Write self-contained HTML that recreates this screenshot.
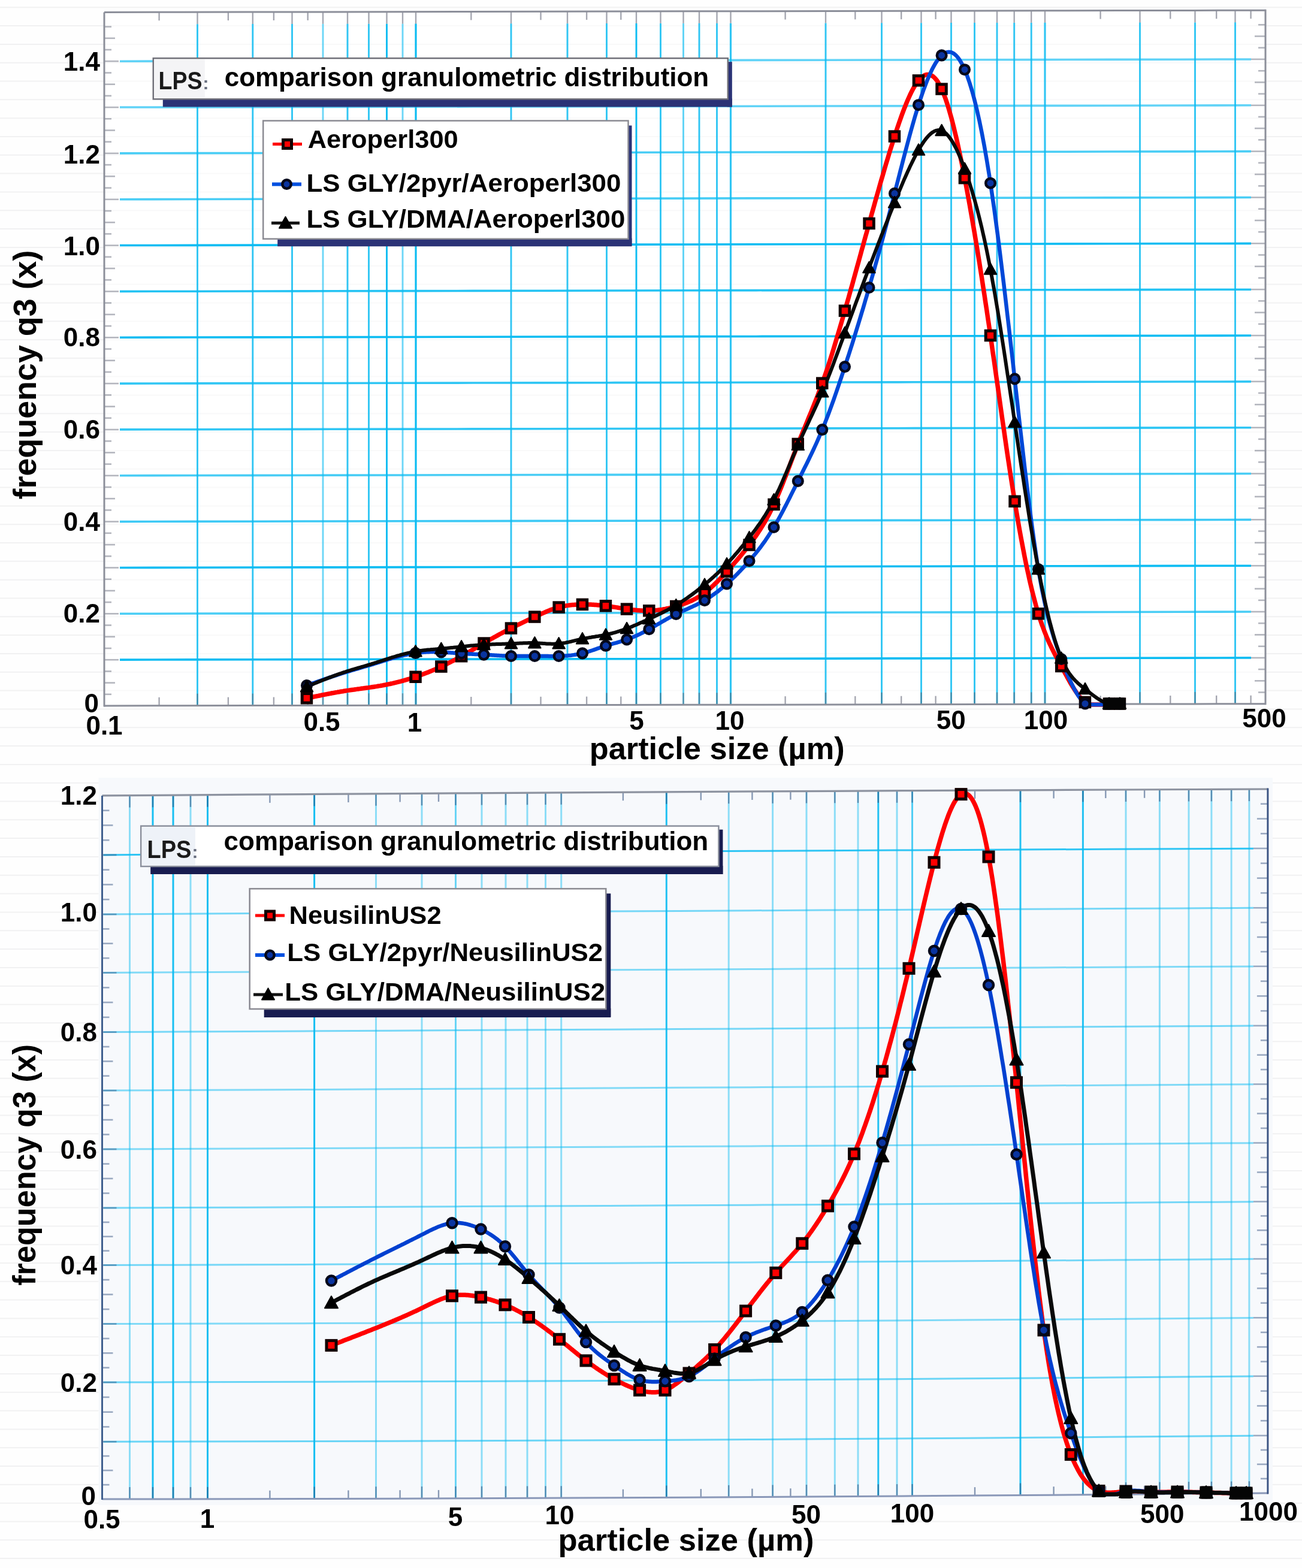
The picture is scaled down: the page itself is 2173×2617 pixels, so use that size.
<!DOCTYPE html>
<html><head><meta charset="utf-8"><title>granulometric distribution</title>
<style>html,body{margin:0;padding:0;background:#fff;}svg{display:block;}</style>
</head><body>
<svg width="2173" height="2617" viewBox="0 0 2173 2617" font-family="'Liberation Sans', Arial, sans-serif">
<rect width="2173" height="2617" fill="#fefefe"/>
<line x1="0" y1="12.2" x2="2173" y2="12.2" stroke="#f1f1f2" stroke-width="2"/>
<line x1="0" y1="43.1" x2="2173" y2="43.1" stroke="#f1f1f2" stroke-width="2"/>
<line x1="0" y1="73.9" x2="2173" y2="73.9" stroke="#f1f1f2" stroke-width="2"/>
<line x1="0" y1="104.7" x2="2173" y2="104.7" stroke="#f1f1f2" stroke-width="2"/>
<line x1="0" y1="135.5" x2="2173" y2="135.5" stroke="#f1f1f2" stroke-width="2"/>
<line x1="0" y1="166.3" x2="2173" y2="166.3" stroke="#f1f1f2" stroke-width="2"/>
<line x1="0" y1="197.2" x2="2173" y2="197.2" stroke="#f1f1f2" stroke-width="2"/>
<line x1="0" y1="228.0" x2="2173" y2="228.0" stroke="#f1f1f2" stroke-width="2"/>
<line x1="0" y1="258.8" x2="2173" y2="258.8" stroke="#f1f1f2" stroke-width="2"/>
<line x1="0" y1="289.6" x2="2173" y2="289.6" stroke="#f1f1f2" stroke-width="2"/>
<line x1="0" y1="320.4" x2="2173" y2="320.4" stroke="#f1f1f2" stroke-width="2"/>
<line x1="0" y1="351.3" x2="2173" y2="351.3" stroke="#f1f1f2" stroke-width="2"/>
<line x1="0" y1="382.1" x2="2173" y2="382.1" stroke="#f1f1f2" stroke-width="2"/>
<line x1="0" y1="412.9" x2="2173" y2="412.9" stroke="#f1f1f2" stroke-width="2"/>
<line x1="0" y1="443.7" x2="2173" y2="443.7" stroke="#f1f1f2" stroke-width="2"/>
<line x1="0" y1="474.5" x2="2173" y2="474.5" stroke="#f1f1f2" stroke-width="2"/>
<line x1="0" y1="505.4" x2="2173" y2="505.4" stroke="#f1f1f2" stroke-width="2"/>
<line x1="0" y1="536.2" x2="2173" y2="536.2" stroke="#f1f1f2" stroke-width="2"/>
<line x1="0" y1="567.0" x2="2173" y2="567.0" stroke="#f1f1f2" stroke-width="2"/>
<line x1="0" y1="597.8" x2="2173" y2="597.8" stroke="#f1f1f2" stroke-width="2"/>
<line x1="0" y1="628.6" x2="2173" y2="628.6" stroke="#f1f1f2" stroke-width="2"/>
<line x1="0" y1="659.5" x2="2173" y2="659.5" stroke="#f1f1f2" stroke-width="2"/>
<line x1="0" y1="690.3" x2="2173" y2="690.3" stroke="#f1f1f2" stroke-width="2"/>
<line x1="0" y1="721.1" x2="2173" y2="721.1" stroke="#f1f1f2" stroke-width="2"/>
<line x1="0" y1="751.9" x2="2173" y2="751.9" stroke="#f1f1f2" stroke-width="2"/>
<line x1="0" y1="782.7" x2="2173" y2="782.7" stroke="#f1f1f2" stroke-width="2"/>
<line x1="0" y1="813.6" x2="2173" y2="813.6" stroke="#f1f1f2" stroke-width="2"/>
<line x1="0" y1="844.4" x2="2173" y2="844.4" stroke="#f1f1f2" stroke-width="2"/>
<line x1="0" y1="875.2" x2="2173" y2="875.2" stroke="#f1f1f2" stroke-width="2"/>
<line x1="0" y1="906.0" x2="2173" y2="906.0" stroke="#f1f1f2" stroke-width="2"/>
<line x1="0" y1="936.8" x2="2173" y2="936.8" stroke="#f1f1f2" stroke-width="2"/>
<line x1="0" y1="967.7" x2="2173" y2="967.7" stroke="#f1f1f2" stroke-width="2"/>
<line x1="0" y1="998.5" x2="2173" y2="998.5" stroke="#f1f1f2" stroke-width="2"/>
<line x1="0" y1="1029.3" x2="2173" y2="1029.3" stroke="#f1f1f2" stroke-width="2"/>
<line x1="0" y1="1060.1" x2="2173" y2="1060.1" stroke="#f1f1f2" stroke-width="2"/>
<line x1="0" y1="1090.9" x2="2173" y2="1090.9" stroke="#f1f1f2" stroke-width="2"/>
<line x1="0" y1="1121.8" x2="2173" y2="1121.8" stroke="#f1f1f2" stroke-width="2"/>
<line x1="0" y1="1152.6" x2="2173" y2="1152.6" stroke="#f1f1f2" stroke-width="2"/>
<line x1="0" y1="1183.4" x2="2173" y2="1183.4" stroke="#f1f1f2" stroke-width="2"/>
<line x1="0" y1="1214.2" x2="2173" y2="1214.2" stroke="#f1f1f2" stroke-width="2"/>
<line x1="0" y1="1245.0" x2="2173" y2="1245.0" stroke="#f1f1f2" stroke-width="2"/>
<line x1="0" y1="1275.9" x2="2173" y2="1275.9" stroke="#f1f1f2" stroke-width="2"/>
<line x1="0" y1="1306.7" x2="2173" y2="1306.7" stroke="#f1f1f2" stroke-width="2"/>
<line x1="0" y1="1337.5" x2="2173" y2="1337.5" stroke="#f1f1f2" stroke-width="2"/>
<line x1="0" y1="1368.3" x2="2173" y2="1368.3" stroke="#f1f1f2" stroke-width="2"/>
<line x1="0" y1="1399.1" x2="2173" y2="1399.1" stroke="#f1f1f2" stroke-width="2"/>
<line x1="0" y1="1430.0" x2="2173" y2="1430.0" stroke="#f1f1f2" stroke-width="2"/>
<line x1="0" y1="1460.8" x2="2173" y2="1460.8" stroke="#f1f1f2" stroke-width="2"/>
<line x1="0" y1="1491.6" x2="2173" y2="1491.6" stroke="#f1f1f2" stroke-width="2"/>
<line x1="0" y1="1522.4" x2="2173" y2="1522.4" stroke="#f1f1f2" stroke-width="2"/>
<line x1="0" y1="1553.2" x2="2173" y2="1553.2" stroke="#f1f1f2" stroke-width="2"/>
<line x1="0" y1="1584.1" x2="2173" y2="1584.1" stroke="#f1f1f2" stroke-width="2"/>
<line x1="0" y1="1614.9" x2="2173" y2="1614.9" stroke="#f1f1f2" stroke-width="2"/>
<line x1="0" y1="1645.7" x2="2173" y2="1645.7" stroke="#f1f1f2" stroke-width="2"/>
<line x1="0" y1="1676.5" x2="2173" y2="1676.5" stroke="#f1f1f2" stroke-width="2"/>
<line x1="0" y1="1707.3" x2="2173" y2="1707.3" stroke="#f1f1f2" stroke-width="2"/>
<line x1="0" y1="1738.2" x2="2173" y2="1738.2" stroke="#f1f1f2" stroke-width="2"/>
<line x1="0" y1="1769.0" x2="2173" y2="1769.0" stroke="#f1f1f2" stroke-width="2"/>
<line x1="0" y1="1799.8" x2="2173" y2="1799.8" stroke="#f1f1f2" stroke-width="2"/>
<line x1="0" y1="1830.6" x2="2173" y2="1830.6" stroke="#f1f1f2" stroke-width="2"/>
<line x1="0" y1="1861.4" x2="2173" y2="1861.4" stroke="#f1f1f2" stroke-width="2"/>
<line x1="0" y1="1892.3" x2="2173" y2="1892.3" stroke="#f1f1f2" stroke-width="2"/>
<line x1="0" y1="1923.1" x2="2173" y2="1923.1" stroke="#f1f1f2" stroke-width="2"/>
<line x1="0" y1="1953.9" x2="2173" y2="1953.9" stroke="#f1f1f2" stroke-width="2"/>
<line x1="0" y1="1984.7" x2="2173" y2="1984.7" stroke="#f1f1f2" stroke-width="2"/>
<line x1="0" y1="2015.5" x2="2173" y2="2015.5" stroke="#f1f1f2" stroke-width="2"/>
<line x1="0" y1="2046.4" x2="2173" y2="2046.4" stroke="#f1f1f2" stroke-width="2"/>
<line x1="0" y1="2077.2" x2="2173" y2="2077.2" stroke="#f1f1f2" stroke-width="2"/>
<line x1="0" y1="2108.0" x2="2173" y2="2108.0" stroke="#f1f1f2" stroke-width="2"/>
<line x1="0" y1="2138.8" x2="2173" y2="2138.8" stroke="#f1f1f2" stroke-width="2"/>
<line x1="0" y1="2169.6" x2="2173" y2="2169.6" stroke="#f1f1f2" stroke-width="2"/>
<line x1="0" y1="2200.5" x2="2173" y2="2200.5" stroke="#f1f1f2" stroke-width="2"/>
<line x1="0" y1="2231.3" x2="2173" y2="2231.3" stroke="#f1f1f2" stroke-width="2"/>
<line x1="0" y1="2262.1" x2="2173" y2="2262.1" stroke="#f1f1f2" stroke-width="2"/>
<line x1="0" y1="2292.9" x2="2173" y2="2292.9" stroke="#f1f1f2" stroke-width="2"/>
<line x1="0" y1="2323.7" x2="2173" y2="2323.7" stroke="#f1f1f2" stroke-width="2"/>
<line x1="0" y1="2354.6" x2="2173" y2="2354.6" stroke="#f1f1f2" stroke-width="2"/>
<line x1="0" y1="2385.4" x2="2173" y2="2385.4" stroke="#f1f1f2" stroke-width="2"/>
<line x1="0" y1="2416.2" x2="2173" y2="2416.2" stroke="#f1f1f2" stroke-width="2"/>
<line x1="0" y1="2447.0" x2="2173" y2="2447.0" stroke="#f1f1f2" stroke-width="2"/>
<line x1="0" y1="2477.8" x2="2173" y2="2477.8" stroke="#f1f1f2" stroke-width="2"/>
<line x1="0" y1="2508.7" x2="2173" y2="2508.7" stroke="#f1f1f2" stroke-width="2"/>
<line x1="0" y1="2539.5" x2="2173" y2="2539.5" stroke="#f1f1f2" stroke-width="2"/>
<line x1="0" y1="2570.3" x2="2173" y2="2570.3" stroke="#f1f1f2" stroke-width="2"/>
<line x1="0" y1="2601.1" x2="2173" y2="2601.1" stroke="#f1f1f2" stroke-width="2"/>
<line x1="0" y1="2631.9" x2="2173" y2="2631.9" stroke="#f1f1f2" stroke-width="2"/>
<line x1="0" y1="2662.8" x2="2173" y2="2662.8" stroke="#f1f1f2" stroke-width="2"/>
<line x1="0" y1="2693.6" x2="2173" y2="2693.6" stroke="#f1f1f2" stroke-width="2"/>
<line x1="0" y1="2724.4" x2="2173" y2="2724.4" stroke="#f1f1f2" stroke-width="2"/>
<line x1="0" y1="2755.2" x2="2173" y2="2755.2" stroke="#f1f1f2" stroke-width="2"/>
<rect x="174" y="20.5" width="1938" height="1157.5" fill="#ffffff" opacity="0.55"/>
<line x1="329.5" y1="40.2" x2="329.5" y2="1177.7" stroke="#0cbcf2" stroke-width="2.9" opacity="0.85"/>
<line x1="421.8" y1="40.1" x2="421.8" y2="1177.6" stroke="#0cbcf2" stroke-width="2.9" opacity="0.85"/>
<line x1="487.5" y1="40.0" x2="487.5" y2="1177.5" stroke="#0cbcf2" stroke-width="2.9" opacity="0.85"/>
<line x1="539.0" y1="39.9" x2="539.0" y2="1177.4" stroke="#0cbcf2" stroke-width="2.9" opacity="0.6"/>
<line x1="580.0" y1="39.8" x2="580.0" y2="1177.3" stroke="#0cbcf2" stroke-width="2.9" opacity="0.85"/>
<line x1="615.5" y1="39.7" x2="615.5" y2="1177.2" stroke="#0cbcf2" stroke-width="2.9" opacity="0.85"/>
<line x1="645.5" y1="39.7" x2="645.5" y2="1177.2" stroke="#0cbcf2" stroke-width="2.9" opacity="1"/>
<line x1="672.0" y1="39.7" x2="672.0" y2="1177.2" stroke="#0cbcf2" stroke-width="2.9" opacity="0.6"/>
<line x1="694.0" y1="39.6" x2="694.0" y2="1177.1" stroke="#0cbcf2" stroke-width="3.1999999999999997" opacity="1"/>
<line x1="853.0" y1="39.3" x2="853.0" y2="1176.8" stroke="#0cbcf2" stroke-width="2.9" opacity="0.85"/>
<line x1="947.0" y1="39.2" x2="947.0" y2="1176.7" stroke="#0cbcf2" stroke-width="2.9" opacity="0.85"/>
<line x1="1012.5" y1="39.1" x2="1012.5" y2="1176.6" stroke="#0cbcf2" stroke-width="2.9" opacity="0.85"/>
<line x1="1062.0" y1="39.0" x2="1062.0" y2="1176.5" stroke="#0cbcf2" stroke-width="2.9" opacity="1"/>
<line x1="1102.5" y1="38.9" x2="1102.5" y2="1176.4" stroke="#0cbcf2" stroke-width="2.9" opacity="0.85"/>
<line x1="1140.5" y1="38.9" x2="1140.5" y2="1176.4" stroke="#0cbcf2" stroke-width="2.9" opacity="0.65"/>
<line x1="1167.0" y1="38.8" x2="1167.0" y2="1176.3" stroke="#0cbcf2" stroke-width="2.9" opacity="0.85"/>
<line x1="1196.5" y1="38.8" x2="1196.5" y2="1176.3" stroke="#0cbcf2" stroke-width="2.9" opacity="0.85"/>
<line x1="1219.5" y1="38.7" x2="1219.5" y2="1176.2" stroke="#0cbcf2" stroke-width="3.1999999999999997" opacity="0.85"/>
<line x1="1378.0" y1="38.4" x2="1378.0" y2="1175.9" stroke="#0cbcf2" stroke-width="2.9" opacity="0.85"/>
<line x1="1471.5" y1="38.3" x2="1471.5" y2="1175.8" stroke="#0cbcf2" stroke-width="2.9" opacity="0.85"/>
<line x1="1537.5" y1="38.2" x2="1537.5" y2="1175.7" stroke="#0cbcf2" stroke-width="2.9" opacity="0.85"/>
<line x1="1587.5" y1="38.1" x2="1587.5" y2="1175.6" stroke="#0cbcf2" stroke-width="2.9" opacity="0.85"/>
<line x1="1626.5" y1="38.0" x2="1626.5" y2="1175.5" stroke="#0cbcf2" stroke-width="2.9" opacity="0.85"/>
<line x1="1664.0" y1="38.0" x2="1664.0" y2="1175.5" stroke="#0cbcf2" stroke-width="2.9" opacity="0.85"/>
<line x1="1692.7" y1="37.9" x2="1692.7" y2="1175.4" stroke="#0cbcf2" stroke-width="2.9" opacity="0.85"/>
<line x1="1721.2" y1="37.9" x2="1721.2" y2="1175.4" stroke="#0cbcf2" stroke-width="2.9" opacity="0.85"/>
<line x1="1744.0" y1="37.8" x2="1744.0" y2="1175.3" stroke="#0cbcf2" stroke-width="3.1999999999999997" opacity="0.85"/>
<line x1="1902.5" y1="37.6" x2="1902.5" y2="1175.1" stroke="#0cbcf2" stroke-width="2.9" opacity="0.85"/>
<line x1="1994.5" y1="37.4" x2="1994.5" y2="1174.9" stroke="#0cbcf2" stroke-width="2.9" opacity="0.85"/>
<line x1="2061.5" y1="37.3" x2="2061.5" y2="1174.8" stroke="#0cbcf2" stroke-width="2.9" opacity="0.85"/>
<polyline points="200.0,1101.12 318.0,1100.91 436.0,1100.71 554.0,1100.51 672.0,1100.31 790.0,1100.11 908.0,1099.91 1026.0,1099.71 1144.0,1099.51 1262.0,1099.31 1380.0,1099.11 1498.0,1098.91 1616.0,1098.70 1734.0,1098.50 1852.0,1098.30 1970.0,1098.10 2088.0,1097.90" fill="none" stroke="#0cbcf2" stroke-width="3.6" opacity="1"/>
<polyline points="200.0,1024.28 318.0,1024.07 436.0,1023.87 554.0,1023.67 672.0,1023.47 790.0,1023.27 908.0,1023.07 1026.0,1022.87 1144.0,1022.67 1262.0,1022.47 1380.0,1022.27 1498.0,1022.07 1616.0,1021.86 1734.0,1021.66 1852.0,1021.46 1970.0,1021.26 2088.0,1021.06" fill="none" stroke="#0cbcf2" stroke-width="3.6" opacity="0.75"/>
<polyline points="200.0,947.44 318.0,947.23 436.0,947.03 554.0,946.83 672.0,946.63 790.0,946.43 908.0,946.23 1026.0,946.03 1144.0,945.83 1262.0,945.63 1380.0,945.43 1498.0,945.23 1616.0,945.02 1734.0,944.82 1852.0,944.62 1970.0,944.42 2088.0,944.22" fill="none" stroke="#0cbcf2" stroke-width="3.6" opacity="1"/>
<polyline points="200.0,870.60 318.0,870.39 436.0,870.19 554.0,869.99 672.0,869.79 790.0,869.59 908.0,869.39 1026.0,869.19 1144.0,868.99 1262.0,868.79 1380.0,868.59 1498.0,868.39 1616.0,868.18 1734.0,867.98 1852.0,867.78 1970.0,867.58 2088.0,867.38" fill="none" stroke="#0cbcf2" stroke-width="3.6" opacity="0.8"/>
<polyline points="200.0,793.76 318.0,793.55 436.0,793.35 554.0,793.15 672.0,792.95 790.0,792.75 908.0,792.55 1026.0,792.35 1144.0,792.15 1262.0,791.95 1380.0,791.75 1498.0,791.55 1616.0,791.34 1734.0,791.14 1852.0,790.94 1970.0,790.74 2088.0,790.54" fill="none" stroke="#0cbcf2" stroke-width="3.6" opacity="0.75"/>
<polyline points="200.0,716.92 318.0,716.71 436.0,716.51 554.0,716.31 672.0,716.11 790.0,715.91 908.0,715.71 1026.0,715.51 1144.0,715.31 1262.0,715.11 1380.0,714.91 1498.0,714.71 1616.0,714.50 1734.0,714.30 1852.0,714.10 1970.0,713.90 2088.0,713.70" fill="none" stroke="#0cbcf2" stroke-width="3.6" opacity="0.85"/>
<polyline points="200.0,640.08 318.0,639.87 436.0,639.67 554.0,639.47 672.0,639.27 790.0,639.07 908.0,638.87 1026.0,638.67 1144.0,638.47 1262.0,638.27 1380.0,638.07 1498.0,637.87 1616.0,637.66 1734.0,637.46 1852.0,637.26 1970.0,637.06 2088.0,636.86" fill="none" stroke="#0cbcf2" stroke-width="3.6" opacity="0.85"/>
<polyline points="200.0,563.24 318.0,563.03 436.0,562.83 554.0,562.63 672.0,562.43 790.0,562.23 908.0,562.03 1026.0,561.83 1144.0,561.63 1262.0,561.43 1380.0,561.23 1498.0,561.03 1616.0,560.82 1734.0,560.62 1852.0,560.42 1970.0,560.22 2088.0,560.02" fill="none" stroke="#0cbcf2" stroke-width="3.6" opacity="1"/>
<polyline points="200.0,486.40 318.0,486.19 436.0,485.99 554.0,485.79 672.0,485.59 790.0,485.39 908.0,485.19 1026.0,484.99 1144.0,484.79 1262.0,484.59 1380.0,484.39 1498.0,484.19 1616.0,483.98 1734.0,483.78 1852.0,483.58 1970.0,483.38 2088.0,483.18" fill="none" stroke="#0cbcf2" stroke-width="3.6" opacity="0.9"/>
<polyline points="200.0,409.56 318.0,409.35 436.0,409.15 554.0,408.95 672.0,408.75 790.0,408.55 908.0,408.35 1026.0,408.15 1144.0,407.95 1262.0,407.75 1380.0,407.55 1498.0,407.35 1616.0,407.14 1734.0,406.94 1852.0,406.74 1970.0,406.54 2088.0,406.34" fill="none" stroke="#0cbcf2" stroke-width="3.6" opacity="1"/>
<polyline points="200.0,332.72 318.0,332.51 436.0,332.31 554.0,332.11 672.0,331.91 790.0,331.71 908.0,331.51 1026.0,331.31 1144.0,331.11 1262.0,330.91 1380.0,330.71 1498.0,330.51 1616.0,330.30 1734.0,330.10 1852.0,329.90 1970.0,329.70 2088.0,329.50" fill="none" stroke="#0cbcf2" stroke-width="3.6" opacity="0.75"/>
<polyline points="200.0,255.88 318.0,255.67 436.0,255.47 554.0,255.27 672.0,255.07 790.0,254.87 908.0,254.67 1026.0,254.47 1144.0,254.27 1262.0,254.07 1380.0,253.87 1498.0,253.67 1616.0,253.46 1734.0,253.26 1852.0,253.06 1970.0,252.86 2088.0,252.66" fill="none" stroke="#0cbcf2" stroke-width="3.6" opacity="0.75"/>
<polyline points="200.0,179.04 318.0,178.83 436.0,178.63 554.0,178.43 672.0,178.23 790.0,178.03 908.0,177.83 1026.0,177.63 1144.0,177.43 1262.0,177.23 1380.0,177.03 1498.0,176.83 1616.0,176.62 1734.0,176.42 1852.0,176.22 1970.0,176.02 2088.0,175.82" fill="none" stroke="#0cbcf2" stroke-width="3.6" opacity="0.65"/>
<polyline points="200.0,102.20 318.0,101.99 436.0,101.79 554.0,101.59 672.0,101.39 790.0,101.19 908.0,100.99 1026.0,100.79 1144.0,100.59 1262.0,100.39 1380.0,100.19 1498.0,99.99 1616.0,99.78 1734.0,99.58 1852.0,99.38 1970.0,99.18 2088.0,98.98" fill="none" stroke="#0cbcf2" stroke-width="3.6" opacity="0.65"/>
<line x1="174" y1="1158.8" x2="186" y2="1158.8" stroke="#5a5f70" stroke-width="2.6" opacity="0.45"/>
<line x1="2100" y1="1155.5" x2="2112" y2="1155.5" stroke="#5a5f70" stroke-width="2.6" opacity="0.45"/>
<line x1="174" y1="1139.6" x2="192" y2="1139.6" stroke="#5a5f70" stroke-width="2.6" opacity="0.45"/>
<line x1="2094" y1="1136.3" x2="2112" y2="1136.3" stroke="#5a5f70" stroke-width="2.6" opacity="0.45"/>
<line x1="174" y1="1120.4" x2="186" y2="1120.4" stroke="#5a5f70" stroke-width="2.6" opacity="0.45"/>
<line x1="2100" y1="1117.1" x2="2112" y2="1117.1" stroke="#5a5f70" stroke-width="2.6" opacity="0.45"/>
<line x1="174" y1="1101.2" x2="198" y2="1101.2" stroke="#5a5f70" stroke-width="2.6" opacity="0.45"/>
<line x1="2088" y1="1097.9" x2="2112" y2="1097.9" stroke="#5a5f70" stroke-width="2.6" opacity="0.45"/>
<line x1="174" y1="1082.0" x2="186" y2="1082.0" stroke="#5a5f70" stroke-width="2.6" opacity="0.45"/>
<line x1="2100" y1="1078.7" x2="2112" y2="1078.7" stroke="#5a5f70" stroke-width="2.6" opacity="0.45"/>
<line x1="174" y1="1062.7" x2="192" y2="1062.7" stroke="#5a5f70" stroke-width="2.6" opacity="0.45"/>
<line x1="2094" y1="1059.4" x2="2112" y2="1059.4" stroke="#5a5f70" stroke-width="2.6" opacity="0.45"/>
<line x1="174" y1="1043.5" x2="186" y2="1043.5" stroke="#5a5f70" stroke-width="2.6" opacity="0.45"/>
<line x1="2100" y1="1040.2" x2="2112" y2="1040.2" stroke="#5a5f70" stroke-width="2.6" opacity="0.45"/>
<line x1="174" y1="1024.3" x2="198" y2="1024.3" stroke="#5a5f70" stroke-width="2.6" opacity="0.45"/>
<line x1="2088" y1="1021.0" x2="2112" y2="1021.0" stroke="#5a5f70" stroke-width="2.6" opacity="0.45"/>
<line x1="174" y1="1005.1" x2="186" y2="1005.1" stroke="#5a5f70" stroke-width="2.6" opacity="0.45"/>
<line x1="2100" y1="1001.8" x2="2112" y2="1001.8" stroke="#5a5f70" stroke-width="2.6" opacity="0.45"/>
<line x1="174" y1="985.9" x2="192" y2="985.9" stroke="#5a5f70" stroke-width="2.6" opacity="0.45"/>
<line x1="2094" y1="982.6" x2="2112" y2="982.6" stroke="#5a5f70" stroke-width="2.6" opacity="0.45"/>
<line x1="174" y1="966.7" x2="186" y2="966.7" stroke="#5a5f70" stroke-width="2.6" opacity="0.45"/>
<line x1="2100" y1="963.4" x2="2112" y2="963.4" stroke="#5a5f70" stroke-width="2.6" opacity="0.45"/>
<line x1="174" y1="947.5" x2="198" y2="947.5" stroke="#5a5f70" stroke-width="2.6" opacity="0.45"/>
<line x1="2088" y1="944.2" x2="2112" y2="944.2" stroke="#5a5f70" stroke-width="2.6" opacity="0.45"/>
<line x1="174" y1="928.3" x2="186" y2="928.3" stroke="#5a5f70" stroke-width="2.6" opacity="0.45"/>
<line x1="2100" y1="925.0" x2="2112" y2="925.0" stroke="#5a5f70" stroke-width="2.6" opacity="0.45"/>
<line x1="174" y1="909.1" x2="192" y2="909.1" stroke="#5a5f70" stroke-width="2.6" opacity="0.45"/>
<line x1="2094" y1="905.8" x2="2112" y2="905.8" stroke="#5a5f70" stroke-width="2.6" opacity="0.45"/>
<line x1="174" y1="889.8" x2="186" y2="889.8" stroke="#5a5f70" stroke-width="2.6" opacity="0.45"/>
<line x1="2100" y1="886.5" x2="2112" y2="886.5" stroke="#5a5f70" stroke-width="2.6" opacity="0.45"/>
<line x1="174" y1="870.6" x2="198" y2="870.6" stroke="#5a5f70" stroke-width="2.6" opacity="0.45"/>
<line x1="2088" y1="867.3" x2="2112" y2="867.3" stroke="#5a5f70" stroke-width="2.6" opacity="0.45"/>
<line x1="174" y1="851.4" x2="186" y2="851.4" stroke="#5a5f70" stroke-width="2.6" opacity="0.45"/>
<line x1="2100" y1="848.1" x2="2112" y2="848.1" stroke="#5a5f70" stroke-width="2.6" opacity="0.45"/>
<line x1="174" y1="832.2" x2="192" y2="832.2" stroke="#5a5f70" stroke-width="2.6" opacity="0.45"/>
<line x1="2094" y1="828.9" x2="2112" y2="828.9" stroke="#5a5f70" stroke-width="2.6" opacity="0.45"/>
<line x1="174" y1="813.0" x2="186" y2="813.0" stroke="#5a5f70" stroke-width="2.6" opacity="0.45"/>
<line x1="2100" y1="809.7" x2="2112" y2="809.7" stroke="#5a5f70" stroke-width="2.6" opacity="0.45"/>
<line x1="174" y1="793.8" x2="198" y2="793.8" stroke="#5a5f70" stroke-width="2.6" opacity="0.45"/>
<line x1="2088" y1="790.5" x2="2112" y2="790.5" stroke="#5a5f70" stroke-width="2.6" opacity="0.45"/>
<line x1="174" y1="774.6" x2="186" y2="774.6" stroke="#5a5f70" stroke-width="2.6" opacity="0.45"/>
<line x1="2100" y1="771.3" x2="2112" y2="771.3" stroke="#5a5f70" stroke-width="2.6" opacity="0.45"/>
<line x1="174" y1="755.4" x2="192" y2="755.4" stroke="#5a5f70" stroke-width="2.6" opacity="0.45"/>
<line x1="2094" y1="752.1" x2="2112" y2="752.1" stroke="#5a5f70" stroke-width="2.6" opacity="0.45"/>
<line x1="174" y1="736.2" x2="186" y2="736.2" stroke="#5a5f70" stroke-width="2.6" opacity="0.45"/>
<line x1="2100" y1="732.9" x2="2112" y2="732.9" stroke="#5a5f70" stroke-width="2.6" opacity="0.45"/>
<line x1="174" y1="717.0" x2="198" y2="717.0" stroke="#5a5f70" stroke-width="2.6" opacity="0.45"/>
<line x1="2088" y1="713.7" x2="2112" y2="713.7" stroke="#5a5f70" stroke-width="2.6" opacity="0.45"/>
<line x1="174" y1="697.7" x2="186" y2="697.7" stroke="#5a5f70" stroke-width="2.6" opacity="0.45"/>
<line x1="2100" y1="694.4" x2="2112" y2="694.4" stroke="#5a5f70" stroke-width="2.6" opacity="0.45"/>
<line x1="174" y1="678.5" x2="192" y2="678.5" stroke="#5a5f70" stroke-width="2.6" opacity="0.45"/>
<line x1="2094" y1="675.2" x2="2112" y2="675.2" stroke="#5a5f70" stroke-width="2.6" opacity="0.45"/>
<line x1="174" y1="659.3" x2="186" y2="659.3" stroke="#5a5f70" stroke-width="2.6" opacity="0.45"/>
<line x1="2100" y1="656.0" x2="2112" y2="656.0" stroke="#5a5f70" stroke-width="2.6" opacity="0.45"/>
<line x1="174" y1="640.1" x2="198" y2="640.1" stroke="#5a5f70" stroke-width="2.6" opacity="0.45"/>
<line x1="2088" y1="636.8" x2="2112" y2="636.8" stroke="#5a5f70" stroke-width="2.6" opacity="0.45"/>
<line x1="174" y1="620.9" x2="186" y2="620.9" stroke="#5a5f70" stroke-width="2.6" opacity="0.45"/>
<line x1="2100" y1="617.6" x2="2112" y2="617.6" stroke="#5a5f70" stroke-width="2.6" opacity="0.45"/>
<line x1="174" y1="601.7" x2="192" y2="601.7" stroke="#5a5f70" stroke-width="2.6" opacity="0.45"/>
<line x1="2094" y1="598.4" x2="2112" y2="598.4" stroke="#5a5f70" stroke-width="2.6" opacity="0.45"/>
<line x1="174" y1="582.5" x2="186" y2="582.5" stroke="#5a5f70" stroke-width="2.6" opacity="0.45"/>
<line x1="2100" y1="579.2" x2="2112" y2="579.2" stroke="#5a5f70" stroke-width="2.6" opacity="0.45"/>
<line x1="174" y1="563.3" x2="198" y2="563.3" stroke="#5a5f70" stroke-width="2.6" opacity="0.45"/>
<line x1="2088" y1="560.0" x2="2112" y2="560.0" stroke="#5a5f70" stroke-width="2.6" opacity="0.45"/>
<line x1="174" y1="544.1" x2="186" y2="544.1" stroke="#5a5f70" stroke-width="2.6" opacity="0.45"/>
<line x1="2100" y1="540.8" x2="2112" y2="540.8" stroke="#5a5f70" stroke-width="2.6" opacity="0.45"/>
<line x1="174" y1="524.9" x2="192" y2="524.9" stroke="#5a5f70" stroke-width="2.6" opacity="0.45"/>
<line x1="2094" y1="521.6" x2="2112" y2="521.6" stroke="#5a5f70" stroke-width="2.6" opacity="0.45"/>
<line x1="174" y1="505.6" x2="186" y2="505.6" stroke="#5a5f70" stroke-width="2.6" opacity="0.45"/>
<line x1="2100" y1="502.3" x2="2112" y2="502.3" stroke="#5a5f70" stroke-width="2.6" opacity="0.45"/>
<line x1="174" y1="486.4" x2="198" y2="486.4" stroke="#5a5f70" stroke-width="2.6" opacity="0.45"/>
<line x1="2088" y1="483.1" x2="2112" y2="483.1" stroke="#5a5f70" stroke-width="2.6" opacity="0.45"/>
<line x1="174" y1="467.2" x2="186" y2="467.2" stroke="#5a5f70" stroke-width="2.6" opacity="0.45"/>
<line x1="2100" y1="463.9" x2="2112" y2="463.9" stroke="#5a5f70" stroke-width="2.6" opacity="0.45"/>
<line x1="174" y1="448.0" x2="192" y2="448.0" stroke="#5a5f70" stroke-width="2.6" opacity="0.45"/>
<line x1="2094" y1="444.7" x2="2112" y2="444.7" stroke="#5a5f70" stroke-width="2.6" opacity="0.45"/>
<line x1="174" y1="428.8" x2="186" y2="428.8" stroke="#5a5f70" stroke-width="2.6" opacity="0.45"/>
<line x1="2100" y1="425.5" x2="2112" y2="425.5" stroke="#5a5f70" stroke-width="2.6" opacity="0.45"/>
<line x1="174" y1="409.6" x2="198" y2="409.6" stroke="#5a5f70" stroke-width="2.6" opacity="0.45"/>
<line x1="2088" y1="406.3" x2="2112" y2="406.3" stroke="#5a5f70" stroke-width="2.6" opacity="0.45"/>
<line x1="174" y1="390.4" x2="186" y2="390.4" stroke="#5a5f70" stroke-width="2.6" opacity="0.45"/>
<line x1="2100" y1="387.1" x2="2112" y2="387.1" stroke="#5a5f70" stroke-width="2.6" opacity="0.45"/>
<line x1="174" y1="371.2" x2="192" y2="371.2" stroke="#5a5f70" stroke-width="2.6" opacity="0.45"/>
<line x1="2094" y1="367.9" x2="2112" y2="367.9" stroke="#5a5f70" stroke-width="2.6" opacity="0.45"/>
<line x1="174" y1="352.0" x2="186" y2="352.0" stroke="#5a5f70" stroke-width="2.6" opacity="0.45"/>
<line x1="2100" y1="348.7" x2="2112" y2="348.7" stroke="#5a5f70" stroke-width="2.6" opacity="0.45"/>
<line x1="174" y1="332.8" x2="198" y2="332.8" stroke="#5a5f70" stroke-width="2.6" opacity="0.45"/>
<line x1="2088" y1="329.5" x2="2112" y2="329.5" stroke="#5a5f70" stroke-width="2.6" opacity="0.45"/>
<line x1="174" y1="313.6" x2="186" y2="313.6" stroke="#5a5f70" stroke-width="2.6" opacity="0.45"/>
<line x1="2100" y1="310.3" x2="2112" y2="310.3" stroke="#5a5f70" stroke-width="2.6" opacity="0.45"/>
<line x1="174" y1="294.3" x2="192" y2="294.3" stroke="#5a5f70" stroke-width="2.6" opacity="0.45"/>
<line x1="2094" y1="291.0" x2="2112" y2="291.0" stroke="#5a5f70" stroke-width="2.6" opacity="0.45"/>
<line x1="174" y1="275.1" x2="186" y2="275.1" stroke="#5a5f70" stroke-width="2.6" opacity="0.45"/>
<line x1="2100" y1="271.8" x2="2112" y2="271.8" stroke="#5a5f70" stroke-width="2.6" opacity="0.45"/>
<line x1="174" y1="255.9" x2="198" y2="255.9" stroke="#5a5f70" stroke-width="2.6" opacity="0.45"/>
<line x1="2088" y1="252.6" x2="2112" y2="252.6" stroke="#5a5f70" stroke-width="2.6" opacity="0.45"/>
<line x1="174" y1="236.7" x2="186" y2="236.7" stroke="#5a5f70" stroke-width="2.6" opacity="0.45"/>
<line x1="2100" y1="233.4" x2="2112" y2="233.4" stroke="#5a5f70" stroke-width="2.6" opacity="0.45"/>
<line x1="174" y1="217.5" x2="192" y2="217.5" stroke="#5a5f70" stroke-width="2.6" opacity="0.45"/>
<line x1="2094" y1="214.2" x2="2112" y2="214.2" stroke="#5a5f70" stroke-width="2.6" opacity="0.45"/>
<line x1="174" y1="198.3" x2="186" y2="198.3" stroke="#5a5f70" stroke-width="2.6" opacity="0.45"/>
<line x1="2100" y1="195.0" x2="2112" y2="195.0" stroke="#5a5f70" stroke-width="2.6" opacity="0.45"/>
<line x1="174" y1="179.1" x2="198" y2="179.1" stroke="#5a5f70" stroke-width="2.6" opacity="0.45"/>
<line x1="2088" y1="175.8" x2="2112" y2="175.8" stroke="#5a5f70" stroke-width="2.6" opacity="0.45"/>
<line x1="174" y1="159.9" x2="186" y2="159.9" stroke="#5a5f70" stroke-width="2.6" opacity="0.45"/>
<line x1="2100" y1="156.6" x2="2112" y2="156.6" stroke="#5a5f70" stroke-width="2.6" opacity="0.45"/>
<line x1="174" y1="140.7" x2="192" y2="140.7" stroke="#5a5f70" stroke-width="2.6" opacity="0.45"/>
<line x1="2094" y1="137.4" x2="2112" y2="137.4" stroke="#5a5f70" stroke-width="2.6" opacity="0.45"/>
<line x1="174" y1="121.5" x2="186" y2="121.5" stroke="#5a5f70" stroke-width="2.6" opacity="0.45"/>
<line x1="2100" y1="118.2" x2="2112" y2="118.2" stroke="#5a5f70" stroke-width="2.6" opacity="0.45"/>
<line x1="174" y1="102.2" x2="198" y2="102.2" stroke="#5a5f70" stroke-width="2.6" opacity="0.45"/>
<line x1="2088" y1="98.9" x2="2112" y2="98.9" stroke="#5a5f70" stroke-width="2.6" opacity="0.45"/>
<line x1="174" y1="83.0" x2="186" y2="83.0" stroke="#5a5f70" stroke-width="2.6" opacity="0.45"/>
<line x1="2100" y1="79.7" x2="2112" y2="79.7" stroke="#5a5f70" stroke-width="2.6" opacity="0.45"/>
<line x1="174" y1="63.8" x2="192" y2="63.8" stroke="#5a5f70" stroke-width="2.6" opacity="0.45"/>
<line x1="2094" y1="60.5" x2="2112" y2="60.5" stroke="#5a5f70" stroke-width="2.6" opacity="0.45"/>
<line x1="174" y1="44.6" x2="186" y2="44.6" stroke="#5a5f70" stroke-width="2.6" opacity="0.45"/>
<line x1="2100" y1="41.3" x2="2112" y2="41.3" stroke="#5a5f70" stroke-width="2.6" opacity="0.45"/>
<line x1="265.6" y1="1177.8" x2="265.6" y2="1163.8" stroke="#5a5f70" stroke-width="2.4" opacity="0.55"/>
<line x1="265.6" y1="20.3" x2="265.6" y2="34.3" stroke="#5a5f70" stroke-width="2.4" opacity="0.55"/>
<line x1="380.9" y1="1177.6" x2="380.9" y2="1163.6" stroke="#5a5f70" stroke-width="2.4" opacity="0.55"/>
<line x1="380.9" y1="20.1" x2="380.9" y2="34.1" stroke="#5a5f70" stroke-width="2.4" opacity="0.55"/>
<line x1="456.9" y1="1177.5" x2="456.9" y2="1163.5" stroke="#5a5f70" stroke-width="2.4" opacity="0.55"/>
<line x1="456.9" y1="20.0" x2="456.9" y2="34.0" stroke="#5a5f70" stroke-width="2.4" opacity="0.55"/>
<line x1="513.7" y1="1177.4" x2="513.7" y2="1163.4" stroke="#5a5f70" stroke-width="2.4" opacity="0.55"/>
<line x1="513.7" y1="19.9" x2="513.7" y2="33.9" stroke="#5a5f70" stroke-width="2.4" opacity="0.55"/>
<line x1="329.5" y1="1177.7" x2="329.5" y2="1157.7" stroke="#5a5f70" stroke-width="2.4" opacity="0.55"/>
<line x1="329.5" y1="20.2" x2="329.5" y2="40.2" stroke="#5a5f70" stroke-width="2.4" opacity="0.55"/>
<line x1="421.8" y1="1177.6" x2="421.8" y2="1157.6" stroke="#5a5f70" stroke-width="2.4" opacity="0.55"/>
<line x1="421.8" y1="20.1" x2="421.8" y2="40.1" stroke="#5a5f70" stroke-width="2.4" opacity="0.55"/>
<line x1="487.5" y1="1177.5" x2="487.5" y2="1157.5" stroke="#5a5f70" stroke-width="2.4" opacity="0.55"/>
<line x1="487.5" y1="20.0" x2="487.5" y2="40.0" stroke="#5a5f70" stroke-width="2.4" opacity="0.55"/>
<line x1="539.0" y1="1177.4" x2="539.0" y2="1157.4" stroke="#5a5f70" stroke-width="2.4" opacity="0.55"/>
<line x1="539.0" y1="19.9" x2="539.0" y2="39.9" stroke="#5a5f70" stroke-width="2.4" opacity="0.55"/>
<line x1="580.0" y1="1177.3" x2="580.0" y2="1157.3" stroke="#5a5f70" stroke-width="2.4" opacity="0.55"/>
<line x1="580.0" y1="19.8" x2="580.0" y2="39.8" stroke="#5a5f70" stroke-width="2.4" opacity="0.55"/>
<line x1="615.5" y1="1177.2" x2="615.5" y2="1157.2" stroke="#5a5f70" stroke-width="2.4" opacity="0.55"/>
<line x1="615.5" y1="19.7" x2="615.5" y2="39.7" stroke="#5a5f70" stroke-width="2.4" opacity="0.55"/>
<line x1="645.5" y1="1177.2" x2="645.5" y2="1157.2" stroke="#5a5f70" stroke-width="2.4" opacity="0.55"/>
<line x1="645.5" y1="19.7" x2="645.5" y2="39.7" stroke="#5a5f70" stroke-width="2.4" opacity="0.55"/>
<line x1="672.0" y1="1177.2" x2="672.0" y2="1157.2" stroke="#5a5f70" stroke-width="2.4" opacity="0.55"/>
<line x1="672.0" y1="19.7" x2="672.0" y2="39.7" stroke="#5a5f70" stroke-width="2.4" opacity="0.55"/>
<line x1="786.3" y1="1177.0" x2="786.3" y2="1163.0" stroke="#5a5f70" stroke-width="2.4" opacity="0.55"/>
<line x1="786.3" y1="19.5" x2="786.3" y2="33.5" stroke="#5a5f70" stroke-width="2.4" opacity="0.55"/>
<line x1="902.5" y1="1176.8" x2="902.5" y2="1162.8" stroke="#5a5f70" stroke-width="2.4" opacity="0.55"/>
<line x1="902.5" y1="19.3" x2="902.5" y2="33.3" stroke="#5a5f70" stroke-width="2.4" opacity="0.55"/>
<line x1="979.1" y1="1176.6" x2="979.1" y2="1162.6" stroke="#5a5f70" stroke-width="2.4" opacity="0.55"/>
<line x1="979.1" y1="19.1" x2="979.1" y2="33.1" stroke="#5a5f70" stroke-width="2.4" opacity="0.55"/>
<line x1="1036.3" y1="1176.5" x2="1036.3" y2="1162.5" stroke="#5a5f70" stroke-width="2.4" opacity="0.55"/>
<line x1="1036.3" y1="19.0" x2="1036.3" y2="33.0" stroke="#5a5f70" stroke-width="2.4" opacity="0.55"/>
<line x1="694.0" y1="1177.1" x2="694.0" y2="1157.1" stroke="#5a5f70" stroke-width="2.4" opacity="0.55"/>
<line x1="694.0" y1="19.6" x2="694.0" y2="39.6" stroke="#5a5f70" stroke-width="2.4" opacity="0.55"/>
<line x1="853.0" y1="1176.8" x2="853.0" y2="1156.8" stroke="#5a5f70" stroke-width="2.4" opacity="0.55"/>
<line x1="853.0" y1="19.3" x2="853.0" y2="39.3" stroke="#5a5f70" stroke-width="2.4" opacity="0.55"/>
<line x1="947.0" y1="1176.7" x2="947.0" y2="1156.7" stroke="#5a5f70" stroke-width="2.4" opacity="0.55"/>
<line x1="947.0" y1="19.2" x2="947.0" y2="39.2" stroke="#5a5f70" stroke-width="2.4" opacity="0.55"/>
<line x1="1012.5" y1="1176.6" x2="1012.5" y2="1156.6" stroke="#5a5f70" stroke-width="2.4" opacity="0.55"/>
<line x1="1012.5" y1="19.1" x2="1012.5" y2="39.1" stroke="#5a5f70" stroke-width="2.4" opacity="0.55"/>
<line x1="1062.0" y1="1176.5" x2="1062.0" y2="1156.5" stroke="#5a5f70" stroke-width="2.4" opacity="0.55"/>
<line x1="1062.0" y1="19.0" x2="1062.0" y2="39.0" stroke="#5a5f70" stroke-width="2.4" opacity="0.55"/>
<line x1="1102.5" y1="1176.4" x2="1102.5" y2="1156.4" stroke="#5a5f70" stroke-width="2.4" opacity="0.55"/>
<line x1="1102.5" y1="18.9" x2="1102.5" y2="38.9" stroke="#5a5f70" stroke-width="2.4" opacity="0.55"/>
<line x1="1140.5" y1="1176.4" x2="1140.5" y2="1156.4" stroke="#5a5f70" stroke-width="2.4" opacity="0.55"/>
<line x1="1140.5" y1="18.9" x2="1140.5" y2="38.9" stroke="#5a5f70" stroke-width="2.4" opacity="0.55"/>
<line x1="1167.0" y1="1176.3" x2="1167.0" y2="1156.3" stroke="#5a5f70" stroke-width="2.4" opacity="0.55"/>
<line x1="1167.0" y1="18.8" x2="1167.0" y2="38.8" stroke="#5a5f70" stroke-width="2.4" opacity="0.55"/>
<line x1="1196.5" y1="1176.3" x2="1196.5" y2="1156.3" stroke="#5a5f70" stroke-width="2.4" opacity="0.55"/>
<line x1="1196.5" y1="18.8" x2="1196.5" y2="38.8" stroke="#5a5f70" stroke-width="2.4" opacity="0.55"/>
<line x1="1310.6" y1="1176.1" x2="1310.6" y2="1162.1" stroke="#5a5f70" stroke-width="2.4" opacity="0.55"/>
<line x1="1310.6" y1="18.6" x2="1310.6" y2="32.6" stroke="#5a5f70" stroke-width="2.4" opacity="0.55"/>
<line x1="1427.3" y1="1175.9" x2="1427.3" y2="1161.9" stroke="#5a5f70" stroke-width="2.4" opacity="0.55"/>
<line x1="1427.3" y1="18.4" x2="1427.3" y2="32.4" stroke="#5a5f70" stroke-width="2.4" opacity="0.55"/>
<line x1="1504.2" y1="1175.7" x2="1504.2" y2="1161.7" stroke="#5a5f70" stroke-width="2.4" opacity="0.55"/>
<line x1="1504.2" y1="18.2" x2="1504.2" y2="32.2" stroke="#5a5f70" stroke-width="2.4" opacity="0.55"/>
<line x1="1561.6" y1="1175.6" x2="1561.6" y2="1161.6" stroke="#5a5f70" stroke-width="2.4" opacity="0.55"/>
<line x1="1561.6" y1="18.1" x2="1561.6" y2="32.1" stroke="#5a5f70" stroke-width="2.4" opacity="0.55"/>
<line x1="1219.5" y1="1176.2" x2="1219.5" y2="1156.2" stroke="#5a5f70" stroke-width="2.4" opacity="0.55"/>
<line x1="1219.5" y1="18.7" x2="1219.5" y2="38.7" stroke="#5a5f70" stroke-width="2.4" opacity="0.55"/>
<line x1="1378.0" y1="1175.9" x2="1378.0" y2="1155.9" stroke="#5a5f70" stroke-width="2.4" opacity="0.55"/>
<line x1="1378.0" y1="18.4" x2="1378.0" y2="38.4" stroke="#5a5f70" stroke-width="2.4" opacity="0.55"/>
<line x1="1471.5" y1="1175.8" x2="1471.5" y2="1155.8" stroke="#5a5f70" stroke-width="2.4" opacity="0.55"/>
<line x1="1471.5" y1="18.3" x2="1471.5" y2="38.3" stroke="#5a5f70" stroke-width="2.4" opacity="0.55"/>
<line x1="1537.5" y1="1175.7" x2="1537.5" y2="1155.7" stroke="#5a5f70" stroke-width="2.4" opacity="0.55"/>
<line x1="1537.5" y1="18.2" x2="1537.5" y2="38.2" stroke="#5a5f70" stroke-width="2.4" opacity="0.55"/>
<line x1="1587.5" y1="1175.6" x2="1587.5" y2="1155.6" stroke="#5a5f70" stroke-width="2.4" opacity="0.55"/>
<line x1="1587.5" y1="18.1" x2="1587.5" y2="38.1" stroke="#5a5f70" stroke-width="2.4" opacity="0.55"/>
<line x1="1626.5" y1="1175.5" x2="1626.5" y2="1155.5" stroke="#5a5f70" stroke-width="2.4" opacity="0.55"/>
<line x1="1626.5" y1="18.0" x2="1626.5" y2="38.0" stroke="#5a5f70" stroke-width="2.4" opacity="0.55"/>
<line x1="1664.0" y1="1175.5" x2="1664.0" y2="1155.5" stroke="#5a5f70" stroke-width="2.4" opacity="0.55"/>
<line x1="1664.0" y1="18.0" x2="1664.0" y2="38.0" stroke="#5a5f70" stroke-width="2.4" opacity="0.55"/>
<line x1="1692.7" y1="1175.4" x2="1692.7" y2="1155.4" stroke="#5a5f70" stroke-width="2.4" opacity="0.55"/>
<line x1="1692.7" y1="17.9" x2="1692.7" y2="37.9" stroke="#5a5f70" stroke-width="2.4" opacity="0.55"/>
<line x1="1721.2" y1="1175.4" x2="1721.2" y2="1155.4" stroke="#5a5f70" stroke-width="2.4" opacity="0.55"/>
<line x1="1721.2" y1="17.9" x2="1721.2" y2="37.9" stroke="#5a5f70" stroke-width="2.4" opacity="0.55"/>
<line x1="1836.6" y1="1175.2" x2="1836.6" y2="1161.2" stroke="#5a5f70" stroke-width="2.4" opacity="0.55"/>
<line x1="1836.6" y1="17.7" x2="1836.6" y2="31.7" stroke="#5a5f70" stroke-width="2.4" opacity="0.55"/>
<line x1="1953.3" y1="1175.0" x2="1953.3" y2="1161.0" stroke="#5a5f70" stroke-width="2.4" opacity="0.55"/>
<line x1="1953.3" y1="17.5" x2="1953.3" y2="31.5" stroke="#5a5f70" stroke-width="2.4" opacity="0.55"/>
<line x1="2030.2" y1="1174.8" x2="2030.2" y2="1160.8" stroke="#5a5f70" stroke-width="2.4" opacity="0.55"/>
<line x1="2030.2" y1="17.3" x2="2030.2" y2="31.3" stroke="#5a5f70" stroke-width="2.4" opacity="0.55"/>
<line x1="2087.6" y1="1174.7" x2="2087.6" y2="1160.7" stroke="#5a5f70" stroke-width="2.4" opacity="0.55"/>
<line x1="2087.6" y1="17.2" x2="2087.6" y2="31.2" stroke="#5a5f70" stroke-width="2.4" opacity="0.55"/>
<line x1="1744.0" y1="1175.3" x2="1744.0" y2="1155.3" stroke="#5a5f70" stroke-width="2.4" opacity="0.55"/>
<line x1="1744.0" y1="17.8" x2="1744.0" y2="37.8" stroke="#5a5f70" stroke-width="2.4" opacity="0.55"/>
<line x1="1902.5" y1="1175.1" x2="1902.5" y2="1155.1" stroke="#5a5f70" stroke-width="2.4" opacity="0.55"/>
<line x1="1902.5" y1="17.6" x2="1902.5" y2="37.6" stroke="#5a5f70" stroke-width="2.4" opacity="0.55"/>
<line x1="1994.5" y1="1174.9" x2="1994.5" y2="1154.9" stroke="#5a5f70" stroke-width="2.4" opacity="0.55"/>
<line x1="1994.5" y1="17.4" x2="1994.5" y2="37.4" stroke="#5a5f70" stroke-width="2.4" opacity="0.55"/>
<line x1="2061.5" y1="1174.8" x2="2061.5" y2="1154.8" stroke="#5a5f70" stroke-width="2.4" opacity="0.55"/>
<line x1="2061.5" y1="17.3" x2="2061.5" y2="37.3" stroke="#5a5f70" stroke-width="2.4" opacity="0.55"/>
<polyline points="174.0,20.50 295.1,20.29 416.2,20.09 537.4,19.88 658.5,19.68 779.6,19.47 900.8,19.26 1021.9,19.06 1143.0,18.85 1264.1,18.64 1385.2,18.44 1506.4,18.23 1627.5,18.02 1748.6,17.82 1869.8,17.61 1990.9,17.41 2112.0,17.20" fill="none" stroke="#8c8f9a" stroke-width="3"/>
<polyline points="174.0,1178.00 295.1,1177.79 416.2,1177.59 537.4,1177.38 658.5,1177.17 779.6,1176.97 900.8,1176.76 1021.9,1176.56 1143.0,1176.35 1264.1,1176.14 1385.2,1175.94 1506.4,1175.73 1627.5,1175.53 1748.6,1175.32 1869.8,1175.11 1990.9,1174.91 2112.0,1174.70" fill="none" stroke="#8c8f9a" stroke-width="3"/>
<line x1="174" y1="20.5" x2="174" y2="1179.5" stroke="#8c8f9a" stroke-width="3"/>
<line x1="2112" y1="15.7" x2="2112" y2="1176.2" stroke="#8c8f9a" stroke-width="3"/>
<rect x="164.5" y="1297.9" width="1959.4" height="1214.1" fill="#f7f9fc"/>
<line x1="216.5" y1="1327.6" x2="216.5" y2="2502.0" stroke="#0cbcf2" stroke-width="3.0" opacity="0.45"/>
<line x1="255.0" y1="1327.3" x2="255.0" y2="2501.9" stroke="#0cbcf2" stroke-width="3.0" opacity="0.95"/>
<line x1="289.0" y1="1327.1" x2="289.0" y2="2501.9" stroke="#0cbcf2" stroke-width="3.0" opacity="0.95"/>
<line x1="318.0" y1="1326.8" x2="318.0" y2="2501.9" stroke="#0cbcf2" stroke-width="3.0" opacity="0.45"/>
<line x1="346.5" y1="1326.7" x2="346.5" y2="2501.8" stroke="#0cbcf2" stroke-width="3.0" opacity="0.95"/>
<line x1="524.6" y1="1325.4" x2="524.6" y2="2501.5" stroke="#0cbcf2" stroke-width="3.0" opacity="0.95"/>
<line x1="627.5" y1="1324.8" x2="627.5" y2="2501.2" stroke="#0cbcf2" stroke-width="3.0" opacity="0.45"/>
<line x1="704.0" y1="1324.3" x2="704.0" y2="2501.0" stroke="#0cbcf2" stroke-width="3.0" opacity="0.45"/>
<line x1="760.5" y1="1323.9" x2="760.5" y2="2500.8" stroke="#0cbcf2" stroke-width="3.0" opacity="0.6"/>
<line x1="804.0" y1="1323.6" x2="804.0" y2="2500.7" stroke="#0cbcf2" stroke-width="3.0" opacity="0.45"/>
<line x1="844.0" y1="1323.4" x2="844.0" y2="2500.5" stroke="#0cbcf2" stroke-width="3.0" opacity="0.45"/>
<line x1="880.0" y1="1323.2" x2="880.0" y2="2500.4" stroke="#0cbcf2" stroke-width="3.0" opacity="0.45"/>
<line x1="910.5" y1="1323.0" x2="910.5" y2="2500.3" stroke="#0cbcf2" stroke-width="3.0" opacity="0.45"/>
<line x1="936.7" y1="1322.8" x2="936.7" y2="2500.2" stroke="#0cbcf2" stroke-width="3.0" opacity="0.45"/>
<line x1="1112.3" y1="1321.8" x2="1112.3" y2="2499.4" stroke="#0cbcf2" stroke-width="3.0" opacity="0.9"/>
<line x1="1216.2" y1="1321.2" x2="1216.2" y2="2498.8" stroke="#0cbcf2" stroke-width="3.0" opacity="0.45"/>
<line x1="1289.6" y1="1320.8" x2="1289.6" y2="2498.4" stroke="#0cbcf2" stroke-width="3.0" opacity="0.45"/>
<line x1="1346.0" y1="1320.5" x2="1346.0" y2="2498.0" stroke="#0cbcf2" stroke-width="3.0" opacity="0.45"/>
<line x1="1393.3" y1="1320.3" x2="1393.3" y2="2497.7" stroke="#0cbcf2" stroke-width="3.0" opacity="0.45"/>
<line x1="1432.0" y1="1320.1" x2="1432.0" y2="2497.5" stroke="#0cbcf2" stroke-width="3.0" opacity="0.45"/>
<line x1="1465.8" y1="1319.9" x2="1465.8" y2="2497.3" stroke="#0cbcf2" stroke-width="3.0" opacity="0.9"/>
<line x1="1497.0" y1="1319.8" x2="1497.0" y2="2497.1" stroke="#0cbcf2" stroke-width="3.0" opacity="0.45"/>
<line x1="1522.5" y1="1319.6" x2="1522.5" y2="2496.9" stroke="#0cbcf2" stroke-width="3.0" opacity="0.7"/>
<line x1="1703.0" y1="1318.8" x2="1703.0" y2="2495.5" stroke="#0cbcf2" stroke-width="3.0" opacity="0.9"/>
<line x1="1807.4" y1="1318.3" x2="1807.4" y2="2494.7" stroke="#0cbcf2" stroke-width="3.0" opacity="0.9"/>
<line x1="1879.0" y1="1318.0" x2="1879.0" y2="2494.1" stroke="#0cbcf2" stroke-width="3.0" opacity="0.45"/>
<line x1="1935.4" y1="1317.7" x2="1935.4" y2="2493.6" stroke="#0cbcf2" stroke-width="3.0" opacity="0.45"/>
<line x1="1984.0" y1="1317.5" x2="1984.0" y2="2493.1" stroke="#0cbcf2" stroke-width="3.0" opacity="0.45"/>
<line x1="2021.9" y1="1317.4" x2="2021.9" y2="2492.8" stroke="#0cbcf2" stroke-width="3.0" opacity="0.45"/>
<line x1="2055.1" y1="1317.2" x2="2055.1" y2="2492.5" stroke="#0cbcf2" stroke-width="3.0" opacity="0.45"/>
<line x1="2084.9" y1="1317.1" x2="2084.9" y2="2492.2" stroke="#0cbcf2" stroke-width="3.0" opacity="0.45"/>
<polyline points="172.5,2406.20 292.5,2406.03 412.4,2405.81 532.4,2405.52 652.4,2405.18 772.3,2404.77 892.3,2404.30 1012.2,2403.77 1132.2,2403.18 1252.2,2402.52 1372.1,2401.81 1492.1,2401.03 1612.1,2400.20 1732.0,2399.30 1852.0,2398.34 1971.9,2397.32 2091.9,2396.24" fill="none" stroke="#0cbcf2" stroke-width="3.0" opacity="0.6"/>
<polyline points="172.5,2307.10 292.5,2306.87 412.4,2306.59 532.4,2306.25 652.4,2305.87 772.3,2305.43 892.3,2304.93 1012.2,2304.38 1132.2,2303.78 1252.2,2303.13 1372.1,2302.42 1492.1,2301.66 1612.1,2300.85 1732.0,2299.98 1852.0,2299.06 1971.9,2298.09 2091.9,2297.06" fill="none" stroke="#0cbcf2" stroke-width="3.0" opacity="0.6"/>
<polyline points="172.5,2209.60 292.5,2209.31 412.4,2208.97 532.4,2208.59 652.4,2208.16 772.3,2207.69 892.3,2207.17 1012.2,2206.61 1132.2,2206.00 1252.2,2205.34 1372.1,2204.64 1492.1,2203.90 1612.1,2203.10 1732.0,2202.27 1852.0,2201.38 1971.9,2200.46 2091.9,2199.48" fill="none" stroke="#0cbcf2" stroke-width="3.0" opacity="0.5"/>
<polyline points="172.5,2111.49 292.5,2111.14 412.4,2110.75 532.4,2110.32 652.4,2109.85 772.3,2109.35 892.3,2108.81 1012.2,2108.23 1132.2,2107.61 1252.2,2106.95 1372.1,2106.26 1492.1,2105.53 1612.1,2104.76 1732.0,2103.95 1852.0,2103.11 1971.9,2102.22 2091.9,2101.30" fill="none" stroke="#0cbcf2" stroke-width="3.0" opacity="0.55"/>
<polyline points="172.5,2015.99 292.5,2015.58 412.4,2015.13 532.4,2014.66 652.4,2014.15 772.3,2013.62 892.3,2013.05 1012.2,2012.46 1132.2,2011.83 1252.2,2011.17 1372.1,2010.48 1492.1,2009.77 1612.1,2009.02 1732.0,2008.24 1852.0,2007.43 1971.9,2006.60 2091.9,2005.73" fill="none" stroke="#0cbcf2" stroke-width="3.0" opacity="0.55"/>
<polyline points="172.5,1917.99 292.5,1917.51 412.4,1917.01 532.4,1916.49 652.4,1915.95 772.3,1915.38 892.3,1914.79 1012.2,1914.18 1132.2,1913.54 1252.2,1912.88 1372.1,1912.20 1492.1,1911.50 1612.1,1910.77 1732.0,1910.03 1852.0,1909.26 1971.9,1908.46 2091.9,1907.65" fill="none" stroke="#0cbcf2" stroke-width="3.0" opacity="0.5"/>
<polyline points="172.5,1820.09 292.5,1819.55 412.4,1819.00 532.4,1818.43 652.4,1817.84 772.3,1817.24 892.3,1816.63 1012.2,1816.00 1132.2,1815.35 1252.2,1814.69 1372.1,1814.02 1492.1,1813.33 1612.1,1812.63 1732.0,1811.91 1852.0,1811.18 1971.9,1810.43 2091.9,1809.67" fill="none" stroke="#0cbcf2" stroke-width="3.0" opacity="0.5"/>
<polyline points="172.5,1722.59 292.5,1721.99 412.4,1721.38 532.4,1720.76 652.4,1720.13 772.3,1719.50 892.3,1718.86 1012.2,1718.22 1132.2,1717.57 1252.2,1716.91 1372.1,1716.24 1492.1,1715.57 1612.1,1714.89 1732.0,1714.20 1852.0,1713.50 1971.9,1712.80 2091.9,1712.09" fill="none" stroke="#0cbcf2" stroke-width="3.0" opacity="0.55"/>
<polyline points="172.5,1623.49 292.5,1622.82 412.4,1622.16 532.4,1621.49 652.4,1620.83 772.3,1620.16 892.3,1619.50 1012.2,1618.84 1132.2,1618.18 1252.2,1617.51 1372.1,1616.85 1492.1,1616.20 1612.1,1615.54 1732.0,1614.88 1852.0,1614.22 1971.9,1613.57 2091.9,1612.91" fill="none" stroke="#0cbcf2" stroke-width="3.0" opacity="0.5"/>
<polyline points="172.5,1525.99 292.5,1525.26 412.4,1524.54 532.4,1523.82 652.4,1523.12 772.3,1522.42 892.3,1521.74 1012.2,1521.06 1132.2,1520.39 1252.2,1519.73 1372.1,1519.07 1492.1,1518.43 1612.1,1517.79 1732.0,1517.17 1852.0,1516.55 1971.9,1515.94 2091.9,1515.33" fill="none" stroke="#0cbcf2" stroke-width="3.0" opacity="0.55"/>
<polyline points="172.5,1426.89 292.5,1426.09 412.4,1425.32 532.4,1424.56 652.4,1423.81 772.3,1423.08 892.3,1422.37 1012.2,1421.68 1132.2,1421.00 1252.2,1420.34 1372.1,1419.69 1492.1,1419.06 1612.1,1418.45 1732.0,1417.85 1852.0,1417.27 1971.9,1416.70 2091.9,1416.16" fill="none" stroke="#0cbcf2" stroke-width="3.0" opacity="0.85"/>
<line x1="170.5" y1="2478.1" x2="182.5" y2="2478.1" stroke="#2b4a7a" stroke-width="2.6" opacity="0.45"/>
<line x1="2103.9" y1="2467.9" x2="2115.9" y2="2467.9" stroke="#2b4a7a" stroke-width="2.6" opacity="0.45"/>
<line x1="170.5" y1="2454.1" x2="188.5" y2="2454.1" stroke="#2b4a7a" stroke-width="2.6" opacity="0.45"/>
<line x1="2097.9" y1="2443.9" x2="2115.9" y2="2443.9" stroke="#2b4a7a" stroke-width="2.6" opacity="0.45"/>
<line x1="170.5" y1="2430.1" x2="182.5" y2="2430.1" stroke="#2b4a7a" stroke-width="2.6" opacity="0.45"/>
<line x1="2103.9" y1="2420.0" x2="2115.9" y2="2420.0" stroke="#2b4a7a" stroke-width="2.6" opacity="0.45"/>
<line x1="170.5" y1="2406.2" x2="194.5" y2="2406.2" stroke="#2b4a7a" stroke-width="2.6" opacity="0.45"/>
<line x1="2091.9" y1="2396.0" x2="2115.9" y2="2396.0" stroke="#2b4a7a" stroke-width="2.6" opacity="0.45"/>
<line x1="170.5" y1="2381.4" x2="182.5" y2="2381.4" stroke="#2b4a7a" stroke-width="2.6" opacity="0.45"/>
<line x1="2103.9" y1="2371.2" x2="2115.9" y2="2371.2" stroke="#2b4a7a" stroke-width="2.6" opacity="0.45"/>
<line x1="170.5" y1="2356.7" x2="188.5" y2="2356.7" stroke="#2b4a7a" stroke-width="2.6" opacity="0.45"/>
<line x1="2097.9" y1="2346.4" x2="2115.9" y2="2346.4" stroke="#2b4a7a" stroke-width="2.6" opacity="0.45"/>
<line x1="170.5" y1="2331.9" x2="182.5" y2="2331.9" stroke="#2b4a7a" stroke-width="2.6" opacity="0.45"/>
<line x1="2103.9" y1="2321.6" x2="2115.9" y2="2321.6" stroke="#2b4a7a" stroke-width="2.6" opacity="0.45"/>
<line x1="170.5" y1="2307.1" x2="194.5" y2="2307.1" stroke="#2b4a7a" stroke-width="2.6" opacity="0.45"/>
<line x1="2091.9" y1="2296.8" x2="2115.9" y2="2296.8" stroke="#2b4a7a" stroke-width="2.6" opacity="0.45"/>
<line x1="170.5" y1="2282.7" x2="182.5" y2="2282.7" stroke="#2b4a7a" stroke-width="2.6" opacity="0.45"/>
<line x1="2103.9" y1="2272.5" x2="2115.9" y2="2272.5" stroke="#2b4a7a" stroke-width="2.6" opacity="0.45"/>
<line x1="170.5" y1="2258.3" x2="188.5" y2="2258.3" stroke="#2b4a7a" stroke-width="2.6" opacity="0.45"/>
<line x1="2097.9" y1="2248.1" x2="2115.9" y2="2248.1" stroke="#2b4a7a" stroke-width="2.6" opacity="0.45"/>
<line x1="170.5" y1="2234.0" x2="182.5" y2="2234.0" stroke="#2b4a7a" stroke-width="2.6" opacity="0.45"/>
<line x1="2103.9" y1="2223.7" x2="2115.9" y2="2223.7" stroke="#2b4a7a" stroke-width="2.6" opacity="0.45"/>
<line x1="170.5" y1="2209.6" x2="194.5" y2="2209.6" stroke="#2b4a7a" stroke-width="2.6" opacity="0.45"/>
<line x1="2091.9" y1="2199.3" x2="2115.9" y2="2199.3" stroke="#2b4a7a" stroke-width="2.6" opacity="0.45"/>
<line x1="170.5" y1="2185.1" x2="182.5" y2="2185.1" stroke="#2b4a7a" stroke-width="2.6" opacity="0.45"/>
<line x1="2103.9" y1="2174.7" x2="2115.9" y2="2174.7" stroke="#2b4a7a" stroke-width="2.6" opacity="0.45"/>
<line x1="170.5" y1="2160.5" x2="188.5" y2="2160.5" stroke="#2b4a7a" stroke-width="2.6" opacity="0.45"/>
<line x1="2097.9" y1="2150.2" x2="2115.9" y2="2150.2" stroke="#2b4a7a" stroke-width="2.6" opacity="0.45"/>
<line x1="170.5" y1="2136.0" x2="182.5" y2="2136.0" stroke="#2b4a7a" stroke-width="2.6" opacity="0.45"/>
<line x1="2103.9" y1="2125.7" x2="2115.9" y2="2125.7" stroke="#2b4a7a" stroke-width="2.6" opacity="0.45"/>
<line x1="170.5" y1="2111.5" x2="194.5" y2="2111.5" stroke="#2b4a7a" stroke-width="2.6" opacity="0.45"/>
<line x1="2091.9" y1="2101.1" x2="2115.9" y2="2101.1" stroke="#2b4a7a" stroke-width="2.6" opacity="0.45"/>
<line x1="170.5" y1="2087.6" x2="182.5" y2="2087.6" stroke="#2b4a7a" stroke-width="2.6" opacity="0.45"/>
<line x1="2103.9" y1="2077.2" x2="2115.9" y2="2077.2" stroke="#2b4a7a" stroke-width="2.6" opacity="0.45"/>
<line x1="170.5" y1="2063.8" x2="188.5" y2="2063.8" stroke="#2b4a7a" stroke-width="2.6" opacity="0.45"/>
<line x1="2097.9" y1="2053.3" x2="2115.9" y2="2053.3" stroke="#2b4a7a" stroke-width="2.6" opacity="0.45"/>
<line x1="170.5" y1="2039.9" x2="182.5" y2="2039.9" stroke="#2b4a7a" stroke-width="2.6" opacity="0.45"/>
<line x1="2103.9" y1="2029.4" x2="2115.9" y2="2029.4" stroke="#2b4a7a" stroke-width="2.6" opacity="0.45"/>
<line x1="170.5" y1="2016.0" x2="194.5" y2="2016.0" stroke="#2b4a7a" stroke-width="2.6" opacity="0.45"/>
<line x1="2091.9" y1="2005.5" x2="2115.9" y2="2005.5" stroke="#2b4a7a" stroke-width="2.6" opacity="0.45"/>
<line x1="170.5" y1="1991.5" x2="182.5" y2="1991.5" stroke="#2b4a7a" stroke-width="2.6" opacity="0.45"/>
<line x1="2103.9" y1="1981.0" x2="2115.9" y2="1981.0" stroke="#2b4a7a" stroke-width="2.6" opacity="0.45"/>
<line x1="170.5" y1="1967.0" x2="188.5" y2="1967.0" stroke="#2b4a7a" stroke-width="2.6" opacity="0.45"/>
<line x1="2097.9" y1="1956.5" x2="2115.9" y2="1956.5" stroke="#2b4a7a" stroke-width="2.6" opacity="0.45"/>
<line x1="170.5" y1="1942.5" x2="182.5" y2="1942.5" stroke="#2b4a7a" stroke-width="2.6" opacity="0.45"/>
<line x1="2103.9" y1="1932.0" x2="2115.9" y2="1932.0" stroke="#2b4a7a" stroke-width="2.6" opacity="0.45"/>
<line x1="170.5" y1="1918.0" x2="194.5" y2="1918.0" stroke="#2b4a7a" stroke-width="2.6" opacity="0.45"/>
<line x1="2091.9" y1="1907.5" x2="2115.9" y2="1907.5" stroke="#2b4a7a" stroke-width="2.6" opacity="0.45"/>
<line x1="170.5" y1="1893.5" x2="182.5" y2="1893.5" stroke="#2b4a7a" stroke-width="2.6" opacity="0.45"/>
<line x1="2103.9" y1="1883.0" x2="2115.9" y2="1883.0" stroke="#2b4a7a" stroke-width="2.6" opacity="0.45"/>
<line x1="170.5" y1="1869.0" x2="188.5" y2="1869.0" stroke="#2b4a7a" stroke-width="2.6" opacity="0.45"/>
<line x1="2097.9" y1="1858.5" x2="2115.9" y2="1858.5" stroke="#2b4a7a" stroke-width="2.6" opacity="0.45"/>
<line x1="170.5" y1="1844.6" x2="182.5" y2="1844.6" stroke="#2b4a7a" stroke-width="2.6" opacity="0.45"/>
<line x1="2103.9" y1="1834.0" x2="2115.9" y2="1834.0" stroke="#2b4a7a" stroke-width="2.6" opacity="0.45"/>
<line x1="170.5" y1="1820.1" x2="194.5" y2="1820.1" stroke="#2b4a7a" stroke-width="2.6" opacity="0.45"/>
<line x1="2091.9" y1="1809.5" x2="2115.9" y2="1809.5" stroke="#2b4a7a" stroke-width="2.6" opacity="0.45"/>
<line x1="170.5" y1="1795.7" x2="182.5" y2="1795.7" stroke="#2b4a7a" stroke-width="2.6" opacity="0.45"/>
<line x1="2103.9" y1="1785.1" x2="2115.9" y2="1785.1" stroke="#2b4a7a" stroke-width="2.6" opacity="0.45"/>
<line x1="170.5" y1="1771.3" x2="188.5" y2="1771.3" stroke="#2b4a7a" stroke-width="2.6" opacity="0.45"/>
<line x1="2097.9" y1="1760.7" x2="2115.9" y2="1760.7" stroke="#2b4a7a" stroke-width="2.6" opacity="0.45"/>
<line x1="170.5" y1="1747.0" x2="182.5" y2="1747.0" stroke="#2b4a7a" stroke-width="2.6" opacity="0.45"/>
<line x1="2103.9" y1="1736.3" x2="2115.9" y2="1736.3" stroke="#2b4a7a" stroke-width="2.6" opacity="0.45"/>
<line x1="170.5" y1="1722.6" x2="194.5" y2="1722.6" stroke="#2b4a7a" stroke-width="2.6" opacity="0.45"/>
<line x1="2091.9" y1="1711.9" x2="2115.9" y2="1711.9" stroke="#2b4a7a" stroke-width="2.6" opacity="0.45"/>
<line x1="170.5" y1="1697.8" x2="182.5" y2="1697.8" stroke="#2b4a7a" stroke-width="2.6" opacity="0.45"/>
<line x1="2103.9" y1="1687.2" x2="2115.9" y2="1687.2" stroke="#2b4a7a" stroke-width="2.6" opacity="0.45"/>
<line x1="170.5" y1="1673.0" x2="188.5" y2="1673.0" stroke="#2b4a7a" stroke-width="2.6" opacity="0.45"/>
<line x1="2097.9" y1="1662.4" x2="2115.9" y2="1662.4" stroke="#2b4a7a" stroke-width="2.6" opacity="0.45"/>
<line x1="170.5" y1="1648.3" x2="182.5" y2="1648.3" stroke="#2b4a7a" stroke-width="2.6" opacity="0.45"/>
<line x1="2103.9" y1="1637.6" x2="2115.9" y2="1637.6" stroke="#2b4a7a" stroke-width="2.6" opacity="0.45"/>
<line x1="170.5" y1="1623.5" x2="194.5" y2="1623.5" stroke="#2b4a7a" stroke-width="2.6" opacity="0.45"/>
<line x1="2091.9" y1="1612.8" x2="2115.9" y2="1612.8" stroke="#2b4a7a" stroke-width="2.6" opacity="0.45"/>
<line x1="170.5" y1="1599.1" x2="182.5" y2="1599.1" stroke="#2b4a7a" stroke-width="2.6" opacity="0.45"/>
<line x1="2103.9" y1="1588.4" x2="2115.9" y2="1588.4" stroke="#2b4a7a" stroke-width="2.6" opacity="0.45"/>
<line x1="170.5" y1="1574.7" x2="188.5" y2="1574.7" stroke="#2b4a7a" stroke-width="2.6" opacity="0.45"/>
<line x1="2097.9" y1="1564.0" x2="2115.9" y2="1564.0" stroke="#2b4a7a" stroke-width="2.6" opacity="0.45"/>
<line x1="170.5" y1="1550.4" x2="182.5" y2="1550.4" stroke="#2b4a7a" stroke-width="2.6" opacity="0.45"/>
<line x1="2103.9" y1="1539.6" x2="2115.9" y2="1539.6" stroke="#2b4a7a" stroke-width="2.6" opacity="0.45"/>
<line x1="170.5" y1="1526.0" x2="194.5" y2="1526.0" stroke="#2b4a7a" stroke-width="2.6" opacity="0.45"/>
<line x1="2091.9" y1="1515.2" x2="2115.9" y2="1515.2" stroke="#2b4a7a" stroke-width="2.6" opacity="0.45"/>
<line x1="170.5" y1="1501.2" x2="182.5" y2="1501.2" stroke="#2b4a7a" stroke-width="2.6" opacity="0.45"/>
<line x1="2103.9" y1="1490.4" x2="2115.9" y2="1490.4" stroke="#2b4a7a" stroke-width="2.6" opacity="0.45"/>
<line x1="170.5" y1="1476.4" x2="188.5" y2="1476.4" stroke="#2b4a7a" stroke-width="2.6" opacity="0.45"/>
<line x1="2097.9" y1="1465.6" x2="2115.9" y2="1465.6" stroke="#2b4a7a" stroke-width="2.6" opacity="0.45"/>
<line x1="170.5" y1="1451.7" x2="182.5" y2="1451.7" stroke="#2b4a7a" stroke-width="2.6" opacity="0.45"/>
<line x1="2103.9" y1="1440.8" x2="2115.9" y2="1440.8" stroke="#2b4a7a" stroke-width="2.6" opacity="0.45"/>
<line x1="170.5" y1="1426.9" x2="194.5" y2="1426.9" stroke="#2b4a7a" stroke-width="2.6" opacity="0.45"/>
<line x1="2091.9" y1="1416.0" x2="2115.9" y2="1416.0" stroke="#2b4a7a" stroke-width="2.6" opacity="0.45"/>
<line x1="170.5" y1="1402.2" x2="182.5" y2="1402.2" stroke="#2b4a7a" stroke-width="2.6" opacity="0.45"/>
<line x1="2103.9" y1="1391.3" x2="2115.9" y2="1391.3" stroke="#2b4a7a" stroke-width="2.6" opacity="0.45"/>
<line x1="170.5" y1="1377.4" x2="188.5" y2="1377.4" stroke="#2b4a7a" stroke-width="2.6" opacity="0.45"/>
<line x1="2097.9" y1="1366.5" x2="2115.9" y2="1366.5" stroke="#2b4a7a" stroke-width="2.6" opacity="0.45"/>
<line x1="170.5" y1="1352.7" x2="182.5" y2="1352.7" stroke="#2b4a7a" stroke-width="2.6" opacity="0.45"/>
<line x1="2103.9" y1="1341.7" x2="2115.9" y2="1341.7" stroke="#2b4a7a" stroke-width="2.6" opacity="0.45"/>
<line x1="216.5" y1="2502.0" x2="216.5" y2="2482.0" stroke="#2b4a7a" stroke-width="2.4" opacity="0.55"/>
<line x1="216.5" y1="1327.6" x2="216.5" y2="1347.6" stroke="#2b4a7a" stroke-width="2.4" opacity="0.55"/>
<line x1="255.0" y1="2501.9" x2="255.0" y2="2481.9" stroke="#2b4a7a" stroke-width="2.4" opacity="0.55"/>
<line x1="255.0" y1="1327.3" x2="255.0" y2="1347.3" stroke="#2b4a7a" stroke-width="2.4" opacity="0.55"/>
<line x1="289.0" y1="2501.9" x2="289.0" y2="2481.9" stroke="#2b4a7a" stroke-width="2.4" opacity="0.55"/>
<line x1="289.0" y1="1327.1" x2="289.0" y2="1347.1" stroke="#2b4a7a" stroke-width="2.4" opacity="0.55"/>
<line x1="318.0" y1="2501.9" x2="318.0" y2="2481.9" stroke="#2b4a7a" stroke-width="2.4" opacity="0.55"/>
<line x1="318.0" y1="1326.8" x2="318.0" y2="1346.8" stroke="#2b4a7a" stroke-width="2.4" opacity="0.55"/>
<line x1="450.4" y1="2501.7" x2="450.4" y2="2487.7" stroke="#2b4a7a" stroke-width="2.4" opacity="0.55"/>
<line x1="450.4" y1="1325.9" x2="450.4" y2="1339.9" stroke="#2b4a7a" stroke-width="2.4" opacity="0.55"/>
<line x1="581.4" y1="2501.4" x2="581.4" y2="2487.4" stroke="#2b4a7a" stroke-width="2.4" opacity="0.55"/>
<line x1="581.4" y1="1325.1" x2="581.4" y2="1339.1" stroke="#2b4a7a" stroke-width="2.4" opacity="0.55"/>
<line x1="667.6" y1="2501.1" x2="667.6" y2="2487.1" stroke="#2b4a7a" stroke-width="2.4" opacity="0.55"/>
<line x1="667.6" y1="1324.5" x2="667.6" y2="1338.5" stroke="#2b4a7a" stroke-width="2.4" opacity="0.55"/>
<line x1="732.0" y1="2500.9" x2="732.0" y2="2486.9" stroke="#2b4a7a" stroke-width="2.4" opacity="0.55"/>
<line x1="732.0" y1="1324.1" x2="732.0" y2="1338.1" stroke="#2b4a7a" stroke-width="2.4" opacity="0.55"/>
<line x1="346.5" y1="2501.8" x2="346.5" y2="2481.8" stroke="#2b4a7a" stroke-width="2.4" opacity="0.55"/>
<line x1="346.5" y1="1326.7" x2="346.5" y2="1346.7" stroke="#2b4a7a" stroke-width="2.4" opacity="0.55"/>
<line x1="524.6" y1="2501.5" x2="524.6" y2="2481.5" stroke="#2b4a7a" stroke-width="2.4" opacity="0.55"/>
<line x1="524.6" y1="1325.4" x2="524.6" y2="1345.4" stroke="#2b4a7a" stroke-width="2.4" opacity="0.55"/>
<line x1="627.5" y1="2501.2" x2="627.5" y2="2481.2" stroke="#2b4a7a" stroke-width="2.4" opacity="0.55"/>
<line x1="627.5" y1="1324.8" x2="627.5" y2="1344.8" stroke="#2b4a7a" stroke-width="2.4" opacity="0.55"/>
<line x1="704.0" y1="2501.0" x2="704.0" y2="2481.0" stroke="#2b4a7a" stroke-width="2.4" opacity="0.55"/>
<line x1="704.0" y1="1324.3" x2="704.0" y2="1344.3" stroke="#2b4a7a" stroke-width="2.4" opacity="0.55"/>
<line x1="760.5" y1="2500.8" x2="760.5" y2="2480.8" stroke="#2b4a7a" stroke-width="2.4" opacity="0.55"/>
<line x1="760.5" y1="1323.9" x2="760.5" y2="1343.9" stroke="#2b4a7a" stroke-width="2.4" opacity="0.55"/>
<line x1="804.0" y1="2500.7" x2="804.0" y2="2480.7" stroke="#2b4a7a" stroke-width="2.4" opacity="0.55"/>
<line x1="804.0" y1="1323.6" x2="804.0" y2="1343.6" stroke="#2b4a7a" stroke-width="2.4" opacity="0.55"/>
<line x1="844.0" y1="2500.5" x2="844.0" y2="2480.5" stroke="#2b4a7a" stroke-width="2.4" opacity="0.55"/>
<line x1="844.0" y1="1323.4" x2="844.0" y2="1343.4" stroke="#2b4a7a" stroke-width="2.4" opacity="0.55"/>
<line x1="880.0" y1="2500.4" x2="880.0" y2="2480.4" stroke="#2b4a7a" stroke-width="2.4" opacity="0.55"/>
<line x1="880.0" y1="1323.2" x2="880.0" y2="1343.2" stroke="#2b4a7a" stroke-width="2.4" opacity="0.55"/>
<line x1="910.5" y1="2500.3" x2="910.5" y2="2480.3" stroke="#2b4a7a" stroke-width="2.4" opacity="0.55"/>
<line x1="910.5" y1="1323.0" x2="910.5" y2="1343.0" stroke="#2b4a7a" stroke-width="2.4" opacity="0.55"/>
<line x1="1039.9" y1="2499.7" x2="1039.9" y2="2485.7" stroke="#2b4a7a" stroke-width="2.4" opacity="0.55"/>
<line x1="1039.9" y1="1322.2" x2="1039.9" y2="1336.2" stroke="#2b4a7a" stroke-width="2.4" opacity="0.55"/>
<line x1="1169.8" y1="2499.1" x2="1169.8" y2="2485.1" stroke="#2b4a7a" stroke-width="2.4" opacity="0.55"/>
<line x1="1169.8" y1="1321.5" x2="1169.8" y2="1335.5" stroke="#2b4a7a" stroke-width="2.4" opacity="0.55"/>
<line x1="1255.4" y1="2498.6" x2="1255.4" y2="2484.6" stroke="#2b4a7a" stroke-width="2.4" opacity="0.55"/>
<line x1="1255.4" y1="1321.0" x2="1255.4" y2="1335.0" stroke="#2b4a7a" stroke-width="2.4" opacity="0.55"/>
<line x1="1319.4" y1="2498.2" x2="1319.4" y2="2484.2" stroke="#2b4a7a" stroke-width="2.4" opacity="0.55"/>
<line x1="1319.4" y1="1320.7" x2="1319.4" y2="1334.7" stroke="#2b4a7a" stroke-width="2.4" opacity="0.55"/>
<line x1="936.7" y1="2500.2" x2="936.7" y2="2480.2" stroke="#2b4a7a" stroke-width="2.4" opacity="0.55"/>
<line x1="936.7" y1="1322.8" x2="936.7" y2="1342.8" stroke="#2b4a7a" stroke-width="2.4" opacity="0.55"/>
<line x1="1112.3" y1="2499.4" x2="1112.3" y2="2479.4" stroke="#2b4a7a" stroke-width="2.4" opacity="0.55"/>
<line x1="1112.3" y1="1321.8" x2="1112.3" y2="1341.8" stroke="#2b4a7a" stroke-width="2.4" opacity="0.55"/>
<line x1="1216.2" y1="2498.8" x2="1216.2" y2="2478.8" stroke="#2b4a7a" stroke-width="2.4" opacity="0.55"/>
<line x1="1216.2" y1="1321.2" x2="1216.2" y2="1341.2" stroke="#2b4a7a" stroke-width="2.4" opacity="0.55"/>
<line x1="1289.6" y1="2498.4" x2="1289.6" y2="2478.4" stroke="#2b4a7a" stroke-width="2.4" opacity="0.55"/>
<line x1="1289.6" y1="1320.8" x2="1289.6" y2="1340.8" stroke="#2b4a7a" stroke-width="2.4" opacity="0.55"/>
<line x1="1346.0" y1="2498.0" x2="1346.0" y2="2478.0" stroke="#2b4a7a" stroke-width="2.4" opacity="0.55"/>
<line x1="1346.0" y1="1320.5" x2="1346.0" y2="1340.5" stroke="#2b4a7a" stroke-width="2.4" opacity="0.55"/>
<line x1="1393.3" y1="2497.7" x2="1393.3" y2="2477.7" stroke="#2b4a7a" stroke-width="2.4" opacity="0.55"/>
<line x1="1393.3" y1="1320.3" x2="1393.3" y2="1340.3" stroke="#2b4a7a" stroke-width="2.4" opacity="0.55"/>
<line x1="1432.0" y1="2497.5" x2="1432.0" y2="2477.5" stroke="#2b4a7a" stroke-width="2.4" opacity="0.55"/>
<line x1="1432.0" y1="1320.1" x2="1432.0" y2="1340.1" stroke="#2b4a7a" stroke-width="2.4" opacity="0.55"/>
<line x1="1465.8" y1="2497.3" x2="1465.8" y2="2477.3" stroke="#2b4a7a" stroke-width="2.4" opacity="0.55"/>
<line x1="1465.8" y1="1319.9" x2="1465.8" y2="1339.9" stroke="#2b4a7a" stroke-width="2.4" opacity="0.55"/>
<line x1="1497.0" y1="2497.1" x2="1497.0" y2="2477.1" stroke="#2b4a7a" stroke-width="2.4" opacity="0.55"/>
<line x1="1497.0" y1="1319.8" x2="1497.0" y2="1339.8" stroke="#2b4a7a" stroke-width="2.4" opacity="0.55"/>
<line x1="1627.0" y1="2496.1" x2="1627.0" y2="2482.1" stroke="#2b4a7a" stroke-width="2.4" opacity="0.55"/>
<line x1="1627.0" y1="1319.1" x2="1627.0" y2="1333.1" stroke="#2b4a7a" stroke-width="2.4" opacity="0.55"/>
<line x1="1758.6" y1="2495.1" x2="1758.6" y2="2481.1" stroke="#2b4a7a" stroke-width="2.4" opacity="0.55"/>
<line x1="1758.6" y1="1318.5" x2="1758.6" y2="1332.5" stroke="#2b4a7a" stroke-width="2.4" opacity="0.55"/>
<line x1="1845.3" y1="2494.4" x2="1845.3" y2="2480.4" stroke="#2b4a7a" stroke-width="2.4" opacity="0.55"/>
<line x1="1845.3" y1="1318.1" x2="1845.3" y2="1332.1" stroke="#2b4a7a" stroke-width="2.4" opacity="0.55"/>
<line x1="1910.1" y1="2493.8" x2="1910.1" y2="2479.8" stroke="#2b4a7a" stroke-width="2.4" opacity="0.55"/>
<line x1="1910.1" y1="1317.8" x2="1910.1" y2="1331.8" stroke="#2b4a7a" stroke-width="2.4" opacity="0.55"/>
<line x1="1522.5" y1="2496.9" x2="1522.5" y2="2476.9" stroke="#2b4a7a" stroke-width="2.4" opacity="0.55"/>
<line x1="1522.5" y1="1319.6" x2="1522.5" y2="1339.6" stroke="#2b4a7a" stroke-width="2.4" opacity="0.55"/>
<line x1="1703.0" y1="2495.5" x2="1703.0" y2="2475.5" stroke="#2b4a7a" stroke-width="2.4" opacity="0.55"/>
<line x1="1703.0" y1="1318.8" x2="1703.0" y2="1338.8" stroke="#2b4a7a" stroke-width="2.4" opacity="0.55"/>
<line x1="1807.4" y1="2494.7" x2="1807.4" y2="2474.7" stroke="#2b4a7a" stroke-width="2.4" opacity="0.55"/>
<line x1="1807.4" y1="1318.3" x2="1807.4" y2="1338.3" stroke="#2b4a7a" stroke-width="2.4" opacity="0.55"/>
<line x1="1879.0" y1="2494.1" x2="1879.0" y2="2474.1" stroke="#2b4a7a" stroke-width="2.4" opacity="0.55"/>
<line x1="1879.0" y1="1318.0" x2="1879.0" y2="1338.0" stroke="#2b4a7a" stroke-width="2.4" opacity="0.55"/>
<line x1="1935.4" y1="2493.6" x2="1935.4" y2="2473.6" stroke="#2b4a7a" stroke-width="2.4" opacity="0.55"/>
<line x1="1935.4" y1="1317.7" x2="1935.4" y2="1337.7" stroke="#2b4a7a" stroke-width="2.4" opacity="0.55"/>
<line x1="1984.0" y1="2493.1" x2="1984.0" y2="2473.1" stroke="#2b4a7a" stroke-width="2.4" opacity="0.55"/>
<line x1="1984.0" y1="1317.5" x2="1984.0" y2="1337.5" stroke="#2b4a7a" stroke-width="2.4" opacity="0.55"/>
<line x1="2021.9" y1="2492.8" x2="2021.9" y2="2472.8" stroke="#2b4a7a" stroke-width="2.4" opacity="0.55"/>
<line x1="2021.9" y1="1317.4" x2="2021.9" y2="1337.4" stroke="#2b4a7a" stroke-width="2.4" opacity="0.55"/>
<line x1="2055.1" y1="2492.5" x2="2055.1" y2="2472.5" stroke="#2b4a7a" stroke-width="2.4" opacity="0.55"/>
<line x1="2055.1" y1="1317.2" x2="2055.1" y2="1337.2" stroke="#2b4a7a" stroke-width="2.4" opacity="0.55"/>
<line x1="2084.9" y1="2492.2" x2="2084.9" y2="2472.2" stroke="#2b4a7a" stroke-width="2.4" opacity="0.55"/>
<line x1="2084.9" y1="1317.1" x2="2084.9" y2="1337.1" stroke="#2b4a7a" stroke-width="2.4" opacity="0.55"/>
<polyline points="170.5,2502.00 292.1,2501.90 413.7,2501.72 535.3,2501.48 656.9,2501.16 778.4,2500.78 900.0,2500.32 1021.6,2499.80 1143.2,2499.20 1264.8,2498.53 1386.4,2497.79 1508.0,2496.98 1629.6,2496.11 1751.1,2495.15 1872.7,2494.13 1994.3,2493.04 2115.9,2491.88" fill="none" stroke="#8a98b8" stroke-width="3"/>
<polyline points="170.5,1327.90 292.1,1327.03 413.7,1326.19 535.3,1325.37 656.9,1324.57 778.4,1323.80 900.0,1323.06 1021.6,1322.34 1143.2,1321.64 1264.8,1320.97 1386.4,1320.33 1508.0,1319.71 1629.6,1319.11 1751.1,1318.54 1872.7,1318.00 1994.3,1317.48 2115.9,1316.98" fill="none" stroke="#8d93a0" stroke-width="3.2"/>
<line x1="170.5" y1="1327.9" x2="170.5" y2="2503" stroke="#40608f" stroke-width="3"/>
<line x1="2115.9" y1="1315.5" x2="2115.9" y2="2493.4" stroke="#3c5584" stroke-width="3"/>
<rect x="271.8" y="164.4" width="950.0" height="14" fill="#2b3276"/>
<rect x="1213.8" y="103.2" width="8" height="75.2" fill="#2b3276"/>
<rect x="255.8" y="97.2" width="959.0" height="68.2" fill="#ffffff" stroke="#6f6f78" stroke-width="2.5"/>
<rect x="257.8" y="99.2" width="84.0" height="64.2" fill="#f4f4f6"/>
<text x="264.5" y="148.8" font-size="42" font-weight="bold" fill="#1a1a1a" text-anchor="start" textLength="73" lengthAdjust="spacingAndGlyphs" >LPS</text>
<text x="338.5" y="148.8" font-size="30" font-weight="bold" fill="#6a7080" text-anchor="start" >:</text>
<text x="374.7" y="143.6" font-size="44" font-weight="bold" fill="#000" text-anchor="start" textLength="808.5" lengthAdjust="spacingAndGlyphs" >comparison granulometric distribution</text>
<rect x="463.2" y="397.7" width="591.3" height="13.5" fill="#2b3276"/>
<rect x="1047.5" y="209.5" width="7" height="200.7" fill="#2b3276"/>
<rect x="439.2" y="201.5" width="609.3" height="197.2" fill="#ffffff" stroke="#8a8a92" stroke-width="2.5"/>
<line x1="455" y1="240.5" x2="504" y2="240.5" stroke="#ff0000" stroke-width="5"/>
<rect x="472.5" y="233.5" width="14.0" height="14.0" fill="#ff0000" stroke="#120000" stroke-width="5"/>
<text x="513.7" y="247.3" font-size="43" font-weight="bold" fill="#000" text-anchor="start" textLength="251" lengthAdjust="spacingAndGlyphs" >Aeroperl300</text>
<line x1="454" y1="307.5" x2="503" y2="307.5" stroke="#0050e0" stroke-width="6"/>
<circle cx="478.5" cy="307.5" r="7.2" fill="#0a34a0" stroke="#04071a" stroke-width="4.5"/>
<text x="511.4" y="319.6" font-size="43" font-weight="bold" fill="#000" text-anchor="start" textLength="525" lengthAdjust="spacingAndGlyphs" >LS GLY/2pyr/Aeroperl300</text>
<line x1="453" y1="372.3" x2="500" y2="372.3" stroke="#111" stroke-width="5"/>
<polygon points="476.5,361.8 487.0,380.8 466.0,380.8" fill="#000" stroke="#000" stroke-width="2" stroke-linejoin="round"/>
<text x="511.4" y="380.4" font-size="43" font-weight="bold" fill="#000" text-anchor="start" textLength="532" lengthAdjust="spacingAndGlyphs" >LS GLY/DMA/Aeroperl300</text>
<rect x="251.2" y="1445" width="955.2" height="14" fill="#181c50"/>
<rect x="1198.4" y="1384.6" width="8" height="74.40000000000009" fill="#181c50"/>
<rect x="235.2" y="1378.6" width="964.2" height="67.40000000000009" fill="#ffffff" stroke="#8a8f9c" stroke-width="2.5"/>
<rect x="237.2" y="1380.6" width="88.80000000000001" height="63.40000000000009" fill="#eef2f8"/>
<text x="245.5" y="1432" font-size="42" font-weight="bold" fill="#1a1a1a" text-anchor="start" textLength="74" lengthAdjust="spacingAndGlyphs" >LPS</text>
<text x="320.5" y="1432" font-size="30" font-weight="bold" fill="#6a7080" text-anchor="start" >:</text>
<text x="373.6" y="1419" font-size="44" font-weight="bold" fill="#000" text-anchor="start" textLength="808.5" lengthAdjust="spacingAndGlyphs" >comparison granulometric distribution</text>
<rect x="440.7" y="1683" width="578.5999999999999" height="15" fill="#181c50"/>
<rect x="1010.3" y="1491.3" width="9" height="205.70000000000005" fill="#181c50"/>
<rect x="416.7" y="1483.3" width="594.5999999999999" height="200.70000000000005" fill="#ffffff" stroke="#8a8a92" stroke-width="2.5"/>
<line x1="426" y1="1528" x2="475" y2="1528" stroke="#ff0000" stroke-width="5"/>
<rect x="443.5" y="1521.0" width="14.0" height="14.0" fill="#ff0000" stroke="#120000" stroke-width="5"/>
<text x="482.6" y="1542.3" font-size="43" font-weight="bold" fill="#000" text-anchor="start" textLength="254" lengthAdjust="spacingAndGlyphs" >NeusilinUS2</text>
<line x1="426" y1="1594" x2="475" y2="1594" stroke="#0050e0" stroke-width="6"/>
<circle cx="450.5" cy="1594.0" r="7.2" fill="#0a34a0" stroke="#04071a" stroke-width="4.5"/>
<text x="479.2" y="1603.7" font-size="43" font-weight="bold" fill="#000" text-anchor="start" textLength="527" lengthAdjust="spacingAndGlyphs" >LS GLY/2pyr/NeusilinUS2</text>
<line x1="423" y1="1659.9" x2="472" y2="1659.9" stroke="#111" stroke-width="5"/>
<polygon points="447.5,1649.4 458.0,1668.4 437.0,1668.4" fill="#000" stroke="#000" stroke-width="2" stroke-linejoin="round"/>
<text x="475.2" y="1669.6" font-size="43" font-weight="bold" fill="#000" text-anchor="start" textLength="535" lengthAdjust="spacingAndGlyphs" >LS GLY/DMA/NeusilinUS2</text>
<path d="M512.0,1165.3 L514.0,1164.9 L516.0,1164.5 L518.1,1164.0 L520.1,1163.6 L522.1,1163.2 L524.1,1162.8 L526.1,1162.4 L528.1,1162.0 L530.2,1161.6 L532.2,1161.2 L534.2,1160.8 L536.2,1160.3 L538.2,1159.9 L540.3,1159.5 L542.3,1159.1 L544.3,1158.8 L546.3,1158.4 L548.3,1158.0 L550.3,1157.6 L552.4,1157.2 L554.4,1156.8 L556.4,1156.5 L558.4,1156.1 L560.4,1155.7 L562.5,1155.4 L564.5,1155.0 L566.5,1154.7 L568.5,1154.3 L570.5,1154.0 L572.5,1153.7 L574.6,1153.3 L576.6,1153.0 L578.6,1152.7 L580.6,1152.4 L582.6,1152.1 L584.6,1151.8 L586.6,1151.5 L588.6,1151.2 L590.6,1151.0 L592.6,1150.7 L594.6,1150.4 L596.6,1150.1 L598.6,1149.9 L600.6,1149.6 L602.6,1149.3 L604.6,1149.0 L606.6,1148.8 L608.6,1148.5 L610.6,1148.2 L612.6,1147.9 L614.6,1147.7 L616.6,1147.4 L618.6,1147.1 L620.6,1146.8 L622.6,1146.5 L624.6,1146.2 L626.6,1145.9 L628.6,1145.6 L630.6,1145.2 L632.6,1144.9 L634.6,1144.6 L636.6,1144.2 L638.6,1143.9 L640.6,1143.5 L642.6,1143.1 L644.7,1142.7 L646.7,1142.3 L648.7,1141.9 L650.8,1141.5 L652.8,1141.0 L654.8,1140.6 L656.9,1140.1 L658.9,1139.6 L660.9,1139.1 L663.0,1138.6 L665.0,1138.1 L667.0,1137.6 L669.1,1137.1 L671.1,1136.5 L673.2,1136.0 L675.2,1135.4 L677.2,1134.8 L679.3,1134.2 L681.3,1133.6 L683.3,1133.0 L685.4,1132.3 L687.4,1131.7 L689.4,1131.0 L691.5,1130.4 L693.5,1129.7 L695.5,1129.0 L697.6,1128.3 L699.6,1127.6 L701.7,1126.8 L703.7,1126.1 L705.8,1125.3 L707.8,1124.6 L709.8,1123.8 L711.9,1123.0 L713.9,1122.2 L716.0,1121.4 L718.0,1120.5 L720.1,1119.7 L722.1,1118.8 L724.1,1118.0 L726.2,1117.1 L728.2,1116.2 L730.3,1115.3 L732.3,1114.4 L734.4,1113.4 L736.4,1112.5 L738.5,1111.5 L740.6,1110.5 L742.7,1109.5 L744.8,1108.5 L746.9,1107.5 L749.0,1106.4 L751.1,1105.4 L753.2,1104.3 L755.4,1103.2 L757.5,1102.1 L759.6,1101.0 L761.7,1099.9 L763.8,1098.8 L765.9,1097.6 L768.0,1096.5 L770.1,1095.3 L772.2,1094.1 L774.3,1093.0 L776.3,1091.8 L778.4,1090.6 L780.5,1089.4 L782.6,1088.2 L784.6,1087.0 L786.7,1085.8 L788.8,1084.5 L790.9,1083.3 L793.0,1082.1 L795.0,1080.8 L797.1,1079.6 L799.2,1078.4 L801.3,1077.2 L803.3,1075.9 L805.4,1074.7 L807.5,1073.5 L809.6,1072.3 L811.6,1071.1 L813.7,1069.9 L815.8,1068.7 L817.8,1067.5 L819.9,1066.3 L822.0,1065.2 L824.0,1064.0 L826.1,1062.9 L828.2,1061.7 L830.2,1060.6 L832.3,1059.4 L834.4,1058.3 L836.5,1057.2 L838.5,1056.1 L840.6,1055.0 L842.7,1053.9 L844.7,1052.8 L846.8,1051.7 L848.9,1050.6 L850.9,1049.6 L853.0,1048.5 L855.1,1047.5 L857.1,1046.4 L859.2,1045.4 L861.3,1044.4 L863.4,1043.3 L865.4,1042.3 L867.5,1041.3 L869.6,1040.3 L871.7,1039.3 L873.7,1038.4 L875.8,1037.4 L877.9,1036.4 L880.0,1035.4 L882.0,1034.4 L884.1,1033.5 L886.2,1032.5 L888.3,1031.5 L890.3,1030.6 L892.4,1029.6 L894.4,1028.7 L896.4,1027.7 L898.4,1026.8 L900.4,1025.9 L902.5,1025.0 L904.5,1024.0 L906.5,1023.2 L908.5,1022.3 L910.5,1021.4 L912.5,1020.6 L914.5,1019.7 L916.5,1018.9 L918.5,1018.1 L920.5,1017.4 L922.5,1016.7 L924.6,1016.0 L926.6,1015.3 L928.6,1014.7 L930.6,1014.1 L932.6,1013.5 L934.7,1013.0 L936.7,1012.5 L938.8,1012.0 L940.9,1011.6 L943.0,1011.2 L945.0,1010.9 L947.1,1010.6 L949.2,1010.3 L951.3,1010.0 L953.3,1009.8 L955.4,1009.6 L957.5,1009.4 L959.6,1009.3 L961.6,1009.2 L963.7,1009.1 L965.8,1009.0 L967.9,1009.0 L969.9,1008.9 L972.0,1008.9 L974.1,1008.9 L976.1,1008.9 L978.2,1008.9 L980.2,1009.0 L982.3,1009.0 L984.3,1009.1 L986.4,1009.1 L988.4,1009.2 L990.5,1009.3 L992.5,1009.5 L994.6,1009.6 L996.6,1009.8 L998.7,1009.9 L1000.7,1010.1 L1002.8,1010.3 L1004.8,1010.5 L1006.9,1010.7 L1008.9,1011.0 L1011.0,1011.2 L1013.1,1011.5 L1015.1,1011.7 L1017.2,1012.0 L1019.3,1012.3 L1021.3,1012.6 L1023.4,1013.0 L1025.5,1013.3 L1027.5,1013.6 L1029.6,1013.9 L1031.6,1014.3 L1033.7,1014.6 L1035.8,1014.9 L1037.8,1015.2 L1039.9,1015.6 L1042.0,1015.9 L1044.0,1016.2 L1046.1,1016.5 L1048.2,1016.8 L1050.2,1017.1 L1052.3,1017.4 L1054.4,1017.6 L1056.4,1017.9 L1058.5,1018.1 L1060.6,1018.3 L1062.6,1018.5 L1064.7,1018.7 L1066.8,1018.8 L1068.8,1019.0 L1070.9,1019.1 L1073.0,1019.2 L1075.0,1019.3 L1077.1,1019.3 L1079.2,1019.3 L1081.2,1019.3 L1083.3,1019.3 L1085.3,1019.2 L1087.4,1019.1 L1089.4,1019.0 L1091.5,1018.9 L1093.5,1018.7 L1095.6,1018.5 L1097.6,1018.3 L1099.7,1018.0 L1101.7,1017.7 L1103.8,1017.4 L1105.8,1017.1 L1107.8,1016.7 L1109.9,1016.4 L1111.9,1016.0 L1114.0,1015.5 L1116.0,1015.1 L1118.1,1014.6 L1120.1,1014.2 L1122.2,1013.6 L1124.2,1013.1 L1126.3,1012.6 L1128.3,1012.0 L1130.4,1011.4 L1132.4,1010.8 L1134.5,1010.1 L1136.6,1009.5 L1138.7,1008.8 L1140.7,1008.1 L1142.8,1007.3 L1144.9,1006.5 L1147.0,1005.7 L1149.0,1004.8 L1151.1,1003.9 L1153.2,1003.0 L1155.3,1002.0 L1157.3,1001.0 L1159.4,999.9 L1161.5,998.8 L1163.6,997.6 L1165.6,996.4 L1167.7,995.1 L1169.8,993.8 L1171.9,992.4 L1173.9,990.9 L1176.0,989.4 L1178.1,987.8 L1180.1,986.2 L1182.2,984.5 L1184.2,982.8 L1186.3,981.0 L1188.3,979.1 L1190.4,977.2 L1192.4,975.3 L1194.5,973.3 L1196.6,971.3 L1198.6,969.2 L1200.7,967.1 L1202.7,965.0 L1204.8,962.8 L1206.8,960.7 L1208.9,958.5 L1210.9,956.2 L1213.0,954.0 L1215.1,951.7 L1217.2,949.4 L1219.2,947.1 L1221.3,944.8 L1223.4,942.4 L1225.5,940.0 L1227.6,937.6 L1229.7,935.2 L1231.8,932.8 L1233.8,930.3 L1235.9,927.8 L1238.0,925.3 L1240.1,922.7 L1242.2,920.1 L1244.2,917.5 L1246.3,914.9 L1248.4,912.2 L1250.5,909.5 L1252.5,906.8 L1254.6,904.1 L1256.7,901.3 L1258.7,898.4 L1260.8,895.6 L1262.8,892.6 L1264.8,889.6 L1266.9,886.5 L1269.0,883.4 L1271.0,880.1 L1273.0,876.8 L1275.1,873.4 L1277.2,869.8 L1279.2,866.2 L1281.2,862.5 L1283.3,858.6 L1285.3,854.7 L1287.4,850.6 L1289.5,846.4 L1291.5,842.0 L1293.5,837.6 L1295.5,833.0 L1297.5,828.4 L1299.6,823.6 L1301.6,818.7 L1303.6,813.8 L1305.6,808.8 L1307.6,803.7 L1309.6,798.5 L1311.7,793.3 L1313.7,788.1 L1315.7,782.8 L1317.7,777.6 L1319.7,772.3 L1321.7,767.0 L1323.7,761.7 L1325.8,756.5 L1327.8,751.3 L1329.8,746.1 L1331.8,741.0 L1333.8,735.9 L1335.8,730.9 L1337.9,725.9 L1339.9,721.0 L1341.9,716.1 L1344.0,711.2 L1346.0,706.3 L1348.0,701.4 L1350.0,696.5 L1352.0,691.6 L1354.1,686.7 L1356.1,681.7 L1358.1,676.7 L1360.1,671.6 L1362.2,666.5 L1364.2,661.3 L1366.2,656.0 L1368.2,650.6 L1370.3,645.1 L1372.3,639.5 L1374.4,633.6 L1376.5,627.6 L1378.6,621.4 L1380.7,615.2 L1382.8,608.8 L1384.9,602.3 L1387.0,595.8 L1389.1,589.1 L1391.2,582.4 L1393.2,575.6 L1395.3,568.7 L1397.4,561.7 L1399.5,554.6 L1401.6,547.5 L1403.7,540.4 L1405.8,533.2 L1407.9,525.9 L1410.0,518.6 L1412.0,511.5 L1414.0,504.4 L1416.1,497.2 L1418.1,490.0 L1420.1,482.8 L1422.2,475.6 L1424.2,468.3 L1426.2,461.0 L1428.2,453.7 L1430.2,446.4 L1432.3,439.1 L1434.3,431.7 L1436.3,424.4 L1438.3,417.0 L1440.4,409.7 L1442.4,402.3 L1444.4,395.0 L1446.5,387.7 L1448.5,380.3 L1450.5,373.0 L1452.5,365.7 L1454.5,358.4 L1456.6,351.1 L1458.6,343.9 L1460.6,336.7 L1462.6,329.5 L1464.7,322.3 L1466.7,315.2 L1468.7,308.1 L1470.7,301.1 L1472.8,294.1 L1474.8,287.1 L1476.8,280.2 L1478.8,273.4 L1480.9,266.7 L1482.9,260.0 L1484.9,253.3 L1486.9,246.8 L1489.0,240.3 L1491.0,233.9 L1493.0,227.6 L1495.0,221.5 L1497.0,215.4 L1499.0,209.5 L1501.0,203.6 L1503.0,197.9 L1505.0,192.3 L1507.0,186.9 L1509.0,181.7 L1511.0,176.6 L1513.0,171.6 L1515.0,166.9 L1517.0,162.4 L1519.0,158.0 L1521.0,153.9 L1523.0,150.0 L1525.0,146.4 L1527.0,142.9 L1529.0,139.8 L1531.0,136.9 L1533.0,134.3 L1535.0,131.9 L1537.1,129.9 L1539.1,128.2 L1541.1,126.7 L1543.2,125.6 L1545.2,124.9 L1547.2,124.4 L1549.3,124.4 L1551.3,124.6 L1553.3,125.3 L1555.3,126.3 L1557.4,127.7 L1559.4,129.5 L1561.4,131.6 L1563.5,134.2 L1565.5,137.2 L1567.5,140.6 L1569.6,144.4 L1571.6,148.6 L1573.6,153.2 L1575.6,158.3 L1577.7,163.8 L1579.7,169.7 L1581.7,175.9 L1583.7,182.5 L1585.7,189.5 L1587.8,196.8 L1589.8,204.5 L1591.8,212.5 L1593.8,220.8 L1595.9,229.4 L1597.9,238.3 L1599.9,247.5 L1601.9,256.9 L1603.9,266.6 L1606.0,276.6 L1608.0,286.7 L1610.0,297.1 L1612.0,307.8 L1614.1,318.8 L1616.1,329.9 L1618.2,341.2 L1620.2,352.8 L1622.3,364.5 L1624.3,376.4 L1626.4,388.4 L1628.4,400.7 L1630.5,413.1 L1632.5,425.7 L1634.6,438.5 L1636.6,451.4 L1638.7,464.5 L1640.7,477.7 L1642.8,491.1 L1644.8,504.6 L1646.9,518.3 L1648.9,532.0 L1651.0,546.0 L1653.0,560.0 L1655.0,574.0 L1657.0,588.1 L1659.1,602.3 L1661.1,616.5 L1663.1,630.8 L1665.2,645.1 L1667.2,659.4 L1669.2,673.7 L1671.2,687.9 L1673.2,702.1 L1675.3,716.3 L1677.3,730.3 L1679.3,744.2 L1681.3,758.0 L1683.4,771.6 L1685.4,785.0 L1687.4,798.3 L1689.5,811.3 L1691.5,824.1 L1693.5,836.7 L1695.6,849.3 L1697.7,861.6 L1699.7,873.7 L1701.8,885.4 L1703.9,896.9 L1706.0,908.0 L1708.1,918.9 L1710.1,929.4 L1712.2,939.7 L1714.3,949.6 L1716.4,959.2 L1718.4,968.5 L1720.5,977.4 L1722.6,986.1 L1724.7,994.4 L1726.8,1002.4 L1728.8,1010.0 L1730.9,1017.3 L1733.0,1024.3 L1735.0,1030.7 L1737.0,1036.9 L1739.0,1042.7 L1741.1,1048.3 L1743.1,1053.6 L1745.1,1058.7 L1747.1,1063.6 L1749.1,1068.3 L1751.1,1072.8 L1753.2,1077.1 L1755.2,1081.3 L1757.2,1085.4 L1759.2,1089.4 L1761.2,1093.3 L1763.2,1097.1 L1765.3,1100.8 L1767.3,1104.6 L1769.3,1108.3 L1771.3,1112.0 L1773.4,1115.9 L1775.5,1119.7 L1777.6,1123.6 L1779.7,1127.4 L1781.7,1131.2 L1783.8,1135.0 L1785.9,1138.7 L1788.0,1142.2 L1790.1,1145.7 L1792.2,1149.1 L1794.3,1152.4 L1796.4,1155.5 L1798.5,1158.4 L1800.6,1161.2 L1802.6,1163.8 L1804.7,1166.2 L1806.8,1168.4 L1808.9,1170.3 L1811.0,1172.0 L1813.0,1173.4 L1815.0,1174.5 L1817.0,1175.5 L1819.0,1176.0 L1821.0,1176.0 L1823.0,1176.0 L1825.0,1176.0 L1827.0,1176.0 L1829.0,1176.0 L1831.0,1176.0 L1833.0,1176.0 L1835.0,1176.0 L1837.0,1176.0 L1839.0,1176.0 L1841.0,1176.0 L1843.0,1175.7 L1845.0,1175.4 L1847.0,1175.0 L1849.0,1174.7 L1851.0,1174.5 L1853.0,1174.3 L1855.0,1174.2 L1857.0,1174.1 L1859.0,1174.1 L1861.0,1174.2 L1863.0,1174.2 L1865.0,1174.3 L1867.0,1174.4 L1869.0,1174.5" fill="none" stroke="#ff0000" stroke-width="7.5" stroke-linecap="round" stroke-linejoin="round"/>
<path d="M512.0,1144.0 L514.0,1143.3 L516.0,1142.6 L518.1,1141.9 L520.1,1141.1 L522.1,1140.4 L524.1,1139.7 L526.1,1139.0 L528.1,1138.3 L530.2,1137.6 L532.2,1136.9 L534.2,1136.2 L536.2,1135.5 L538.2,1134.8 L540.3,1134.1 L542.3,1133.4 L544.3,1132.7 L546.3,1132.0 L548.3,1131.3 L550.3,1130.6 L552.4,1130.0 L554.4,1129.3 L556.4,1128.6 L558.4,1127.9 L560.4,1127.3 L562.5,1126.6 L564.5,1126.0 L566.5,1125.3 L568.5,1124.7 L570.5,1124.0 L572.5,1123.4 L574.6,1122.7 L576.6,1122.1 L578.6,1121.5 L580.7,1120.9 L582.7,1120.3 L584.8,1119.6 L586.8,1119.0 L588.9,1118.4 L590.9,1117.8 L593.0,1117.2 L595.0,1116.6 L597.1,1116.0 L599.1,1115.4 L601.2,1114.8 L603.2,1114.2 L605.3,1113.6 L607.3,1113.0 L609.4,1112.4 L611.4,1111.8 L613.5,1111.2 L615.5,1110.6 L617.6,1110.0 L619.7,1109.4 L621.7,1108.8 L623.8,1108.1 L625.8,1107.5 L627.9,1106.9 L629.9,1106.2 L632.0,1105.6 L634.0,1104.9 L636.1,1104.3 L638.1,1103.7 L640.2,1103.0 L642.2,1102.4 L644.3,1101.8 L646.3,1101.2 L648.4,1100.5 L650.4,1099.9 L652.5,1099.3 L654.5,1098.7 L656.6,1098.2 L658.6,1097.6 L660.7,1097.0 L662.7,1096.5 L664.8,1095.9 L666.8,1095.4 L668.9,1094.9 L670.9,1094.4 L673.0,1093.9 L675.0,1093.4 L677.1,1093.0 L679.1,1092.5 L681.2,1092.1 L683.2,1091.7 L685.3,1091.3 L687.3,1091.0 L689.4,1090.6 L691.4,1090.3 L693.5,1090.0 L695.5,1089.7 L697.6,1089.5 L699.6,1089.3 L701.7,1089.1 L703.7,1088.9 L705.8,1088.7 L707.8,1088.6 L709.8,1088.4 L711.9,1088.3 L713.9,1088.3 L716.0,1088.2 L718.0,1088.1 L720.1,1088.1 L722.1,1088.1 L724.1,1088.1 L726.2,1088.1 L728.2,1088.1 L730.3,1088.2 L732.3,1088.2 L734.4,1088.3 L736.4,1088.4 L738.5,1088.5 L740.6,1088.6 L742.7,1088.7 L744.8,1088.9 L746.9,1089.0 L749.0,1089.2 L751.1,1089.3 L753.2,1089.5 L755.4,1089.6 L757.5,1089.8 L759.6,1089.9 L761.7,1090.1 L763.8,1090.3 L765.9,1090.4 L768.0,1090.6 L770.1,1090.7 L772.2,1090.8 L774.3,1091.0 L776.3,1091.1 L778.4,1091.2 L780.5,1091.3 L782.6,1091.4 L784.6,1091.5 L786.7,1091.6 L788.8,1091.7 L790.9,1091.8 L793.0,1091.9 L795.0,1092.0 L797.1,1092.1 L799.2,1092.2 L801.3,1092.3 L803.3,1092.4 L805.4,1092.5 L807.5,1092.6 L809.6,1092.7 L811.6,1092.8 L813.7,1093.0 L815.8,1093.1 L817.8,1093.2 L819.9,1093.3 L822.0,1093.5 L824.0,1093.6 L826.1,1093.7 L828.2,1093.8 L830.2,1094.0 L832.3,1094.1 L834.4,1094.2 L836.5,1094.3 L838.5,1094.4 L840.6,1094.5 L842.7,1094.6 L844.7,1094.7 L846.8,1094.8 L848.9,1094.9 L850.9,1094.9 L853.0,1095.0 L855.1,1095.0 L857.1,1095.1 L859.2,1095.1 L861.3,1095.1 L863.4,1095.1 L865.4,1095.1 L867.5,1095.1 L869.6,1095.1 L871.7,1095.1 L873.7,1095.1 L875.8,1095.1 L877.9,1095.1 L880.0,1095.1 L882.0,1095.0 L884.1,1095.0 L886.2,1095.0 L888.3,1095.0 L890.3,1095.0 L892.4,1095.0 L894.4,1095.0 L896.4,1095.0 L898.4,1095.0 L900.4,1095.0 L902.5,1095.1 L904.5,1095.1 L906.5,1095.1 L908.5,1095.1 L910.5,1095.1 L912.5,1095.1 L914.5,1095.1 L916.5,1095.2 L918.5,1095.2 L920.5,1095.2 L922.5,1095.2 L924.6,1095.1 L926.6,1095.1 L928.6,1095.1 L930.6,1095.0 L932.6,1095.0 L934.7,1094.9 L936.7,1094.9 L938.8,1094.8 L940.9,1094.7 L943.0,1094.6 L945.0,1094.4 L947.1,1094.3 L949.2,1094.1 L951.3,1093.9 L953.3,1093.7 L955.4,1093.4 L957.5,1093.1 L959.6,1092.8 L961.6,1092.5 L963.7,1092.2 L965.8,1091.8 L967.9,1091.3 L969.9,1090.9 L972.0,1090.4 L974.1,1089.9 L976.1,1089.3 L978.2,1088.7 L980.2,1088.1 L982.3,1087.5 L984.3,1086.8 L986.4,1086.2 L988.4,1085.5 L990.5,1084.8 L992.5,1084.1 L994.6,1083.4 L996.6,1082.6 L998.7,1081.9 L1000.7,1081.2 L1002.8,1080.5 L1004.8,1079.8 L1006.9,1079.1 L1008.9,1078.5 L1011.0,1077.8 L1013.1,1077.2 L1015.1,1076.5 L1017.2,1075.9 L1019.3,1075.4 L1021.3,1074.8 L1023.4,1074.2 L1025.5,1073.6 L1027.5,1073.1 L1029.6,1072.5 L1031.6,1071.9 L1033.7,1071.3 L1035.8,1070.7 L1037.8,1070.1 L1039.9,1069.5 L1042.0,1068.8 L1044.0,1068.1 L1046.1,1067.4 L1048.2,1066.7 L1050.2,1065.9 L1052.3,1065.1 L1054.4,1064.3 L1056.4,1063.4 L1058.5,1062.5 L1060.6,1061.6 L1062.6,1060.7 L1064.7,1059.7 L1066.8,1058.8 L1068.8,1057.8 L1070.9,1056.7 L1073.0,1055.7 L1075.0,1054.6 L1077.1,1053.5 L1079.2,1052.4 L1081.2,1051.3 L1083.3,1050.2 L1085.3,1049.1 L1087.4,1047.9 L1089.4,1046.8 L1091.5,1045.6 L1093.5,1044.4 L1095.6,1043.2 L1097.6,1042.0 L1099.7,1040.9 L1101.7,1039.7 L1103.8,1038.5 L1105.8,1037.3 L1107.8,1036.1 L1109.9,1035.0 L1111.9,1033.8 L1114.0,1032.6 L1116.0,1031.5 L1118.1,1030.4 L1120.1,1029.3 L1122.2,1028.2 L1124.2,1027.1 L1126.3,1026.0 L1128.3,1025.0 L1130.4,1024.0 L1132.4,1023.0 L1134.5,1022.0 L1136.6,1021.0 L1138.7,1020.1 L1140.7,1019.2 L1142.8,1018.2 L1144.9,1017.3 L1147.0,1016.4 L1149.0,1015.5 L1151.1,1014.5 L1153.2,1013.6 L1155.3,1012.7 L1157.3,1011.7 L1159.4,1010.7 L1161.5,1009.8 L1163.6,1008.7 L1165.6,1007.7 L1167.7,1006.7 L1169.8,1005.6 L1171.9,1004.4 L1173.9,1003.3 L1176.0,1002.1 L1178.1,1000.9 L1180.1,999.6 L1182.2,998.3 L1184.2,997.0 L1186.3,995.6 L1188.3,994.2 L1190.4,992.7 L1192.4,991.2 L1194.5,989.7 L1196.6,988.2 L1198.6,986.6 L1200.7,984.9 L1202.7,983.3 L1204.8,981.6 L1206.8,979.9 L1208.9,978.1 L1210.9,976.3 L1213.0,974.5 L1215.1,972.6 L1217.2,970.7 L1219.2,968.8 L1221.3,966.8 L1223.4,964.8 L1225.5,962.8 L1227.6,960.8 L1229.7,958.7 L1231.8,956.6 L1233.8,954.4 L1235.9,952.2 L1238.0,950.0 L1240.1,947.8 L1242.2,945.5 L1244.2,943.2 L1246.3,940.9 L1248.4,938.6 L1250.5,936.2 L1252.5,933.8 L1254.6,931.4 L1256.7,929.0 L1258.7,926.5 L1260.8,924.0 L1262.8,921.5 L1264.8,918.9 L1266.9,916.2 L1269.0,913.6 L1271.0,910.8 L1273.0,908.0 L1275.1,905.2 L1277.2,902.3 L1279.2,899.3 L1281.2,896.2 L1283.3,893.1 L1285.3,890.0 L1287.4,886.7 L1289.5,883.4 L1291.5,880.0 L1293.5,876.6 L1295.5,873.1 L1297.5,869.5 L1299.6,865.9 L1301.6,862.2 L1303.6,858.5 L1305.6,854.7 L1307.6,850.9 L1309.6,847.0 L1311.7,843.1 L1313.7,839.1 L1315.7,835.1 L1317.7,831.2 L1319.7,827.1 L1321.7,823.1 L1323.7,819.1 L1325.8,815.0 L1327.8,811.0 L1329.8,806.9 L1331.8,802.9 L1333.8,798.9 L1335.8,794.8 L1337.9,790.8 L1339.9,786.8 L1341.9,782.7 L1344.0,778.6 L1346.0,774.6 L1348.0,770.5 L1350.0,766.3 L1352.0,762.1 L1354.1,757.9 L1356.1,753.7 L1358.1,749.3 L1360.1,745.0 L1362.2,740.5 L1364.2,736.0 L1366.2,731.4 L1368.2,726.7 L1370.3,722.0 L1372.3,717.1 L1374.4,712.0 L1376.5,706.7 L1378.6,701.4 L1380.7,696.0 L1382.8,690.5 L1384.9,684.9 L1387.0,679.2 L1389.1,673.4 L1391.2,667.6 L1393.2,661.7 L1395.3,655.7 L1397.4,649.6 L1399.5,643.5 L1401.6,637.3 L1403.7,631.1 L1405.8,624.8 L1407.9,618.5 L1410.0,612.1 L1412.0,605.9 L1414.0,599.6 L1416.1,593.4 L1418.1,587.0 L1420.1,580.7 L1422.2,574.3 L1424.2,567.8 L1426.2,561.3 L1428.2,554.8 L1430.2,548.2 L1432.3,541.6 L1434.3,534.9 L1436.3,528.2 L1438.3,521.5 L1440.4,514.7 L1442.4,507.8 L1444.4,500.9 L1446.5,494.0 L1448.5,487.0 L1450.5,480.0 L1452.5,472.9 L1454.5,465.8 L1456.6,458.7 L1458.6,451.4 L1460.6,444.2 L1462.6,436.9 L1464.7,429.6 L1466.7,422.2 L1468.7,414.8 L1470.7,407.3 L1472.8,399.8 L1474.8,392.3 L1476.8,384.7 L1478.8,377.1 L1480.9,369.5 L1482.9,361.8 L1484.9,354.1 L1486.9,346.3 L1489.0,338.5 L1491.0,330.7 L1493.0,322.9 L1495.0,315.1 L1497.0,307.3 L1499.0,299.5 L1501.0,291.7 L1503.0,283.9 L1505.0,276.2 L1507.0,268.4 L1509.0,260.7 L1511.0,253.1 L1513.0,245.5 L1515.0,238.0 L1517.0,230.5 L1519.0,223.2 L1521.0,216.0 L1523.0,208.8 L1525.0,201.8 L1527.0,194.9 L1529.0,188.2 L1531.0,181.6 L1533.0,175.2 L1535.0,168.9 L1537.1,162.7 L1539.1,156.7 L1541.1,150.9 L1543.2,145.4 L1545.2,140.0 L1547.2,134.8 L1549.3,129.9 L1551.3,125.2 L1553.3,120.8 L1555.3,116.6 L1557.4,112.6 L1559.4,108.9 L1561.4,105.4 L1563.5,102.3 L1565.5,99.4 L1567.5,96.8 L1569.6,94.4 L1571.6,92.4 L1573.6,90.7 L1575.6,89.3 L1577.7,88.2 L1579.7,87.4 L1581.7,86.9 L1583.7,86.7 L1585.7,86.9 L1587.8,87.4 L1589.8,88.3 L1591.8,89.4 L1593.8,91.0 L1595.9,92.9 L1597.9,95.1 L1599.9,97.7 L1601.9,100.6 L1603.9,104.0 L1606.0,107.7 L1608.0,111.7 L1610.0,116.2 L1612.0,121.1 L1614.1,126.4 L1616.1,132.1 L1618.2,138.2 L1620.2,144.8 L1622.3,151.7 L1624.3,159.0 L1626.4,166.8 L1628.4,174.9 L1630.5,183.5 L1632.5,192.5 L1634.6,201.9 L1636.6,211.7 L1638.7,222.0 L1640.7,232.6 L1642.8,243.7 L1644.8,255.3 L1646.9,267.2 L1648.9,279.6 L1651.0,292.4 L1653.0,305.7 L1655.0,319.2 L1657.0,333.2 L1659.1,347.5 L1661.1,362.2 L1663.1,377.3 L1665.2,392.7 L1667.2,408.4 L1669.2,424.4 L1671.2,440.7 L1673.2,457.2 L1675.3,474.0 L1677.3,491.0 L1679.3,508.1 L1681.3,525.5 L1683.4,543.0 L1685.4,560.7 L1687.4,578.5 L1689.5,596.4 L1691.5,614.4 L1693.5,632.4 L1695.6,651.0 L1697.7,669.5 L1699.7,688.1 L1701.8,706.6 L1703.9,725.0 L1706.0,743.2 L1708.1,761.3 L1710.1,779.1 L1712.2,796.7 L1714.3,814.0 L1716.4,830.9 L1718.4,847.5 L1720.5,863.7 L1722.6,879.4 L1724.7,894.7 L1726.8,909.4 L1728.8,923.5 L1730.9,937.1 L1733.0,950.0 L1735.0,961.9 L1737.0,973.2 L1739.0,983.9 L1741.1,994.0 L1743.1,1003.7 L1745.1,1012.8 L1747.1,1021.5 L1749.1,1029.7 L1751.1,1037.6 L1753.2,1045.0 L1755.2,1052.2 L1757.2,1058.9 L1759.2,1065.5 L1761.2,1071.7 L1763.2,1077.7 L1765.3,1083.5 L1767.3,1089.1 L1769.3,1094.6 L1771.3,1100.0 L1773.4,1105.5 L1775.5,1110.8 L1777.6,1116.1 L1779.7,1121.2 L1781.7,1126.1 L1783.8,1130.9 L1785.9,1135.6 L1788.0,1140.1 L1790.1,1144.4 L1792.2,1148.5 L1794.3,1152.3 L1796.4,1156.0 L1798.5,1159.4 L1800.6,1162.6 L1802.6,1165.5 L1804.7,1168.2 L1806.8,1170.6 L1808.9,1172.7 L1811.0,1174.5 L1813.0,1175.9 L1815.0,1176.0 L1817.0,1176.0 L1819.0,1176.0 L1821.0,1176.0 L1823.0,1176.0 L1825.0,1176.0 L1827.0,1176.0 L1829.0,1176.0 L1831.0,1176.0 L1833.0,1176.0 L1835.0,1176.0 L1837.0,1176.0 L1839.0,1176.0 L1841.0,1176.0 L1843.0,1176.0 L1845.0,1175.7 L1847.0,1175.3 L1849.0,1174.8 L1851.0,1174.5 L1853.0,1174.3 L1855.0,1174.1 L1857.0,1174.0 L1859.0,1174.0 L1861.0,1174.0 L1863.0,1174.1 L1865.0,1174.2 L1867.0,1174.4 L1869.0,1174.5" fill="none" stroke="#0048d8" stroke-width="6.5" stroke-linecap="round" stroke-linejoin="round"/>
<path d="M512.0,1146.0 L514.0,1145.2 L516.0,1144.3 L518.1,1143.5 L520.1,1142.7 L522.1,1141.9 L524.1,1141.0 L526.1,1140.2 L528.1,1139.4 L530.2,1138.6 L532.2,1137.7 L534.2,1136.9 L536.2,1136.1 L538.2,1135.3 L540.3,1134.5 L542.3,1133.7 L544.3,1132.9 L546.3,1132.1 L548.3,1131.4 L550.3,1130.6 L552.4,1129.8 L554.4,1129.1 L556.4,1128.3 L558.4,1127.6 L560.4,1126.8 L562.5,1126.1 L564.5,1125.4 L566.5,1124.7 L568.5,1124.0 L570.5,1123.3 L572.5,1122.6 L574.6,1121.9 L576.6,1121.3 L578.6,1120.6 L580.7,1119.9 L582.7,1119.3 L584.8,1118.7 L586.8,1118.0 L588.9,1117.4 L590.9,1116.8 L593.0,1116.2 L595.0,1115.6 L597.1,1115.0 L599.1,1114.4 L601.2,1113.8 L603.2,1113.2 L605.3,1112.6 L607.3,1112.0 L609.4,1111.4 L611.4,1110.8 L613.5,1110.2 L615.5,1109.6 L617.6,1109.0 L619.7,1108.4 L621.7,1107.7 L623.8,1107.1 L625.8,1106.4 L627.9,1105.8 L629.9,1105.1 L632.0,1104.5 L634.0,1103.8 L636.1,1103.1 L638.1,1102.5 L640.2,1101.8 L642.2,1101.1 L644.3,1100.5 L646.3,1099.8 L648.4,1099.2 L650.4,1098.5 L652.5,1097.9 L654.5,1097.2 L656.6,1096.6 L658.6,1096.0 L660.7,1095.4 L662.7,1094.7 L664.8,1094.1 L666.8,1093.6 L668.9,1093.0 L670.9,1092.4 L673.0,1091.9 L675.0,1091.3 L677.1,1090.8 L679.1,1090.3 L681.2,1089.8 L683.2,1089.4 L685.3,1088.9 L687.3,1088.5 L689.4,1088.1 L691.4,1087.7 L693.5,1087.3 L695.5,1087.0 L697.6,1086.6 L699.6,1086.3 L701.7,1086.0 L703.7,1085.8 L705.8,1085.5 L707.8,1085.3 L709.8,1085.1 L711.9,1084.8 L713.9,1084.6 L716.0,1084.4 L718.0,1084.3 L720.1,1084.1 L722.1,1083.9 L724.1,1083.7 L726.2,1083.6 L728.2,1083.4 L730.3,1083.2 L732.3,1083.0 L734.4,1082.9 L736.4,1082.7 L738.5,1082.5 L740.6,1082.3 L742.7,1082.1 L744.8,1081.9 L746.9,1081.7 L749.0,1081.5 L751.1,1081.3 L753.2,1081.1 L755.4,1080.9 L757.5,1080.6 L759.6,1080.4 L761.7,1080.2 L763.8,1080.0 L765.9,1079.7 L768.0,1079.5 L770.1,1079.3 L772.2,1079.1 L774.3,1078.9 L776.3,1078.7 L778.4,1078.4 L780.5,1078.2 L782.6,1078.0 L784.6,1077.8 L786.7,1077.6 L788.8,1077.4 L790.9,1077.2 L793.0,1077.1 L795.0,1076.9 L797.1,1076.7 L799.2,1076.6 L801.3,1076.4 L803.3,1076.3 L805.4,1076.1 L807.5,1076.0 L809.6,1075.9 L811.6,1075.8 L813.7,1075.7 L815.8,1075.6 L817.8,1075.5 L819.9,1075.4 L822.0,1075.3 L824.0,1075.3 L826.1,1075.2 L828.2,1075.1 L830.2,1075.1 L832.3,1075.0 L834.4,1074.9 L836.5,1074.9 L838.5,1074.8 L840.6,1074.7 L842.7,1074.7 L844.7,1074.6 L846.8,1074.5 L848.9,1074.5 L850.9,1074.4 L853.0,1074.3 L855.1,1074.2 L857.1,1074.1 L859.2,1074.0 L861.3,1073.9 L863.4,1073.8 L865.4,1073.7 L867.5,1073.6 L869.6,1073.5 L871.7,1073.4 L873.7,1073.3 L875.8,1073.3 L877.9,1073.2 L880.0,1073.2 L882.0,1073.1 L884.1,1073.1 L886.2,1073.1 L888.3,1073.1 L890.3,1073.1 L892.4,1073.2 L894.4,1073.3 L896.4,1073.4 L898.4,1073.5 L900.4,1073.6 L902.5,1073.7 L904.5,1073.8 L906.5,1074.0 L908.5,1074.1 L910.5,1074.2 L912.5,1074.4 L914.5,1074.5 L916.5,1074.5 L918.5,1074.6 L920.5,1074.7 L922.5,1074.7 L924.6,1074.7 L926.6,1074.6 L928.6,1074.6 L930.6,1074.5 L932.6,1074.3 L934.7,1074.1 L936.7,1073.8 L938.8,1073.5 L940.9,1073.2 L943.0,1072.9 L945.0,1072.5 L947.1,1072.0 L949.2,1071.6 L951.3,1071.1 L953.3,1070.7 L955.4,1070.2 L957.5,1069.7 L959.6,1069.2 L961.6,1068.7 L963.7,1068.2 L965.8,1067.7 L967.9,1067.2 L969.9,1066.7 L972.0,1066.3 L974.1,1065.9 L976.1,1065.5 L978.2,1065.1 L980.2,1064.7 L982.3,1064.4 L984.3,1064.0 L986.4,1063.7 L988.4,1063.3 L990.5,1063.0 L992.5,1062.7 L994.6,1062.3 L996.6,1062.0 L998.7,1061.7 L1000.7,1061.3 L1002.8,1061.0 L1004.8,1060.6 L1006.9,1060.2 L1008.9,1059.8 L1011.0,1059.4 L1013.1,1059.0 L1015.1,1058.5 L1017.2,1058.0 L1019.3,1057.5 L1021.3,1057.0 L1023.4,1056.4 L1025.5,1055.9 L1027.5,1055.3 L1029.6,1054.7 L1031.6,1054.0 L1033.7,1053.4 L1035.8,1052.7 L1037.8,1052.0 L1039.9,1051.3 L1042.0,1050.6 L1044.0,1049.9 L1046.1,1049.1 L1048.2,1048.3 L1050.2,1047.5 L1052.3,1046.7 L1054.4,1045.9 L1056.4,1045.0 L1058.5,1044.1 L1060.6,1043.3 L1062.6,1042.4 L1064.7,1041.5 L1066.8,1040.5 L1068.8,1039.6 L1070.9,1038.7 L1073.0,1037.8 L1075.0,1036.8 L1077.1,1035.9 L1079.2,1034.9 L1081.2,1034.0 L1083.3,1033.0 L1085.3,1032.1 L1087.4,1031.1 L1089.4,1030.2 L1091.5,1029.2 L1093.5,1028.2 L1095.6,1027.3 L1097.6,1026.3 L1099.7,1025.3 L1101.7,1024.3 L1103.8,1023.3 L1105.8,1022.3 L1107.8,1021.3 L1109.9,1020.2 L1111.9,1019.2 L1114.0,1018.1 L1116.0,1017.0 L1118.1,1015.9 L1120.1,1014.8 L1122.2,1013.7 L1124.2,1012.5 L1126.3,1011.3 L1128.3,1010.1 L1130.4,1008.8 L1132.4,1007.6 L1134.5,1006.3 L1136.6,1004.9 L1138.7,1003.6 L1140.7,1002.2 L1142.8,1000.8 L1144.9,999.4 L1147.0,998.0 L1149.0,996.5 L1151.1,995.0 L1153.2,993.5 L1155.3,992.0 L1157.3,990.5 L1159.4,988.9 L1161.5,987.3 L1163.6,985.7 L1165.6,984.1 L1167.7,982.5 L1169.8,980.8 L1171.9,979.1 L1173.9,977.4 L1176.0,975.7 L1178.1,974.0 L1180.1,972.3 L1182.2,970.5 L1184.2,968.7 L1186.3,966.9 L1188.3,965.1 L1190.4,963.3 L1192.4,961.4 L1194.5,959.5 L1196.6,957.6 L1198.6,955.7 L1200.7,953.7 L1202.7,951.7 L1204.8,949.7 L1206.8,947.7 L1208.9,945.6 L1210.9,943.5 L1213.0,941.3 L1215.1,939.1 L1217.2,936.8 L1219.2,934.6 L1221.3,932.2 L1223.4,929.9 L1225.5,927.5 L1227.6,925.1 L1229.7,922.7 L1231.8,920.2 L1233.8,917.8 L1235.9,915.2 L1238.0,912.7 L1240.1,910.2 L1242.2,907.6 L1244.2,905.0 L1246.3,902.4 L1248.4,899.7 L1250.5,897.1 L1252.5,894.5 L1254.6,891.8 L1256.7,889.2 L1258.7,886.5 L1260.8,883.7 L1262.8,880.9 L1264.8,878.1 L1266.9,875.2 L1269.0,872.3 L1271.0,869.3 L1273.0,866.2 L1275.1,863.0 L1277.2,859.8 L1279.2,856.4 L1281.2,853.0 L1283.3,849.5 L1285.3,845.9 L1287.4,842.1 L1289.5,838.3 L1291.5,834.3 L1293.5,830.3 L1295.5,826.1 L1297.5,821.9 L1299.6,817.6 L1301.6,813.1 L1303.6,808.6 L1305.6,804.1 L1307.6,799.4 L1309.6,794.8 L1311.7,790.1 L1313.7,785.3 L1315.7,780.6 L1317.7,775.8 L1319.7,771.0 L1321.7,766.3 L1323.7,761.5 L1325.8,756.8 L1327.8,752.1 L1329.8,747.5 L1331.8,742.9 L1333.8,738.4 L1335.8,733.9 L1337.9,729.4 L1339.9,725.0 L1341.9,720.7 L1344.0,716.3 L1346.0,712.0 L1348.0,707.7 L1350.0,703.4 L1352.0,699.1 L1354.1,694.8 L1356.1,690.5 L1358.1,686.1 L1360.1,681.7 L1362.2,677.3 L1364.2,672.8 L1366.2,668.3 L1368.2,663.7 L1370.3,659.0 L1372.3,654.3 L1374.4,649.3 L1376.5,644.2 L1378.6,639.1 L1380.7,633.8 L1382.8,628.5 L1384.9,623.1 L1387.0,617.7 L1389.1,612.2 L1391.2,606.7 L1393.2,601.1 L1395.3,595.5 L1397.4,589.9 L1399.5,584.2 L1401.6,578.5 L1403.7,572.8 L1405.8,567.1 L1407.9,561.4 L1410.0,555.7 L1412.0,550.2 L1414.0,544.7 L1416.1,539.2 L1418.1,533.7 L1420.1,528.2 L1422.2,522.7 L1424.2,517.3 L1426.2,511.8 L1428.2,506.3 L1430.2,500.9 L1432.3,495.5 L1434.3,490.0 L1436.3,484.6 L1438.3,479.2 L1440.4,473.8 L1442.4,468.4 L1444.4,463.1 L1446.5,457.7 L1448.5,452.3 L1450.5,447.0 L1452.5,441.7 L1454.5,436.3 L1456.6,431.0 L1458.6,425.7 L1460.6,420.5 L1462.6,415.2 L1464.7,409.9 L1466.7,404.7 L1468.7,399.5 L1470.7,394.2 L1472.8,389.1 L1474.8,383.9 L1476.8,378.7 L1478.8,373.6 L1480.9,368.4 L1482.9,363.3 L1484.9,358.2 L1486.9,353.2 L1489.0,348.1 L1491.0,343.1 L1493.0,338.1 L1495.0,333.2 L1497.0,328.3 L1499.0,323.4 L1501.0,318.6 L1503.0,313.8 L1505.0,309.1 L1507.0,304.4 L1509.0,299.7 L1511.0,295.2 L1513.0,290.7 L1515.0,286.3 L1517.0,281.9 L1519.0,277.6 L1521.0,273.5 L1523.0,269.4 L1525.0,265.4 L1527.0,261.5 L1529.0,257.7 L1531.0,254.0 L1533.0,250.5 L1535.0,247.0 L1537.1,243.7 L1539.1,240.5 L1541.1,237.5 L1543.2,234.6 L1545.2,231.9 L1547.2,229.4 L1549.3,227.1 L1551.3,225.0 L1553.3,223.2 L1555.3,221.6 L1557.4,220.2 L1559.4,219.0 L1561.4,218.2 L1563.5,217.6 L1565.5,217.2 L1567.5,217.2 L1569.6,217.5 L1571.6,218.1 L1573.6,219.0 L1575.6,220.2 L1577.7,221.8 L1579.7,223.6 L1581.7,225.7 L1583.7,228.2 L1585.7,230.8 L1587.8,233.8 L1589.8,237.0 L1591.8,240.5 L1593.8,244.2 L1595.9,248.2 L1597.9,252.3 L1599.9,256.8 L1601.9,261.4 L1603.9,266.2 L1606.0,271.3 L1608.0,276.5 L1610.0,281.9 L1612.0,287.6 L1614.1,293.4 L1616.1,299.5 L1618.2,305.7 L1620.2,312.2 L1622.3,318.9 L1624.3,325.8 L1626.4,332.9 L1628.4,340.3 L1630.5,347.9 L1632.5,355.8 L1634.6,363.9 L1636.6,372.2 L1638.7,380.9 L1640.7,389.8 L1642.8,399.0 L1644.8,408.5 L1646.9,418.3 L1648.9,428.4 L1651.0,438.8 L1653.0,449.5 L1655.0,460.4 L1657.0,471.6 L1659.1,483.1 L1661.1,494.8 L1663.1,506.8 L1665.2,519.1 L1667.2,531.5 L1669.2,544.1 L1671.2,557.0 L1673.2,569.9 L1675.3,583.1 L1677.3,596.3 L1679.3,609.7 L1681.3,623.1 L1683.4,636.6 L1685.4,650.2 L1687.4,663.8 L1689.5,677.5 L1691.5,691.1 L1693.5,704.8 L1695.6,718.8 L1697.7,732.7 L1699.7,746.6 L1701.8,760.4 L1703.9,774.2 L1706.0,787.8 L1708.1,801.4 L1710.1,814.8 L1712.2,828.0 L1714.3,841.1 L1716.4,854.1 L1718.4,866.9 L1720.5,879.4 L1722.6,891.8 L1724.7,903.9 L1726.8,915.8 L1728.8,927.5 L1730.9,938.9 L1733.0,950.0 L1735.0,960.5 L1737.0,970.7 L1739.0,980.7 L1741.1,990.3 L1743.1,999.7 L1745.1,1008.8 L1747.1,1017.5 L1749.1,1026.0 L1751.1,1034.2 L1753.2,1042.1 L1755.2,1049.6 L1757.2,1056.9 L1759.2,1063.8 L1761.2,1070.4 L1763.2,1076.7 L1765.3,1082.7 L1767.3,1088.3 L1769.3,1093.6 L1771.3,1098.6 L1773.4,1103.4 L1775.5,1107.8 L1777.6,1112.0 L1779.7,1115.8 L1781.7,1119.3 L1783.8,1122.6 L1785.9,1125.6 L1788.0,1128.4 L1790.1,1131.0 L1792.2,1133.4 L1794.3,1135.6 L1796.4,1137.7 L1798.5,1139.7 L1800.6,1141.6 L1802.6,1143.3 L1804.7,1145.1 L1806.8,1146.7 L1808.9,1148.4 L1811.0,1150.0 L1813.0,1151.6 L1815.0,1153.2 L1817.0,1154.7 L1819.0,1156.3 L1821.0,1157.9 L1823.0,1159.4 L1825.0,1160.9 L1827.0,1162.4 L1829.0,1163.8 L1831.0,1165.2 L1833.0,1166.5 L1835.0,1167.8 L1837.0,1168.9 L1839.0,1170.0 L1841.0,1171.0 L1843.0,1171.9 L1845.0,1172.8 L1847.0,1173.5 L1849.0,1174.0 L1851.0,1174.5 L1853.0,1174.8 L1855.0,1175.0 L1857.0,1175.2 L1859.0,1175.2 L1861.0,1175.1 L1863.0,1175.0 L1865.0,1174.9 L1867.0,1174.7 L1869.0,1174.5" fill="none" stroke="#0a0a0a" stroke-width="6" stroke-linecap="round" stroke-linejoin="round"/>
<rect x="504.2" y="1157.5" width="15.5" height="15.5" fill="#ff0000" stroke="#120000" stroke-width="5"/>
<rect x="685.8" y="1122.0" width="15.5" height="15.5" fill="#ff0000" stroke="#120000" stroke-width="5"/>
<rect x="728.6" y="1104.8" width="15.5" height="15.5" fill="#ff0000" stroke="#120000" stroke-width="5"/>
<rect x="762.4" y="1087.5" width="15.5" height="15.5" fill="#ff0000" stroke="#120000" stroke-width="5"/>
<rect x="799.8" y="1065.8" width="15.5" height="15.5" fill="#ff0000" stroke="#120000" stroke-width="5"/>
<rect x="845.2" y="1040.8" width="15.5" height="15.5" fill="#ff0000" stroke="#120000" stroke-width="5"/>
<rect x="884.6" y="1021.8" width="15.5" height="15.5" fill="#ff0000" stroke="#120000" stroke-width="5"/>
<rect x="924.9" y="1005.8" width="15.5" height="15.5" fill="#ff0000" stroke="#120000" stroke-width="5"/>
<rect x="964.2" y="1001.1" width="15.5" height="15.5" fill="#ff0000" stroke="#120000" stroke-width="5"/>
<rect x="1003.2" y="1003.5" width="15.5" height="15.5" fill="#ff0000" stroke="#120000" stroke-width="5"/>
<rect x="1038.3" y="1008.8" width="15.5" height="15.5" fill="#ff0000" stroke="#120000" stroke-width="5"/>
<rect x="1075.5" y="1011.5" width="15.5" height="15.5" fill="#ff0000" stroke="#120000" stroke-width="5"/>
<rect x="1120.5" y="1004.2" width="15.5" height="15.5" fill="#ff0000" stroke="#120000" stroke-width="5"/>
<rect x="1168.2" y="981.6" width="15.5" height="15.5" fill="#ff0000" stroke="#120000" stroke-width="5"/>
<rect x="1205.2" y="946.2" width="15.5" height="15.5" fill="#ff0000" stroke="#120000" stroke-width="5"/>
<rect x="1242.8" y="901.8" width="15.5" height="15.5" fill="#ff0000" stroke="#120000" stroke-width="5"/>
<rect x="1283.8" y="834.2" width="15.5" height="15.5" fill="#ff0000" stroke="#120000" stroke-width="5"/>
<rect x="1324.0" y="733.2" width="15.5" height="15.5" fill="#ff0000" stroke="#120000" stroke-width="5"/>
<rect x="1364.5" y="631.8" width="15.5" height="15.5" fill="#ff0000" stroke="#120000" stroke-width="5"/>
<rect x="1402.2" y="510.9" width="15.5" height="15.5" fill="#ff0000" stroke="#120000" stroke-width="5"/>
<rect x="1442.8" y="365.2" width="15.5" height="15.5" fill="#ff0000" stroke="#120000" stroke-width="5"/>
<rect x="1485.2" y="219.8" width="15.5" height="15.5" fill="#ff0000" stroke="#120000" stroke-width="5"/>
<rect x="1525.2" y="126.6" width="15.5" height="15.5" fill="#ff0000" stroke="#120000" stroke-width="5"/>
<rect x="1563.8" y="140.8" width="15.5" height="15.5" fill="#ff0000" stroke="#120000" stroke-width="5"/>
<rect x="1602.2" y="289.4" width="15.5" height="15.5" fill="#ff0000" stroke="#120000" stroke-width="5"/>
<rect x="1645.2" y="552.2" width="15.5" height="15.5" fill="#ff0000" stroke="#120000" stroke-width="5"/>
<rect x="1685.8" y="829.0" width="15.5" height="15.5" fill="#ff0000" stroke="#120000" stroke-width="5"/>
<rect x="1725.2" y="1016.5" width="15.5" height="15.5" fill="#ff0000" stroke="#120000" stroke-width="5"/>
<rect x="1763.5" y="1104.2" width="15.5" height="15.5" fill="#ff0000" stroke="#120000" stroke-width="5"/>
<rect x="1803.2" y="1164.2" width="15.5" height="15.5" fill="#ff0000" stroke="#120000" stroke-width="5"/>
<rect x="1843.2" y="1166.8" width="15.5" height="15.5" fill="#ff0000" stroke="#120000" stroke-width="5"/>
<rect x="1861.2" y="1166.8" width="15.5" height="15.5" fill="#ff0000" stroke="#120000" stroke-width="5"/>
<circle cx="512.0" cy="1144.0" r="7.8" fill="#0a34a0" stroke="#04071a" stroke-width="4.5"/>
<circle cx="693.5" cy="1090.0" r="7.8" fill="#0a34a0" stroke="#04071a" stroke-width="4.5"/>
<circle cx="736.4" cy="1088.4" r="7.8" fill="#0a34a0" stroke="#04071a" stroke-width="4.5"/>
<circle cx="770.1" cy="1090.7" r="7.8" fill="#0a34a0" stroke="#04071a" stroke-width="4.5"/>
<circle cx="807.5" cy="1092.6" r="7.8" fill="#0a34a0" stroke="#04071a" stroke-width="4.5"/>
<circle cx="853.0" cy="1095.0" r="7.8" fill="#0a34a0" stroke="#04071a" stroke-width="4.5"/>
<circle cx="892.4" cy="1095.0" r="7.8" fill="#0a34a0" stroke="#04071a" stroke-width="4.5"/>
<circle cx="932.6" cy="1095.0" r="7.8" fill="#0a34a0" stroke="#04071a" stroke-width="4.5"/>
<circle cx="972.0" cy="1090.4" r="7.8" fill="#0a34a0" stroke="#04071a" stroke-width="4.5"/>
<circle cx="1011.0" cy="1077.8" r="7.8" fill="#0a34a0" stroke="#04071a" stroke-width="4.5"/>
<circle cx="1046.1" cy="1067.4" r="7.8" fill="#0a34a0" stroke="#04071a" stroke-width="4.5"/>
<circle cx="1083.3" cy="1050.2" r="7.8" fill="#0a34a0" stroke="#04071a" stroke-width="4.5"/>
<circle cx="1128.3" cy="1025.0" r="7.8" fill="#0a34a0" stroke="#04071a" stroke-width="4.5"/>
<circle cx="1176.0" cy="1002.1" r="7.8" fill="#0a34a0" stroke="#04071a" stroke-width="4.5"/>
<circle cx="1213.0" cy="974.5" r="7.8" fill="#0a34a0" stroke="#04071a" stroke-width="4.5"/>
<circle cx="1250.5" cy="936.2" r="7.8" fill="#0a34a0" stroke="#04071a" stroke-width="4.5"/>
<circle cx="1291.5" cy="880.0" r="7.8" fill="#0a34a0" stroke="#04071a" stroke-width="4.5"/>
<circle cx="1331.8" cy="802.9" r="7.8" fill="#0a34a0" stroke="#04071a" stroke-width="4.5"/>
<circle cx="1372.3" cy="717.1" r="7.8" fill="#0a34a0" stroke="#04071a" stroke-width="4.5"/>
<circle cx="1410.0" cy="612.1" r="7.8" fill="#0a34a0" stroke="#04071a" stroke-width="4.5"/>
<circle cx="1450.5" cy="480.0" r="7.8" fill="#0a34a0" stroke="#04071a" stroke-width="4.5"/>
<circle cx="1493.0" cy="322.9" r="7.8" fill="#0a34a0" stroke="#04071a" stroke-width="4.5"/>
<circle cx="1533.0" cy="175.2" r="7.8" fill="#0a34a0" stroke="#04071a" stroke-width="4.5"/>
<circle cx="1571.6" cy="92.4" r="7.8" fill="#0a34a0" stroke="#04071a" stroke-width="4.5"/>
<circle cx="1610.0" cy="116.2" r="7.8" fill="#0a34a0" stroke="#04071a" stroke-width="4.5"/>
<circle cx="1653.0" cy="305.7" r="7.8" fill="#0a34a0" stroke="#04071a" stroke-width="4.5"/>
<circle cx="1693.5" cy="632.4" r="7.8" fill="#0a34a0" stroke="#04071a" stroke-width="4.5"/>
<circle cx="1733.0" cy="950.0" r="7.8" fill="#0a34a0" stroke="#04071a" stroke-width="4.5"/>
<circle cx="1771.3" cy="1100.0" r="7.8" fill="#0a34a0" stroke="#04071a" stroke-width="4.5"/>
<circle cx="1811.0" cy="1174.5" r="7.8" fill="#0a34a0" stroke="#04071a" stroke-width="4.5"/>
<circle cx="1851.0" cy="1174.5" r="7.8" fill="#0a34a0" stroke="#04071a" stroke-width="4.5"/>
<circle cx="1869.0" cy="1174.5" r="7.8" fill="#0a34a0" stroke="#04071a" stroke-width="4.5"/>
<polygon points="512.0,1135.8 522.2,1154.2 501.8,1154.2" fill="#000" stroke="#000" stroke-width="2" stroke-linejoin="round"/>
<polygon points="693.5,1077.0 703.8,1095.5 683.2,1095.5" fill="#000" stroke="#000" stroke-width="2" stroke-linejoin="round"/>
<polygon points="736.4,1072.5 746.6,1091.0 726.1,1091.0" fill="#000" stroke="#000" stroke-width="2" stroke-linejoin="round"/>
<polygon points="770.1,1069.0 780.4,1087.5 759.9,1087.5" fill="#000" stroke="#000" stroke-width="2" stroke-linejoin="round"/>
<polygon points="807.5,1065.8 817.8,1084.2 797.2,1084.2" fill="#000" stroke="#000" stroke-width="2" stroke-linejoin="round"/>
<polygon points="853.0,1064.0 863.2,1082.5 842.8,1082.5" fill="#000" stroke="#000" stroke-width="2" stroke-linejoin="round"/>
<polygon points="892.4,1063.0 902.6,1081.5 882.1,1081.5" fill="#000" stroke="#000" stroke-width="2" stroke-linejoin="round"/>
<polygon points="932.6,1064.0 942.9,1082.5 922.4,1082.5" fill="#000" stroke="#000" stroke-width="2" stroke-linejoin="round"/>
<polygon points="972.0,1056.0 982.2,1074.5 961.8,1074.5" fill="#000" stroke="#000" stroke-width="2" stroke-linejoin="round"/>
<polygon points="1011.0,1049.2 1021.2,1067.7 1000.8,1067.7" fill="#000" stroke="#000" stroke-width="2" stroke-linejoin="round"/>
<polygon points="1046.1,1038.8 1056.3,1057.3 1035.8,1057.3" fill="#000" stroke="#000" stroke-width="2" stroke-linejoin="round"/>
<polygon points="1083.3,1022.8 1093.5,1041.2 1073.0,1041.2" fill="#000" stroke="#000" stroke-width="2" stroke-linejoin="round"/>
<polygon points="1128.3,999.9 1138.5,1018.4 1118.0,1018.4" fill="#000" stroke="#000" stroke-width="2" stroke-linejoin="round"/>
<polygon points="1176.0,965.5 1186.2,984.0 1165.8,984.0" fill="#000" stroke="#000" stroke-width="2" stroke-linejoin="round"/>
<polygon points="1213.0,931.0 1223.2,949.5 1202.8,949.5" fill="#000" stroke="#000" stroke-width="2" stroke-linejoin="round"/>
<polygon points="1250.5,886.9 1260.8,905.4 1240.2,905.4" fill="#000" stroke="#000" stroke-width="2" stroke-linejoin="round"/>
<polygon points="1291.5,824.0 1301.8,842.5 1281.2,842.5" fill="#000" stroke="#000" stroke-width="2" stroke-linejoin="round"/>
<polygon points="1331.8,732.6 1342.0,751.1 1321.5,751.1" fill="#000" stroke="#000" stroke-width="2" stroke-linejoin="round"/>
<polygon points="1372.3,644.0 1382.5,662.5 1362.0,662.5" fill="#000" stroke="#000" stroke-width="2" stroke-linejoin="round"/>
<polygon points="1410.0,545.5 1420.2,564.0 1399.8,564.0" fill="#000" stroke="#000" stroke-width="2" stroke-linejoin="round"/>
<polygon points="1450.5,436.8 1460.8,455.2 1440.2,455.2" fill="#000" stroke="#000" stroke-width="2" stroke-linejoin="round"/>
<polygon points="1493.0,327.9 1503.2,346.4 1482.8,346.4" fill="#000" stroke="#000" stroke-width="2" stroke-linejoin="round"/>
<polygon points="1533.0,240.2 1543.2,258.8 1522.8,258.8" fill="#000" stroke="#000" stroke-width="2" stroke-linejoin="round"/>
<polygon points="1571.6,207.8 1581.8,226.3 1561.3,226.3" fill="#000" stroke="#000" stroke-width="2" stroke-linejoin="round"/>
<polygon points="1610.0,271.6 1620.2,290.1 1599.8,290.1" fill="#000" stroke="#000" stroke-width="2" stroke-linejoin="round"/>
<polygon points="1653.0,439.2 1663.2,457.8 1642.8,457.8" fill="#000" stroke="#000" stroke-width="2" stroke-linejoin="round"/>
<polygon points="1693.5,694.5 1703.8,713.0 1683.2,713.0" fill="#000" stroke="#000" stroke-width="2" stroke-linejoin="round"/>
<polygon points="1733.0,939.8 1743.2,958.2 1722.8,958.2" fill="#000" stroke="#000" stroke-width="2" stroke-linejoin="round"/>
<polygon points="1771.3,1088.3 1781.5,1106.8 1761.0,1106.8" fill="#000" stroke="#000" stroke-width="2" stroke-linejoin="round"/>
<polygon points="1811.0,1139.8 1821.2,1158.2 1800.8,1158.2" fill="#000" stroke="#000" stroke-width="2" stroke-linejoin="round"/>
<polygon points="1851.0,1164.2 1861.2,1182.8 1840.8,1182.8" fill="#000" stroke="#000" stroke-width="2" stroke-linejoin="round"/>
<polygon points="1869.0,1164.2 1879.2,1182.8 1858.8,1182.8" fill="#000" stroke="#000" stroke-width="2" stroke-linejoin="round"/>
<rect x="1841.5" y="1164.5" width="19" height="20" rx="3" fill="#050505"/>
<rect x="1859.5" y="1164.5" width="19" height="20" rx="3" fill="#050505"/>
<path d="M553.0,2245.4 L555.0,2244.6 L557.1,2243.8 L559.1,2243.1 L561.1,2242.3 L563.2,2241.5 L565.2,2240.7 L567.2,2240.0 L569.3,2239.2 L571.3,2238.4 L573.3,2237.6 L575.4,2236.8 L577.4,2236.0 L579.4,2235.3 L581.5,2234.5 L583.5,2233.7 L585.5,2232.9 L587.6,2232.1 L589.6,2231.3 L591.6,2230.6 L593.7,2229.8 L595.7,2229.0 L597.7,2228.2 L599.8,2227.4 L601.8,2226.6 L603.8,2225.8 L605.9,2225.0 L607.9,2224.2 L609.9,2223.4 L612.0,2222.6 L614.0,2221.8 L616.0,2221.0 L618.1,2220.2 L620.1,2219.4 L622.1,2218.6 L624.2,2217.8 L626.2,2217.0 L628.2,2216.2 L630.3,2215.4 L632.3,2214.6 L634.4,2213.7 L636.4,2212.9 L638.4,2212.1 L640.5,2211.3 L642.5,2210.4 L644.6,2209.6 L646.6,2208.8 L648.6,2207.9 L650.7,2207.1 L652.7,2206.2 L654.8,2205.4 L656.8,2204.5 L658.8,2203.7 L660.9,2202.8 L662.9,2201.9 L665.0,2201.1 L667.0,2200.2 L669.0,2199.3 L671.1,2198.4 L673.1,2197.5 L675.1,2196.6 L677.2,2195.7 L679.2,2194.8 L681.3,2193.9 L683.3,2193.0 L685.3,2192.0 L687.4,2191.1 L689.4,2190.2 L691.5,2189.2 L693.5,2188.3 L695.5,2187.3 L697.6,2186.3 L699.6,2185.4 L701.7,2184.4 L703.7,2183.4 L705.7,2182.4 L707.8,2181.4 L709.8,2180.4 L711.8,2179.4 L713.9,2178.4 L715.9,2177.4 L717.9,2176.4 L720.0,2175.5 L722.0,2174.5 L724.0,2173.5 L726.1,2172.6 L728.1,2171.7 L730.1,2170.8 L732.1,2170.0 L734.2,2169.1 L736.2,2168.3 L738.2,2167.5 L740.3,2166.8 L742.3,2166.1 L744.3,2165.4 L746.4,2164.8 L748.4,2164.2 L750.4,2163.7 L752.5,2163.2 L754.5,2162.8 L756.5,2162.4 L758.5,2162.1 L760.5,2161.9 L762.5,2161.6 L764.5,2161.5 L766.5,2161.3 L768.5,2161.3 L770.5,2161.2 L772.5,2161.2 L774.5,2161.3 L776.5,2161.3 L778.5,2161.5 L780.5,2161.6 L782.5,2161.8 L784.5,2162.0 L786.5,2162.2 L788.5,2162.5 L790.5,2162.8 L792.5,2163.1 L794.5,2163.5 L796.5,2163.9 L798.5,2164.3 L800.5,2164.7 L802.5,2165.1 L804.5,2165.6 L806.5,2166.0 L808.6,2166.5 L810.6,2167.0 L812.6,2167.5 L814.6,2168.1 L816.7,2168.6 L818.7,2169.2 L820.7,2169.8 L822.8,2170.4 L824.8,2171.1 L826.8,2171.7 L828.8,2172.4 L830.9,2173.1 L832.9,2173.9 L834.9,2174.6 L836.9,2175.4 L839.0,2176.2 L841.0,2177.0 L843.0,2177.8 L845.1,2178.7 L847.2,2179.6 L849.2,2180.5 L851.3,2181.5 L853.4,2182.4 L855.5,2183.5 L857.6,2184.5 L859.6,2185.5 L861.7,2186.6 L863.8,2187.7 L865.9,2188.8 L867.9,2189.9 L870.0,2191.1 L872.1,2192.3 L874.2,2193.5 L876.3,2194.7 L878.3,2195.9 L880.4,2197.2 L882.5,2198.5 L884.5,2199.8 L886.6,2201.1 L888.6,2202.4 L890.7,2203.7 L892.7,2205.1 L894.7,2206.5 L896.8,2207.9 L898.8,2209.3 L900.9,2210.7 L902.9,2212.1 L904.9,2213.6 L907.0,2215.0 L909.0,2216.5 L911.1,2218.0 L913.1,2219.5 L915.1,2221.1 L917.2,2222.6 L919.2,2224.1 L921.3,2225.7 L923.3,2227.3 L925.3,2228.9 L927.4,2230.5 L929.4,2232.1 L931.5,2233.7 L933.5,2235.3 L935.5,2236.9 L937.5,2238.5 L939.6,2240.2 L941.6,2241.8 L943.6,2243.5 L945.6,2245.1 L947.7,2246.7 L949.7,2248.4 L951.7,2250.0 L953.7,2251.7 L955.8,2253.3 L957.8,2255.0 L959.8,2256.6 L961.8,2258.2 L963.8,2259.9 L965.9,2261.5 L967.9,2263.1 L969.9,2264.7 L971.9,2266.2 L974.0,2267.8 L976.0,2269.4 L978.0,2270.9 L980.0,2272.4 L982.1,2274.0 L984.1,2275.5 L986.2,2276.9 L988.2,2278.4 L990.3,2279.9 L992.3,2281.3 L994.3,2282.7 L996.4,2284.1 L998.4,2285.5 L1000.5,2286.9 L1002.5,2288.2 L1004.6,2289.5 L1006.6,2290.8 L1008.7,2292.1 L1010.7,2293.4 L1012.7,2294.7 L1014.8,2295.9 L1016.8,2297.1 L1018.9,2298.3 L1020.9,2299.5 L1023.0,2300.7 L1025.0,2301.8 L1027.0,2302.9 L1029.1,2304.0 L1031.1,2305.1 L1033.1,2306.1 L1035.1,2307.2 L1037.2,2308.2 L1039.2,2309.2 L1041.2,2310.1 L1043.3,2311.1 L1045.3,2312.0 L1047.3,2312.9 L1049.3,2313.8 L1051.4,2314.6 L1053.4,2315.4 L1055.4,2316.2 L1057.5,2316.9 L1059.5,2317.6 L1061.5,2318.3 L1063.5,2319.0 L1065.6,2319.6 L1067.6,2320.2 L1069.6,2320.8 L1071.6,2321.3 L1073.7,2321.7 L1075.7,2322.2 L1077.7,2322.6 L1079.7,2322.9 L1081.7,2323.2 L1083.8,2323.4 L1085.8,2323.6 L1087.8,2323.7 L1089.8,2323.8 L1091.8,2323.8 L1093.8,2323.7 L1095.9,2323.5 L1097.9,2323.3 L1099.9,2323.0 L1101.9,2322.6 L1103.9,2322.2 L1106.0,2321.6 L1108.0,2320.9 L1110.0,2320.2 L1112.0,2319.4 L1114.0,2318.5 L1116.0,2317.4 L1118.0,2316.4 L1120.0,2315.2 L1122.0,2314.0 L1124.0,2312.7 L1126.0,2311.3 L1128.0,2309.9 L1130.0,2308.4 L1132.0,2306.9 L1134.0,2305.4 L1136.0,2303.8 L1138.0,2302.2 L1140.0,2300.5 L1142.0,2298.8 L1144.0,2297.1 L1146.0,2295.4 L1148.0,2293.7 L1150.0,2292.0 L1152.0,2290.3 L1154.1,2288.5 L1156.1,2286.8 L1158.1,2285.0 L1160.1,2283.3 L1162.2,2281.5 L1164.2,2279.7 L1166.2,2277.9 L1168.3,2276.1 L1170.3,2274.3 L1172.3,2272.4 L1174.3,2270.6 L1176.4,2268.7 L1178.4,2266.8 L1180.4,2264.8 L1182.5,2262.9 L1184.5,2260.9 L1186.5,2258.8 L1188.5,2256.7 L1190.6,2254.6 L1192.6,2252.5 L1194.6,2250.3 L1196.6,2248.2 L1198.6,2245.9 L1200.6,2243.7 L1202.6,2241.4 L1204.6,2239.0 L1206.6,2236.7 L1208.6,2234.3 L1210.6,2231.9 L1212.6,2229.4 L1214.6,2227.0 L1216.6,2224.5 L1218.6,2222.0 L1220.6,2219.4 L1222.6,2216.9 L1224.6,2214.3 L1226.6,2211.7 L1228.6,2209.1 L1230.6,2206.5 L1232.6,2203.9 L1234.6,2201.2 L1236.6,2198.6 L1238.6,2196.0 L1240.6,2193.3 L1242.6,2190.7 L1244.6,2188.0 L1246.6,2185.3 L1248.6,2182.7 L1250.6,2180.0 L1252.6,2177.3 L1254.6,2174.7 L1256.6,2172.0 L1258.7,2169.4 L1260.7,2166.7 L1262.7,2164.1 L1264.7,2161.5 L1266.7,2158.9 L1268.7,2156.3 L1270.7,2153.7 L1272.7,2151.2 L1274.7,2148.6 L1276.7,2146.1 L1278.7,2143.6 L1280.7,2141.1 L1282.8,2138.7 L1284.8,2136.2 L1286.8,2133.8 L1288.8,2131.4 L1290.8,2129.0 L1292.8,2126.7 L1294.8,2124.4 L1296.8,2122.1 L1298.8,2119.9 L1300.8,2117.7 L1302.8,2115.5 L1304.8,2113.3 L1306.8,2111.1 L1308.8,2109.0 L1310.8,2106.8 L1312.8,2104.7 L1314.8,2102.5 L1316.8,2100.4 L1318.8,2098.2 L1320.8,2096.0 L1322.8,2093.8 L1324.8,2091.6 L1326.8,2089.4 L1328.8,2087.1 L1330.8,2084.8 L1332.8,2082.5 L1334.8,2080.1 L1336.8,2077.7 L1338.8,2075.3 L1340.8,2072.8 L1342.9,2070.2 L1344.9,2067.6 L1346.9,2064.9 L1349.0,2062.2 L1351.0,2059.4 L1353.0,2056.6 L1355.1,2053.7 L1357.1,2050.8 L1359.1,2047.9 L1361.2,2044.9 L1363.2,2041.9 L1365.2,2038.8 L1367.3,2035.7 L1369.3,2032.5 L1371.3,2029.3 L1373.4,2026.1 L1375.4,2022.8 L1377.4,2019.5 L1379.5,2016.2 L1381.5,2012.8 L1383.5,2009.4 L1385.5,2006.0 L1387.5,2002.6 L1389.5,1999.1 L1391.5,1995.6 L1393.5,1992.0 L1395.5,1988.4 L1397.5,1984.7 L1399.5,1980.9 L1401.5,1977.1 L1403.5,1973.3 L1405.5,1969.3 L1407.5,1965.3 L1409.5,1961.3 L1411.5,1957.1 L1413.5,1952.9 L1415.5,1948.6 L1417.5,1944.2 L1419.5,1939.7 L1421.5,1935.2 L1423.5,1930.5 L1425.5,1925.8 L1427.5,1920.9 L1429.6,1915.8 L1431.6,1910.7 L1433.7,1905.5 L1435.7,1900.1 L1437.8,1894.7 L1439.8,1889.2 L1441.8,1883.5 L1443.9,1877.8 L1445.9,1872.0 L1448.0,1866.1 L1450.0,1860.1 L1452.1,1854.0 L1454.1,1847.8 L1456.2,1841.5 L1458.2,1835.2 L1460.2,1828.7 L1462.3,1822.2 L1464.3,1815.5 L1466.4,1808.8 L1468.4,1802.0 L1470.5,1795.1 L1472.5,1788.1 L1474.5,1781.1 L1476.5,1774.0 L1478.6,1766.8 L1480.6,1759.6 L1482.6,1752.3 L1484.6,1744.8 L1486.7,1737.3 L1488.7,1729.8 L1490.7,1722.1 L1492.7,1714.4 L1494.8,1706.6 L1496.8,1698.8 L1498.8,1690.8 L1500.8,1682.8 L1502.8,1674.7 L1504.9,1666.6 L1506.9,1658.4 L1508.9,1650.1 L1510.9,1641.7 L1513.0,1633.3 L1515.0,1624.8 L1517.0,1616.3 L1519.0,1607.8 L1521.0,1599.2 L1523.0,1590.7 L1525.0,1582.0 L1527.0,1573.4 L1529.0,1564.7 L1531.0,1556.0 L1533.0,1547.4 L1535.0,1538.7 L1537.0,1530.1 L1539.0,1521.5 L1541.0,1512.9 L1543.0,1504.4 L1545.0,1496.0 L1547.0,1487.6 L1549.0,1479.3 L1551.0,1471.1 L1553.0,1463.0 L1555.0,1455.0 L1557.0,1447.1 L1559.0,1439.3 L1561.0,1431.5 L1563.1,1423.8 L1565.1,1416.3 L1567.2,1409.0 L1569.2,1401.9 L1571.3,1395.0 L1573.3,1388.3 L1575.4,1381.9 L1577.4,1375.7 L1579.5,1369.8 L1581.5,1364.2 L1583.5,1358.9 L1585.6,1353.9 L1587.6,1349.3 L1589.7,1344.9 L1591.7,1341.0 L1593.8,1337.4 L1595.8,1334.2 L1597.9,1331.4 L1599.9,1329.0 L1602.0,1327.1 L1604.0,1325.6 L1606.0,1324.6 L1608.0,1324.0 L1610.0,1323.9 L1612.0,1324.3 L1614.0,1325.1 L1616.0,1326.5 L1618.0,1328.3 L1620.0,1330.6 L1622.0,1333.4 L1624.0,1336.7 L1626.0,1340.6 L1628.0,1344.9 L1630.0,1349.8 L1632.0,1355.3 L1634.0,1361.3 L1636.0,1367.8 L1638.0,1375.0 L1640.0,1382.7 L1642.0,1390.9 L1644.0,1399.8 L1646.0,1409.3 L1648.0,1419.3 L1650.0,1430.0 L1652.0,1441.4 L1654.0,1453.4 L1656.1,1466.0 L1658.1,1479.2 L1660.1,1492.9 L1662.1,1507.2 L1664.2,1521.9 L1666.2,1537.1 L1668.2,1552.8 L1670.2,1568.9 L1672.2,1585.4 L1674.3,1602.2 L1676.3,1619.5 L1678.3,1637.0 L1680.3,1654.9 L1682.3,1673.1 L1684.4,1691.6 L1686.4,1710.3 L1688.4,1729.2 L1690.4,1748.3 L1692.5,1767.6 L1694.5,1787.1 L1696.5,1806.7 L1698.6,1826.9 L1700.6,1847.1 L1702.7,1867.4 L1704.8,1887.7 L1706.8,1908.0 L1708.9,1928.3 L1711.0,1948.5 L1713.0,1968.6 L1715.1,1988.5 L1717.2,2008.3 L1719.2,2027.8 L1721.3,2047.1 L1723.4,2066.2 L1725.5,2084.9 L1727.5,2103.3 L1729.6,2121.3 L1731.7,2139.0 L1733.7,2156.2 L1735.8,2172.9 L1737.9,2189.2 L1739.9,2204.9 L1742.0,2220.0 L1744.1,2234.5 L1746.1,2248.4 L1748.2,2261.8 L1750.2,2274.6 L1752.3,2286.8 L1754.4,2298.6 L1756.4,2309.9 L1758.5,2320.6 L1760.5,2330.9 L1762.6,2340.7 L1764.7,2350.1 L1766.7,2359.0 L1768.8,2367.5 L1770.8,2375.6 L1772.9,2383.4 L1774.9,2390.7 L1777.0,2397.7 L1779.1,2404.3 L1781.1,2410.6 L1783.2,2416.6 L1785.2,2422.2 L1787.3,2427.6 L1789.3,2432.6 L1791.4,2437.4 L1793.4,2441.9 L1795.4,2446.1 L1797.5,2450.1 L1799.5,2453.9 L1801.5,2457.4 L1803.5,2460.8 L1805.6,2463.9 L1807.6,2466.7 L1809.6,2469.4 L1811.7,2471.9 L1813.7,2474.2 L1815.7,2476.4 L1817.8,2478.3 L1819.8,2480.1 L1821.8,2481.7 L1823.8,2483.2 L1825.9,2484.5 L1827.9,2485.6 L1829.9,2486.7 L1832.0,2487.6 L1834.0,2488.4 L1836.0,2489.1 L1838.1,2489.7 L1840.1,2490.1 L1842.2,2490.5 L1844.2,2490.8 L1846.3,2491.0 L1848.3,2491.2 L1850.4,2491.2 L1852.4,2491.3 L1854.5,2491.2 L1856.5,2491.1 L1858.5,2491.0 L1860.6,2490.8 L1862.6,2490.7 L1864.7,2490.4 L1866.7,2490.2 L1868.8,2490.0 L1870.8,2489.8 L1872.9,2489.5 L1874.9,2489.3 L1877.0,2489.2 L1879.0,2489.0 L1881.0,2488.9 L1883.0,2488.8 L1885.0,2488.7 L1887.0,2488.7 L1889.0,2488.7 L1891.0,2488.7 L1893.0,2488.7 L1895.0,2488.8 L1897.0,2488.8 L1899.0,2488.9 L1901.0,2489.0 L1903.0,2489.1 L1905.0,2489.2 L1907.0,2489.3 L1909.0,2489.4 L1911.0,2489.5 L1913.0,2489.6 L1915.0,2489.7 L1917.0,2489.8 L1919.0,2489.9 L1921.0,2490.0 L1923.0,2490.1 L1925.0,2490.1 L1927.0,2490.2 L1929.0,2490.2 L1931.0,2490.2 L1933.0,2490.2 L1935.0,2490.2 L1937.0,2490.2 L1939.0,2490.2 L1941.0,2490.2 L1943.0,2490.2 L1945.0,2490.2 L1947.0,2490.2 L1949.0,2490.1 L1951.0,2490.1 L1953.0,2490.1 L1955.0,2490.1 L1957.0,2490.1 L1959.0,2490.0 L1961.0,2490.0 L1963.0,2490.0 L1965.0,2490.0 L1967.0,2490.0 L1969.0,2490.0 L1971.0,2490.0 L1973.0,2490.0 L1975.0,2490.1 L1977.0,2490.1 L1979.0,2490.1 L1981.0,2490.1 L1983.0,2490.2 L1985.0,2490.2 L1987.0,2490.3 L1989.0,2490.3 L1991.0,2490.4 L1993.0,2490.4 L1995.0,2490.5 L1997.0,2490.5 L1999.0,2490.6 L2001.0,2490.6 L2003.0,2490.7 L2005.0,2490.8 L2007.0,2490.8 L2009.0,2490.9 L2011.0,2490.9 L2013.0,2491.0 L2015.0,2491.1 L2017.0,2491.1 L2019.0,2491.2 L2021.0,2491.2 L2023.0,2491.3 L2025.0,2491.3 L2027.0,2491.4 L2029.0,2491.4 L2031.0,2491.5 L2033.0,2491.5 L2035.0,2491.6 L2037.0,2491.6 L2039.0,2491.7 L2041.0,2491.7 L2043.0,2491.8 L2045.0,2491.8 L2047.0,2491.8 L2049.0,2491.9 L2051.0,2491.9 L2053.0,2491.9 L2055.0,2491.9 L2057.0,2492.0 L2059.0,2492.0 L2061.0,2492.0 L2063.0,2492.0 L2065.1,2492.0 L2067.2,2492.0 L2069.4,2492.0 L2071.5,2492.0 L2073.6,2492.0 L2075.8,2492.0 L2077.9,2492.0 L2080.0,2492.0" fill="none" stroke="#ff0000" stroke-width="7.5" stroke-linecap="round" stroke-linejoin="round"/>
<path d="M553.0,2137.6 L555.0,2136.5 L557.1,2135.5 L559.1,2134.4 L561.1,2133.3 L563.2,2132.2 L565.2,2131.2 L567.2,2130.1 L569.3,2129.0 L571.3,2128.0 L573.3,2126.9 L575.4,2125.8 L577.4,2124.8 L579.4,2123.7 L581.5,2122.6 L583.5,2121.6 L585.5,2120.5 L587.6,2119.5 L589.6,2118.4 L591.6,2117.3 L593.7,2116.3 L595.7,2115.2 L597.7,2114.2 L599.8,2113.1 L601.8,2112.1 L603.8,2111.0 L605.9,2110.0 L607.9,2108.9 L609.9,2107.9 L612.0,2106.8 L614.0,2105.8 L616.0,2104.8 L618.1,2103.7 L620.1,2102.7 L622.1,2101.7 L624.2,2100.6 L626.2,2099.6 L628.2,2098.6 L630.3,2097.5 L632.3,2096.5 L634.4,2095.5 L636.4,2094.5 L638.4,2093.5 L640.5,2092.4 L642.5,2091.4 L644.6,2090.4 L646.6,2089.4 L648.6,2088.4 L650.7,2087.4 L652.7,2086.4 L654.8,2085.4 L656.8,2084.4 L658.8,2083.4 L660.9,2082.3 L662.9,2081.3 L665.0,2080.3 L667.0,2079.3 L669.0,2078.3 L671.1,2077.3 L673.1,2076.3 L675.1,2075.3 L677.2,2074.3 L679.2,2073.2 L681.3,2072.2 L683.3,2071.2 L685.3,2070.2 L687.4,2069.2 L689.4,2068.1 L691.5,2067.1 L693.5,2066.1 L695.5,2065.1 L697.6,2064.0 L699.6,2063.0 L701.7,2061.9 L703.7,2060.9 L705.7,2059.9 L707.8,2058.8 L709.8,2057.8 L711.8,2056.7 L713.9,2055.7 L715.9,2054.7 L717.9,2053.7 L720.0,2052.7 L722.0,2051.7 L724.0,2050.8 L726.1,2049.9 L728.1,2049.0 L730.1,2048.1 L732.1,2047.3 L734.2,2046.5 L736.2,2045.8 L738.2,2045.1 L740.3,2044.4 L742.3,2043.8 L744.3,2043.2 L746.4,2042.7 L748.4,2042.3 L750.4,2041.9 L752.5,2041.6 L754.5,2041.3 L756.5,2041.1 L758.5,2041.0 L760.5,2040.9 L762.5,2040.9 L764.5,2041.0 L766.5,2041.1 L768.5,2041.3 L770.5,2041.5 L772.5,2041.8 L774.5,2042.1 L776.5,2042.5 L778.5,2042.9 L780.5,2043.4 L782.5,2044.0 L784.5,2044.5 L786.5,2045.2 L788.5,2045.8 L790.5,2046.5 L792.5,2047.3 L794.5,2048.1 L796.5,2048.9 L798.5,2049.8 L800.5,2050.7 L802.5,2051.6 L804.5,2052.6 L806.5,2053.6 L808.6,2054.6 L810.6,2055.7 L812.6,2056.8 L814.6,2058.0 L816.7,2059.2 L818.7,2060.5 L820.7,2061.8 L822.8,2063.2 L824.8,2064.6 L826.8,2066.1 L828.8,2067.6 L830.9,2069.2 L832.9,2070.9 L834.9,2072.6 L836.9,2074.4 L839.0,2076.3 L841.0,2078.3 L843.0,2080.3 L845.1,2082.5 L847.2,2084.7 L849.2,2087.0 L851.3,2089.4 L853.4,2091.8 L855.5,2094.3 L857.6,2096.8 L859.6,2099.3 L861.7,2101.9 L863.8,2104.5 L865.9,2107.1 L867.9,2109.7 L870.0,2112.3 L872.1,2114.9 L874.2,2117.5 L876.3,2120.0 L878.3,2122.6 L880.4,2125.1 L882.5,2127.5 L884.5,2129.9 L886.6,2132.2 L888.6,2134.4 L890.7,2136.6 L892.7,2138.8 L894.7,2141.0 L896.8,2143.2 L898.8,2145.3 L900.9,2147.4 L902.9,2149.5 L904.9,2151.6 L907.0,2153.7 L909.0,2155.8 L911.1,2157.9 L913.1,2160.0 L915.1,2162.1 L917.2,2164.2 L919.2,2166.4 L921.3,2168.6 L923.3,2170.8 L925.3,2173.1 L927.4,2175.4 L929.4,2177.7 L931.5,2180.1 L933.5,2182.6 L935.5,2185.1 L937.5,2187.6 L939.6,2190.2 L941.6,2192.8 L943.6,2195.5 L945.6,2198.2 L947.7,2200.9 L949.7,2203.6 L951.7,2206.3 L953.7,2209.1 L955.8,2211.8 L957.8,2214.5 L959.8,2217.2 L961.8,2219.9 L963.8,2222.6 L965.9,2225.2 L967.9,2227.8 L969.9,2230.3 L971.9,2232.8 L974.0,2235.2 L976.0,2237.6 L978.0,2239.9 L980.0,2242.1 L982.1,2244.3 L984.1,2246.4 L986.2,2248.4 L988.2,2250.4 L990.3,2252.3 L992.3,2254.2 L994.3,2256.0 L996.4,2257.7 L998.4,2259.4 L1000.5,2261.1 L1002.5,2262.7 L1004.6,2264.3 L1006.6,2265.9 L1008.7,2267.4 L1010.7,2268.9 L1012.7,2270.3 L1014.8,2271.8 L1016.8,2273.2 L1018.9,2274.7 L1020.9,2276.1 L1023.0,2277.5 L1025.0,2278.9 L1027.0,2280.3 L1029.1,2281.7 L1031.1,2283.1 L1033.1,2284.5 L1035.1,2285.8 L1037.2,2287.2 L1039.2,2288.5 L1041.2,2289.8 L1043.3,2291.1 L1045.3,2292.4 L1047.3,2293.6 L1049.3,2294.7 L1051.4,2295.9 L1053.4,2297.0 L1055.4,2298.0 L1057.5,2299.0 L1059.5,2299.9 L1061.5,2300.8 L1063.5,2301.6 L1065.6,2302.3 L1067.6,2303.0 L1069.6,2303.6 L1071.6,2304.1 L1073.7,2304.6 L1075.7,2305.0 L1077.7,2305.3 L1079.7,2305.6 L1081.7,2305.8 L1083.8,2306.0 L1085.8,2306.1 L1087.8,2306.2 L1089.8,2306.2 L1091.8,2306.2 L1093.8,2306.2 L1095.9,2306.2 L1097.9,2306.1 L1099.9,2306.0 L1101.9,2305.9 L1103.9,2305.7 L1106.0,2305.6 L1108.0,2305.5 L1110.0,2305.3 L1112.0,2305.1 L1114.0,2305.0 L1116.0,2304.8 L1118.0,2304.6 L1120.0,2304.5 L1122.0,2304.2 L1124.0,2304.0 L1126.0,2303.7 L1128.0,2303.5 L1130.0,2303.1 L1132.0,2302.8 L1134.0,2302.4 L1136.0,2301.9 L1138.0,2301.4 L1140.0,2300.9 L1142.0,2300.3 L1144.0,2299.6 L1146.0,2298.9 L1148.0,2298.1 L1150.0,2297.2 L1152.0,2296.2 L1154.1,2295.2 L1156.1,2294.1 L1158.1,2293.0 L1160.1,2291.7 L1162.2,2290.5 L1164.2,2289.1 L1166.2,2287.8 L1168.3,2286.3 L1170.3,2284.9 L1172.3,2283.4 L1174.3,2281.9 L1176.4,2280.3 L1178.4,2278.7 L1180.4,2277.1 L1182.5,2275.5 L1184.5,2273.9 L1186.5,2272.3 L1188.5,2270.6 L1190.6,2269.0 L1192.6,2267.4 L1194.6,2265.8 L1196.6,2264.2 L1198.6,2262.7 L1200.6,2261.1 L1202.6,2259.6 L1204.6,2258.1 L1206.6,2256.6 L1208.6,2255.1 L1210.6,2253.6 L1212.6,2252.1 L1214.6,2250.7 L1216.6,2249.3 L1218.6,2247.9 L1220.6,2246.5 L1222.6,2245.2 L1224.6,2243.8 L1226.6,2242.5 L1228.6,2241.2 L1230.6,2240.0 L1232.6,2238.8 L1234.6,2237.6 L1236.6,2236.4 L1238.6,2235.2 L1240.6,2234.1 L1242.6,2233.0 L1244.6,2232.0 L1246.6,2231.0 L1248.6,2230.0 L1250.6,2229.0 L1252.6,2228.1 L1254.6,2227.2 L1256.6,2226.3 L1258.7,2225.5 L1260.7,2224.6 L1262.7,2223.8 L1264.7,2223.0 L1266.7,2222.3 L1268.7,2221.5 L1270.7,2220.8 L1272.7,2220.0 L1274.7,2219.3 L1276.7,2218.6 L1278.7,2217.9 L1280.7,2217.2 L1282.8,2216.5 L1284.8,2215.9 L1286.8,2215.2 L1288.8,2214.5 L1290.8,2213.9 L1292.8,2213.2 L1294.8,2212.5 L1296.8,2211.8 L1298.8,2211.1 L1300.8,2210.4 L1302.8,2209.7 L1304.8,2209.0 L1306.8,2208.2 L1308.8,2207.4 L1310.8,2206.6 L1312.8,2205.8 L1314.8,2204.9 L1316.8,2204.0 L1318.8,2203.0 L1320.8,2202.0 L1322.8,2200.9 L1324.8,2199.8 L1326.8,2198.6 L1328.8,2197.3 L1330.8,2196.0 L1332.8,2194.6 L1334.8,2193.2 L1336.8,2191.6 L1338.8,2190.0 L1340.8,2188.3 L1342.9,2186.4 L1344.9,2184.5 L1346.9,2182.5 L1349.0,2180.4 L1351.0,2178.3 L1353.0,2176.0 L1355.1,2173.7 L1357.1,2171.3 L1359.1,2168.8 L1361.2,2166.3 L1363.2,2163.6 L1365.2,2160.9 L1367.3,2158.1 L1369.3,2155.3 L1371.3,2152.4 L1373.4,2149.4 L1375.4,2146.3 L1377.4,2143.2 L1379.5,2140.0 L1381.5,2136.7 L1383.5,2133.4 L1385.5,2130.1 L1387.5,2126.7 L1389.5,2123.2 L1391.5,2119.7 L1393.5,2116.1 L1395.5,2112.4 L1397.5,2108.6 L1399.5,2104.8 L1401.5,2100.9 L1403.5,2096.9 L1405.5,2092.9 L1407.5,2088.7 L1409.5,2084.5 L1411.5,2080.2 L1413.5,2075.8 L1415.5,2071.3 L1417.5,2066.8 L1419.5,2062.1 L1421.5,2057.4 L1423.5,2052.5 L1425.5,2047.6 L1427.5,2042.5 L1429.6,2037.2 L1431.6,2031.9 L1433.7,2026.5 L1435.7,2020.9 L1437.8,2015.3 L1439.8,2009.6 L1441.8,2003.8 L1443.9,1997.9 L1445.9,1992.0 L1448.0,1985.9 L1450.0,1979.8 L1452.1,1973.6 L1454.1,1967.3 L1456.2,1960.9 L1458.2,1954.4 L1460.2,1947.9 L1462.3,1941.3 L1464.3,1934.6 L1466.4,1927.9 L1468.4,1921.1 L1470.5,1914.2 L1472.5,1907.3 L1474.5,1900.4 L1476.5,1893.4 L1478.6,1886.3 L1480.6,1879.2 L1482.6,1872.1 L1484.6,1864.9 L1486.7,1857.6 L1488.7,1850.3 L1490.7,1842.9 L1492.7,1835.5 L1494.8,1828.0 L1496.8,1820.5 L1498.8,1812.9 L1500.8,1805.3 L1502.8,1797.6 L1504.9,1789.9 L1506.9,1782.2 L1508.9,1774.4 L1510.9,1766.6 L1513.0,1758.7 L1515.0,1750.8 L1517.0,1742.9 L1519.0,1735.0 L1521.0,1727.1 L1523.0,1719.2 L1525.0,1711.3 L1527.0,1703.4 L1529.0,1695.5 L1531.0,1687.7 L1533.0,1679.9 L1535.0,1672.1 L1537.0,1664.4 L1539.0,1656.8 L1541.0,1649.3 L1543.0,1641.8 L1545.0,1634.5 L1547.0,1627.3 L1549.0,1620.2 L1551.0,1613.2 L1553.0,1606.4 L1555.0,1599.8 L1557.0,1593.3 L1559.0,1587.0 L1561.0,1580.8 L1563.1,1574.7 L1565.1,1568.9 L1567.2,1563.3 L1569.2,1558.0 L1571.3,1553.0 L1573.3,1548.2 L1575.4,1543.7 L1577.4,1539.4 L1579.5,1535.5 L1581.5,1532.0 L1583.5,1528.7 L1585.6,1525.8 L1587.6,1523.2 L1589.7,1521.1 L1591.7,1519.3 L1593.8,1517.9 L1595.8,1516.8 L1597.9,1516.3 L1599.9,1516.1 L1602.0,1516.4 L1604.0,1517.1 L1606.0,1518.3 L1608.0,1519.9 L1610.0,1521.9 L1612.0,1524.3 L1614.0,1527.2 L1616.0,1530.5 L1618.0,1534.2 L1620.0,1538.3 L1622.0,1542.8 L1624.0,1547.7 L1626.0,1553.0 L1628.0,1558.6 L1630.0,1564.6 L1632.0,1571.0 L1634.0,1577.8 L1636.0,1584.9 L1638.0,1592.3 L1640.0,1600.1 L1642.0,1608.2 L1644.0,1616.7 L1646.0,1625.5 L1648.0,1634.6 L1650.0,1644.0 L1652.0,1653.8 L1654.0,1664.0 L1656.1,1674.4 L1658.1,1685.1 L1660.1,1696.0 L1662.1,1707.3 L1664.2,1718.7 L1666.2,1730.4 L1668.2,1742.4 L1670.2,1754.5 L1672.2,1766.9 L1674.3,1779.4 L1676.3,1792.1 L1678.3,1805.0 L1680.3,1818.0 L1682.3,1831.2 L1684.4,1844.6 L1686.4,1858.0 L1688.4,1871.6 L1690.4,1885.2 L1692.5,1899.0 L1694.5,1912.8 L1696.5,1926.7 L1698.6,1941.0 L1700.6,1955.3 L1702.7,1969.6 L1704.8,1984.0 L1706.8,1998.3 L1708.9,2012.6 L1711.0,2026.8 L1713.0,2040.9 L1715.1,2055.0 L1717.2,2068.9 L1719.2,2082.7 L1721.3,2096.4 L1723.4,2109.8 L1725.5,2123.1 L1727.5,2136.2 L1729.6,2149.0 L1731.7,2161.6 L1733.7,2173.9 L1735.8,2185.9 L1737.9,2197.6 L1739.9,2209.0 L1742.0,2220.0 L1744.1,2230.6 L1746.1,2240.9 L1748.2,2250.8 L1750.2,2260.4 L1752.3,2269.6 L1754.4,2278.6 L1756.4,2287.3 L1758.5,2295.7 L1760.5,2303.9 L1762.6,2311.8 L1764.7,2319.4 L1766.7,2326.9 L1768.8,2334.1 L1770.8,2341.1 L1772.9,2348.0 L1774.9,2354.7 L1777.0,2361.2 L1779.1,2367.6 L1781.1,2373.9 L1783.2,2380.0 L1785.2,2386.1 L1787.3,2392.0 L1789.3,2397.8 L1791.4,2403.5 L1793.4,2409.1 L1795.4,2414.6 L1797.5,2420.0 L1799.5,2425.3 L1801.5,2430.5 L1803.5,2435.5 L1805.6,2440.3 L1807.6,2445.1 L1809.6,2449.6 L1811.7,2454.0 L1813.7,2458.2 L1815.7,2462.2 L1817.8,2466.0 L1819.8,2469.7 L1821.8,2473.0 L1823.8,2476.2 L1825.9,2479.2 L1827.9,2481.9 L1829.9,2484.3 L1832.0,2486.5 L1834.0,2488.4 L1836.0,2490.1 L1838.1,2491.4 L1840.1,2492.6 L1842.2,2493.5 L1844.2,2494.0 L1846.3,2494.0 L1848.3,2494.0 L1850.4,2494.0 L1852.4,2494.0 L1854.5,2494.0 L1856.5,2494.0 L1858.5,2494.0 L1860.6,2494.0 L1862.6,2493.5 L1864.7,2492.9 L1866.7,2492.3 L1868.8,2491.7 L1870.8,2491.1 L1872.9,2490.5 L1874.9,2490.0 L1877.0,2489.5 L1879.0,2489.0 L1881.0,2488.6 L1883.0,2488.3 L1885.0,2488.1 L1887.0,2487.9 L1889.0,2487.8 L1891.0,2487.8 L1893.0,2487.8 L1895.0,2487.8 L1897.0,2487.9 L1899.0,2488.0 L1901.0,2488.1 L1903.0,2488.3 L1905.0,2488.5 L1907.0,2488.7 L1909.0,2488.9 L1911.0,2489.1 L1913.0,2489.3 L1915.0,2489.5 L1917.0,2489.7 L1919.0,2489.8 L1921.0,2490.0 L1923.0,2490.1 L1925.0,2490.2 L1927.0,2490.3 L1929.0,2490.4 L1931.0,2490.5 L1933.0,2490.5 L1935.0,2490.5 L1937.0,2490.5 L1939.0,2490.5 L1941.0,2490.5 L1943.0,2490.5 L1945.0,2490.4 L1947.0,2490.4 L1949.0,2490.3 L1951.0,2490.3 L1953.0,2490.2 L1955.0,2490.2 L1957.0,2490.2 L1959.0,2490.1 L1961.0,2490.1 L1963.0,2490.0 L1965.0,2490.0 L1967.0,2490.0 L1969.0,2490.0 L1971.0,2490.0 L1973.0,2490.0 L1975.0,2490.0 L1977.0,2490.0 L1979.0,2490.0 L1981.0,2490.1 L1983.0,2490.1 L1985.0,2490.1 L1987.0,2490.2 L1989.0,2490.2 L1991.0,2490.3 L1993.0,2490.3 L1995.0,2490.4 L1997.0,2490.5 L1999.0,2490.5 L2001.0,2490.6 L2003.0,2490.7 L2005.0,2490.7 L2007.0,2490.8 L2009.0,2490.9 L2011.0,2490.9 L2013.0,2491.0 L2015.0,2491.1 L2017.0,2491.1 L2019.0,2491.2 L2021.0,2491.2 L2023.0,2491.3 L2025.0,2491.4 L2027.0,2491.4 L2029.0,2491.5 L2031.0,2491.5 L2033.0,2491.6 L2035.0,2491.6 L2037.0,2491.7 L2039.0,2491.7 L2041.0,2491.7 L2043.0,2491.8 L2045.0,2491.8 L2047.0,2491.8 L2049.0,2491.9 L2051.0,2491.9 L2053.0,2491.9 L2055.0,2491.9 L2057.0,2492.0 L2059.0,2492.0 L2061.0,2492.0 L2063.0,2492.0 L2065.1,2492.0 L2067.2,2492.0 L2069.4,2492.0 L2071.5,2492.0 L2073.6,2492.0 L2075.8,2492.0 L2077.9,2492.0 L2080.0,2492.0" fill="none" stroke="#0040d0" stroke-width="6.5" stroke-linecap="round" stroke-linejoin="round"/>
<path d="M553.0,2174.3 L555.0,2173.2 L557.1,2172.1 L559.1,2171.1 L561.1,2170.0 L563.2,2168.9 L565.2,2167.8 L567.2,2166.8 L569.3,2165.7 L571.3,2164.6 L573.3,2163.6 L575.4,2162.5 L577.4,2161.4 L579.4,2160.4 L581.5,2159.3 L583.5,2158.3 L585.5,2157.2 L587.6,2156.2 L589.6,2155.1 L591.6,2154.1 L593.7,2153.0 L595.7,2152.0 L597.7,2151.0 L599.8,2150.0 L601.8,2149.0 L603.8,2147.9 L605.9,2146.9 L607.9,2145.9 L609.9,2145.0 L612.0,2144.0 L614.0,2143.0 L616.0,2142.0 L618.1,2141.1 L620.1,2140.1 L622.1,2139.2 L624.2,2138.2 L626.2,2137.3 L628.2,2136.4 L630.3,2135.5 L632.3,2134.6 L634.4,2133.6 L636.4,2132.8 L638.4,2131.9 L640.5,2131.0 L642.5,2130.1 L644.6,2129.2 L646.6,2128.4 L648.6,2127.5 L650.7,2126.6 L652.7,2125.8 L654.8,2124.9 L656.8,2124.1 L658.8,2123.2 L660.9,2122.4 L662.9,2121.5 L665.0,2120.7 L667.0,2119.8 L669.0,2118.9 L671.1,2118.1 L673.1,2117.2 L675.1,2116.4 L677.2,2115.5 L679.2,2114.6 L681.3,2113.8 L683.3,2112.9 L685.3,2112.0 L687.4,2111.1 L689.4,2110.2 L691.5,2109.3 L693.5,2108.4 L695.5,2107.5 L697.6,2106.6 L699.6,2105.7 L701.7,2104.7 L703.7,2103.8 L705.7,2102.8 L707.8,2101.9 L709.8,2100.9 L711.8,2100.0 L713.9,2099.0 L715.9,2098.0 L717.9,2097.1 L720.0,2096.1 L722.0,2095.1 L724.0,2094.2 L726.1,2093.3 L728.1,2092.3 L730.1,2091.4 L732.1,2090.6 L734.2,2089.7 L736.2,2088.9 L738.2,2088.0 L740.3,2087.2 L742.3,2086.5 L744.3,2085.7 L746.4,2085.0 L748.4,2084.4 L750.4,2083.7 L752.5,2083.2 L754.5,2082.6 L756.5,2082.1 L758.5,2081.6 L760.5,2081.2 L762.5,2080.9 L764.5,2080.5 L766.5,2080.2 L768.5,2080.0 L770.5,2079.8 L772.5,2079.6 L774.5,2079.5 L776.5,2079.4 L778.5,2079.4 L780.5,2079.4 L782.5,2079.5 L784.5,2079.6 L786.5,2079.8 L788.5,2079.9 L790.5,2080.2 L792.5,2080.5 L794.5,2080.8 L796.5,2081.2 L798.5,2081.6 L800.5,2082.1 L802.5,2082.6 L804.5,2083.2 L806.5,2083.8 L808.6,2084.5 L810.6,2085.2 L812.6,2085.9 L814.6,2086.7 L816.7,2087.6 L818.7,2088.4 L820.7,2089.4 L822.8,2090.3 L824.8,2091.3 L826.8,2092.4 L828.8,2093.5 L830.9,2094.6 L832.9,2095.8 L834.9,2097.0 L836.9,2098.2 L839.0,2099.5 L841.0,2100.8 L843.0,2102.1 L845.1,2103.5 L847.2,2104.9 L849.2,2106.4 L851.3,2107.9 L853.4,2109.4 L855.5,2111.0 L857.6,2112.6 L859.6,2114.2 L861.7,2115.8 L863.8,2117.5 L865.9,2119.1 L867.9,2120.8 L870.0,2122.5 L872.1,2124.2 L874.2,2126.0 L876.3,2127.7 L878.3,2129.5 L880.4,2131.2 L882.5,2133.0 L884.5,2134.7 L886.6,2136.5 L888.6,2138.3 L890.7,2140.0 L892.7,2141.8 L894.7,2143.6 L896.8,2145.4 L898.8,2147.1 L900.9,2149.0 L902.9,2150.8 L904.9,2152.6 L907.0,2154.4 L909.0,2156.2 L911.1,2158.1 L913.1,2160.0 L915.1,2161.8 L917.2,2163.7 L919.2,2165.6 L921.3,2167.5 L923.3,2169.4 L925.3,2171.3 L927.4,2173.2 L929.4,2175.2 L931.5,2177.1 L933.5,2179.1 L935.5,2181.1 L937.5,2183.0 L939.6,2185.0 L941.6,2187.0 L943.6,2189.0 L945.6,2191.0 L947.7,2193.0 L949.7,2195.0 L951.7,2197.0 L953.7,2198.9 L955.8,2200.9 L957.8,2202.9 L959.8,2204.8 L961.8,2206.8 L963.8,2208.7 L965.9,2210.6 L967.9,2212.5 L969.9,2214.4 L971.9,2216.2 L974.0,2218.0 L976.0,2219.8 L978.0,2221.6 L980.0,2223.4 L982.1,2225.1 L984.1,2226.8 L986.2,2228.4 L988.2,2230.1 L990.3,2231.7 L992.3,2233.2 L994.3,2234.8 L996.4,2236.3 L998.4,2237.9 L1000.5,2239.3 L1002.5,2240.8 L1004.6,2242.3 L1006.6,2243.7 L1008.7,2245.1 L1010.7,2246.5 L1012.7,2247.9 L1014.8,2249.3 L1016.8,2250.7 L1018.9,2252.0 L1020.9,2253.3 L1023.0,2254.7 L1025.0,2256.0 L1027.0,2257.3 L1029.1,2258.6 L1031.1,2259.9 L1033.1,2261.2 L1035.1,2262.4 L1037.2,2263.7 L1039.2,2264.9 L1041.2,2266.1 L1043.3,2267.3 L1045.3,2268.4 L1047.3,2269.6 L1049.3,2270.7 L1051.4,2271.7 L1053.4,2272.8 L1055.4,2273.8 L1057.5,2274.7 L1059.5,2275.6 L1061.5,2276.5 L1063.5,2277.4 L1065.6,2278.2 L1067.6,2278.9 L1069.6,2279.6 L1071.6,2280.2 L1073.7,2280.9 L1075.7,2281.4 L1077.7,2282.0 L1079.7,2282.4 L1081.7,2282.9 L1083.8,2283.4 L1085.8,2283.8 L1087.8,2284.2 L1089.8,2284.6 L1091.8,2284.9 L1093.8,2285.3 L1095.9,2285.6 L1097.9,2286.0 L1099.9,2286.3 L1101.9,2286.7 L1103.9,2287.0 L1106.0,2287.4 L1108.0,2287.7 L1110.0,2288.1 L1112.0,2288.5 L1114.0,2288.9 L1116.0,2289.3 L1118.0,2289.7 L1120.0,2290.1 L1122.0,2290.5 L1124.0,2290.9 L1126.0,2291.2 L1128.0,2291.5 L1130.0,2291.8 L1132.0,2292.1 L1134.0,2292.3 L1136.0,2292.4 L1138.0,2292.5 L1140.0,2292.5 L1142.0,2292.5 L1144.0,2292.4 L1146.0,2292.2 L1148.0,2291.9 L1150.0,2291.5 L1152.0,2291.0 L1154.1,2290.4 L1156.1,2289.8 L1158.1,2289.0 L1160.1,2288.2 L1162.2,2287.3 L1164.2,2286.3 L1166.2,2285.3 L1168.3,2284.2 L1170.3,2283.1 L1172.3,2282.0 L1174.3,2280.8 L1176.4,2279.6 L1178.4,2278.4 L1180.4,2277.1 L1182.5,2275.9 L1184.5,2274.6 L1186.5,2273.4 L1188.5,2272.1 L1190.6,2270.9 L1192.6,2269.7 L1194.6,2268.5 L1196.6,2267.4 L1198.6,2266.3 L1200.6,2265.3 L1202.6,2264.2 L1204.6,2263.2 L1206.6,2262.2 L1208.6,2261.2 L1210.6,2260.3 L1212.6,2259.4 L1214.6,2258.5 L1216.6,2257.6 L1218.6,2256.8 L1220.6,2255.9 L1222.6,2255.1 L1224.6,2254.3 L1226.6,2253.5 L1228.6,2252.8 L1230.6,2252.0 L1232.6,2251.3 L1234.6,2250.6 L1236.6,2249.9 L1238.6,2249.2 L1240.6,2248.6 L1242.6,2247.9 L1244.6,2247.3 L1246.6,2246.7 L1248.6,2246.1 L1250.6,2245.5 L1252.6,2244.9 L1254.6,2244.3 L1256.6,2243.7 L1258.7,2243.1 L1260.7,2242.5 L1262.7,2241.9 L1264.7,2241.3 L1266.7,2240.7 L1268.7,2240.1 L1270.7,2239.5 L1272.7,2238.9 L1274.7,2238.2 L1276.7,2237.6 L1278.7,2236.9 L1280.7,2236.3 L1282.8,2235.6 L1284.8,2234.8 L1286.8,2234.1 L1288.8,2233.3 L1290.8,2232.6 L1292.8,2231.7 L1294.8,2230.9 L1296.8,2230.0 L1298.8,2229.1 L1300.8,2228.2 L1302.8,2227.2 L1304.8,2226.2 L1306.8,2225.2 L1308.8,2224.2 L1310.8,2223.1 L1312.8,2222.0 L1314.8,2220.8 L1316.8,2219.6 L1318.8,2218.4 L1320.8,2217.1 L1322.8,2215.9 L1324.8,2214.5 L1326.8,2213.2 L1328.8,2211.8 L1330.8,2210.4 L1332.8,2208.9 L1334.8,2207.4 L1336.8,2205.9 L1338.8,2204.3 L1340.8,2202.7 L1342.9,2201.0 L1344.9,2199.3 L1346.9,2197.5 L1349.0,2195.7 L1351.0,2193.8 L1353.0,2191.9 L1355.1,2189.9 L1357.1,2187.9 L1359.1,2185.7 L1361.2,2183.6 L1363.2,2181.3 L1365.2,2179.0 L1367.3,2176.6 L1369.3,2174.1 L1371.3,2171.5 L1373.4,2168.8 L1375.4,2166.1 L1377.4,2163.2 L1379.5,2160.3 L1381.5,2157.2 L1383.5,2154.1 L1385.5,2150.9 L1387.5,2147.6 L1389.5,2144.2 L1391.5,2140.7 L1393.5,2137.1 L1395.5,2133.4 L1397.5,2129.6 L1399.5,2125.7 L1401.5,2121.8 L1403.5,2117.7 L1405.5,2113.5 L1407.5,2109.3 L1409.5,2104.9 L1411.5,2100.5 L1413.5,2096.0 L1415.5,2091.4 L1417.5,2086.7 L1419.5,2081.9 L1421.5,2077.1 L1423.5,2072.1 L1425.5,2067.1 L1427.5,2061.9 L1429.6,2056.6 L1431.6,2051.2 L1433.7,2045.7 L1435.7,2040.2 L1437.8,2034.6 L1439.8,2028.9 L1441.8,2023.1 L1443.9,2017.3 L1445.9,2011.4 L1448.0,2005.4 L1450.0,1999.4 L1452.1,1993.4 L1454.1,1987.2 L1456.2,1981.0 L1458.2,1974.8 L1460.2,1968.5 L1462.3,1962.2 L1464.3,1955.8 L1466.4,1949.4 L1468.4,1942.9 L1470.5,1936.4 L1472.5,1929.9 L1474.5,1923.4 L1476.5,1916.9 L1478.6,1910.3 L1480.6,1903.7 L1482.6,1897.0 L1484.6,1890.4 L1486.7,1883.6 L1488.7,1876.9 L1490.7,1870.1 L1492.7,1863.2 L1494.8,1856.3 L1496.8,1849.3 L1498.8,1842.4 L1500.8,1835.3 L1502.8,1828.2 L1504.9,1821.1 L1506.9,1813.9 L1508.9,1806.6 L1510.9,1799.3 L1513.0,1791.9 L1515.0,1784.5 L1517.0,1777.0 L1519.0,1769.5 L1521.0,1762.0 L1523.0,1754.5 L1525.0,1746.9 L1527.0,1739.3 L1529.0,1731.6 L1531.0,1724.0 L1533.0,1716.4 L1535.0,1708.8 L1537.0,1701.2 L1539.0,1693.6 L1541.0,1686.1 L1543.0,1678.6 L1545.0,1671.2 L1547.0,1663.8 L1549.0,1656.5 L1551.0,1649.3 L1553.0,1642.2 L1555.0,1635.3 L1557.0,1628.4 L1559.0,1621.6 L1561.0,1614.8 L1563.1,1608.2 L1565.1,1601.7 L1567.2,1595.3 L1569.2,1589.2 L1571.3,1583.2 L1573.3,1577.4 L1575.4,1571.8 L1577.4,1566.3 L1579.5,1561.1 L1581.5,1556.1 L1583.5,1551.3 L1585.6,1546.7 L1587.6,1542.4 L1589.7,1538.3 L1591.7,1534.5 L1593.8,1530.9 L1595.8,1527.6 L1597.9,1524.5 L1599.9,1521.8 L1602.0,1519.3 L1604.0,1517.1 L1606.0,1515.3 L1608.0,1513.7 L1610.0,1512.5 L1612.0,1511.5 L1614.0,1510.8 L1616.0,1510.5 L1618.0,1510.4 L1620.0,1510.7 L1622.0,1511.3 L1624.0,1512.2 L1626.0,1513.4 L1628.0,1514.9 L1630.0,1516.8 L1632.0,1519.0 L1634.0,1521.5 L1636.0,1524.4 L1638.0,1527.6 L1640.0,1531.1 L1642.0,1535.0 L1644.0,1539.2 L1646.0,1543.8 L1648.0,1548.7 L1650.0,1554.0 L1652.0,1559.7 L1654.0,1565.8 L1656.1,1572.2 L1658.1,1579.0 L1660.1,1586.1 L1662.1,1593.6 L1664.2,1601.4 L1666.2,1609.5 L1668.2,1618.0 L1670.2,1626.8 L1672.2,1635.9 L1674.3,1645.3 L1676.3,1655.1 L1678.3,1665.1 L1680.3,1675.5 L1682.3,1686.1 L1684.4,1697.1 L1686.4,1708.3 L1688.4,1719.8 L1690.4,1731.6 L1692.5,1743.7 L1694.5,1756.0 L1696.5,1768.6 L1698.6,1781.8 L1700.6,1795.2 L1702.7,1808.8 L1704.8,1822.7 L1706.8,1836.8 L1708.9,1851.1 L1711.0,1865.5 L1713.0,1880.1 L1715.1,1894.8 L1717.2,1909.6 L1719.2,1924.6 L1721.3,1939.6 L1723.4,1954.7 L1725.5,1969.8 L1727.5,1985.0 L1729.6,2000.1 L1731.7,2015.3 L1733.7,2030.5 L1735.8,2045.6 L1737.9,2060.6 L1739.9,2075.6 L1742.0,2090.5 L1744.1,2105.2 L1746.1,2119.8 L1748.2,2134.3 L1750.2,2148.6 L1752.3,2162.8 L1754.4,2176.8 L1756.4,2190.6 L1758.5,2204.2 L1760.5,2217.6 L1762.6,2230.7 L1764.7,2243.7 L1766.7,2256.4 L1768.8,2268.8 L1770.8,2281.0 L1772.9,2292.9 L1774.9,2304.4 L1777.0,2315.7 L1779.1,2326.6 L1781.1,2337.2 L1783.2,2347.5 L1785.2,2357.4 L1787.3,2366.9 L1789.3,2375.9 L1791.4,2384.5 L1793.4,2392.8 L1795.4,2400.7 L1797.5,2408.2 L1799.5,2415.4 L1801.5,2422.3 L1803.5,2428.8 L1805.6,2434.9 L1807.6,2440.8 L1809.6,2446.3 L1811.7,2451.4 L1813.7,2456.3 L1815.7,2460.8 L1817.8,2465.1 L1819.8,2469.0 L1821.8,2472.6 L1823.8,2476.0 L1825.9,2479.0 L1827.9,2481.8 L1829.9,2484.3 L1832.0,2486.5 L1834.0,2488.4 L1836.0,2490.1 L1838.1,2491.5 L1840.1,2492.7 L1842.2,2493.7 L1844.2,2494.0 L1846.3,2494.0 L1848.3,2494.0 L1850.4,2494.0 L1852.4,2494.0 L1854.5,2494.0 L1856.5,2494.0 L1858.5,2494.0 L1860.6,2494.0 L1862.6,2494.0 L1864.7,2494.0 L1866.7,2493.5 L1868.8,2493.0 L1870.8,2492.5 L1872.9,2491.9 L1874.9,2491.4 L1877.0,2490.9 L1879.0,2490.5 L1881.0,2490.1 L1883.0,2489.8 L1885.0,2489.6 L1887.0,2489.4 L1889.0,2489.3 L1891.0,2489.2 L1893.0,2489.1 L1895.0,2489.1 L1897.0,2489.1 L1899.0,2489.2 L1901.0,2489.2 L1903.0,2489.3 L1905.0,2489.4 L1907.0,2489.6 L1909.0,2489.7 L1911.0,2489.8 L1913.0,2490.0 L1915.0,2490.1 L1917.0,2490.3 L1919.0,2490.4 L1921.0,2490.5 L1923.0,2490.6 L1925.0,2490.7 L1927.0,2490.7 L1929.0,2490.8 L1931.0,2490.8 L1933.0,2490.9 L1935.0,2490.9 L1937.0,2490.9 L1939.0,2490.9 L1941.0,2490.9 L1943.0,2490.9 L1945.0,2490.8 L1947.0,2490.8 L1949.0,2490.8 L1951.0,2490.7 L1953.0,2490.7 L1955.0,2490.7 L1957.0,2490.6 L1959.0,2490.6 L1961.0,2490.6 L1963.0,2490.5 L1965.0,2490.5 L1967.0,2490.5 L1969.0,2490.5 L1971.0,2490.4 L1973.0,2490.4 L1975.0,2490.4 L1977.0,2490.4 L1979.0,2490.4 L1981.0,2490.5 L1983.0,2490.5 L1985.0,2490.5 L1987.0,2490.5 L1989.0,2490.5 L1991.0,2490.6 L1993.0,2490.6 L1995.0,2490.6 L1997.0,2490.7 L1999.0,2490.7 L2001.0,2490.7 L2003.0,2490.8 L2005.0,2490.8 L2007.0,2490.9 L2009.0,2490.9 L2011.0,2491.0 L2013.0,2491.0 L2015.0,2491.0 L2017.0,2491.1 L2019.0,2491.1 L2021.0,2491.2 L2023.0,2491.3 L2025.0,2491.3 L2027.0,2491.4 L2029.0,2491.4 L2031.0,2491.5 L2033.0,2491.5 L2035.0,2491.5 L2037.0,2491.6 L2039.0,2491.6 L2041.0,2491.7 L2043.0,2491.7 L2045.0,2491.8 L2047.0,2491.8 L2049.0,2491.8 L2051.0,2491.9 L2053.0,2491.9 L2055.0,2491.9 L2057.0,2491.9 L2059.0,2492.0 L2061.0,2492.0 L2063.0,2492.0 L2065.1,2492.0 L2067.2,2492.0 L2069.4,2492.0 L2071.5,2492.0 L2073.6,2492.0 L2075.8,2492.0 L2077.9,2492.0 L2080.0,2492.0" fill="none" stroke="#0a0a0a" stroke-width="7" stroke-linecap="round" stroke-linejoin="round"/>
<rect x="545.0" y="2237.4" width="16.0" height="16.0" fill="#ff0000" stroke="#120000" stroke-width="5"/>
<rect x="746.5" y="2154.8" width="16.0" height="16.0" fill="#ff0000" stroke="#120000" stroke-width="5"/>
<rect x="794.5" y="2157.1" width="16.0" height="16.0" fill="#ff0000" stroke="#120000" stroke-width="5"/>
<rect x="835.0" y="2169.8" width="16.0" height="16.0" fill="#ff0000" stroke="#120000" stroke-width="5"/>
<rect x="874.5" y="2190.5" width="16.0" height="16.0" fill="#ff0000" stroke="#120000" stroke-width="5"/>
<rect x="925.5" y="2227.3" width="16.0" height="16.0" fill="#ff0000" stroke="#120000" stroke-width="5"/>
<rect x="970.0" y="2262.9" width="16.0" height="16.0" fill="#ff0000" stroke="#120000" stroke-width="5"/>
<rect x="1017.0" y="2293.8" width="16.0" height="16.0" fill="#ff0000" stroke="#120000" stroke-width="5"/>
<rect x="1059.6" y="2312.2" width="16.0" height="16.0" fill="#ff0000" stroke="#120000" stroke-width="5"/>
<rect x="1102.0" y="2312.2" width="16.0" height="16.0" fill="#ff0000" stroke="#120000" stroke-width="5"/>
<rect x="1142.0" y="2284.0" width="16.0" height="16.0" fill="#ff0000" stroke="#120000" stroke-width="5"/>
<rect x="1184.6" y="2244.5" width="16.0" height="16.0" fill="#ff0000" stroke="#120000" stroke-width="5"/>
<rect x="1236.6" y="2180.0" width="16.0" height="16.0" fill="#ff0000" stroke="#120000" stroke-width="5"/>
<rect x="1286.8" y="2116.4" width="16.0" height="16.0" fill="#ff0000" stroke="#120000" stroke-width="5"/>
<rect x="1330.8" y="2067.3" width="16.0" height="16.0" fill="#ff0000" stroke="#120000" stroke-width="5"/>
<rect x="1373.5" y="2004.8" width="16.0" height="16.0" fill="#ff0000" stroke="#120000" stroke-width="5"/>
<rect x="1417.5" y="1917.8" width="16.0" height="16.0" fill="#ff0000" stroke="#120000" stroke-width="5"/>
<rect x="1464.5" y="1780.1" width="16.0" height="16.0" fill="#ff0000" stroke="#120000" stroke-width="5"/>
<rect x="1509.0" y="1608.3" width="16.0" height="16.0" fill="#ff0000" stroke="#120000" stroke-width="5"/>
<rect x="1551.0" y="1431.3" width="16.0" height="16.0" fill="#ff0000" stroke="#120000" stroke-width="5"/>
<rect x="1596.0" y="1317.6" width="16.0" height="16.0" fill="#ff0000" stroke="#120000" stroke-width="5"/>
<rect x="1642.0" y="1422.0" width="16.0" height="16.0" fill="#ff0000" stroke="#120000" stroke-width="5"/>
<rect x="1688.5" y="1798.7" width="16.0" height="16.0" fill="#ff0000" stroke="#120000" stroke-width="5"/>
<rect x="1734.0" y="2212.0" width="16.0" height="16.0" fill="#ff0000" stroke="#120000" stroke-width="5"/>
<rect x="1779.3" y="2419.6" width="16.0" height="16.0" fill="#ff0000" stroke="#120000" stroke-width="5"/>
<rect x="1826.0" y="2480.4" width="16.0" height="16.0" fill="#ff0000" stroke="#120000" stroke-width="5"/>
<rect x="1871.0" y="2481.0" width="16.0" height="16.0" fill="#ff0000" stroke="#120000" stroke-width="5"/>
<rect x="1913.0" y="2482.0" width="16.0" height="16.0" fill="#ff0000" stroke="#120000" stroke-width="5"/>
<rect x="1957.0" y="2482.0" width="16.0" height="16.0" fill="#ff0000" stroke="#120000" stroke-width="5"/>
<rect x="2005.0" y="2483.0" width="16.0" height="16.0" fill="#ff0000" stroke="#120000" stroke-width="5"/>
<rect x="2055.0" y="2484.0" width="16.0" height="16.0" fill="#ff0000" stroke="#120000" stroke-width="5"/>
<rect x="2072.0" y="2484.0" width="16.0" height="16.0" fill="#ff0000" stroke="#120000" stroke-width="5"/>
<circle cx="553.0" cy="2137.6" r="8.0" fill="#0a34a0" stroke="#04071a" stroke-width="4.5"/>
<circle cx="754.5" cy="2041.3" r="8.0" fill="#0a34a0" stroke="#04071a" stroke-width="4.5"/>
<circle cx="802.5" cy="2051.6" r="8.0" fill="#0a34a0" stroke="#04071a" stroke-width="4.5"/>
<circle cx="843.0" cy="2080.3" r="8.0" fill="#0a34a0" stroke="#04071a" stroke-width="4.5"/>
<circle cx="882.5" cy="2127.5" r="8.0" fill="#0a34a0" stroke="#04071a" stroke-width="4.5"/>
<circle cx="933.5" cy="2182.6" r="8.0" fill="#0a34a0" stroke="#04071a" stroke-width="4.5"/>
<circle cx="978.0" cy="2239.9" r="8.0" fill="#0a34a0" stroke="#04071a" stroke-width="4.5"/>
<circle cx="1025.0" cy="2278.9" r="8.0" fill="#0a34a0" stroke="#04071a" stroke-width="4.5"/>
<circle cx="1067.6" cy="2303.0" r="8.0" fill="#0a34a0" stroke="#04071a" stroke-width="4.5"/>
<circle cx="1110.0" cy="2305.3" r="8.0" fill="#0a34a0" stroke="#04071a" stroke-width="4.5"/>
<circle cx="1150.0" cy="2297.2" r="8.0" fill="#0a34a0" stroke="#04071a" stroke-width="4.5"/>
<circle cx="1192.6" cy="2267.4" r="8.0" fill="#0a34a0" stroke="#04071a" stroke-width="4.5"/>
<circle cx="1244.6" cy="2232.0" r="8.0" fill="#0a34a0" stroke="#04071a" stroke-width="4.5"/>
<circle cx="1294.8" cy="2212.5" r="8.0" fill="#0a34a0" stroke="#04071a" stroke-width="4.5"/>
<circle cx="1338.8" cy="2190.0" r="8.0" fill="#0a34a0" stroke="#04071a" stroke-width="4.5"/>
<circle cx="1381.5" cy="2136.7" r="8.0" fill="#0a34a0" stroke="#04071a" stroke-width="4.5"/>
<circle cx="1425.5" cy="2047.6" r="8.0" fill="#0a34a0" stroke="#04071a" stroke-width="4.5"/>
<circle cx="1472.5" cy="1907.3" r="8.0" fill="#0a34a0" stroke="#04071a" stroke-width="4.5"/>
<circle cx="1517.0" cy="1742.9" r="8.0" fill="#0a34a0" stroke="#04071a" stroke-width="4.5"/>
<circle cx="1559.0" cy="1587.0" r="8.0" fill="#0a34a0" stroke="#04071a" stroke-width="4.5"/>
<circle cx="1604.0" cy="1517.1" r="8.0" fill="#0a34a0" stroke="#04071a" stroke-width="4.5"/>
<circle cx="1650.0" cy="1644.0" r="8.0" fill="#0a34a0" stroke="#04071a" stroke-width="4.5"/>
<circle cx="1696.5" cy="1926.7" r="8.0" fill="#0a34a0" stroke="#04071a" stroke-width="4.5"/>
<circle cx="1742.0" cy="2220.0" r="8.0" fill="#0a34a0" stroke="#04071a" stroke-width="4.5"/>
<circle cx="1787.3" cy="2392.0" r="8.0" fill="#0a34a0" stroke="#04071a" stroke-width="4.5"/>
<circle cx="1834.0" cy="2488.4" r="8.0" fill="#0a34a0" stroke="#04071a" stroke-width="4.5"/>
<circle cx="1879.0" cy="2489.0" r="8.0" fill="#0a34a0" stroke="#04071a" stroke-width="4.5"/>
<circle cx="1921.0" cy="2490.0" r="8.0" fill="#0a34a0" stroke="#04071a" stroke-width="4.5"/>
<circle cx="1965.0" cy="2490.0" r="8.0" fill="#0a34a0" stroke="#04071a" stroke-width="4.5"/>
<circle cx="2013.0" cy="2491.0" r="8.0" fill="#0a34a0" stroke="#04071a" stroke-width="4.5"/>
<circle cx="2063.0" cy="2492.0" r="8.0" fill="#0a34a0" stroke="#04071a" stroke-width="4.5"/>
<circle cx="2080.0" cy="2492.0" r="8.0" fill="#0a34a0" stroke="#04071a" stroke-width="4.5"/>
<polygon points="553.0,2163.3 564.0,2183.3 542.0,2183.3" fill="#000" stroke="#000" stroke-width="2" stroke-linejoin="round"/>
<polygon points="754.5,2071.6 765.5,2091.6 743.5,2091.6" fill="#000" stroke="#000" stroke-width="2" stroke-linejoin="round"/>
<polygon points="802.5,2071.6 813.5,2091.6 791.5,2091.6" fill="#000" stroke="#000" stroke-width="2" stroke-linejoin="round"/>
<polygon points="843.0,2091.1 854.0,2111.1 832.0,2111.1" fill="#000" stroke="#000" stroke-width="2" stroke-linejoin="round"/>
<polygon points="882.5,2122.0 893.5,2142.0 871.5,2142.0" fill="#000" stroke="#000" stroke-width="2" stroke-linejoin="round"/>
<polygon points="933.5,2168.1 944.5,2188.1 922.5,2188.1" fill="#000" stroke="#000" stroke-width="2" stroke-linejoin="round"/>
<polygon points="978.0,2210.6 989.0,2230.6 967.0,2230.6" fill="#000" stroke="#000" stroke-width="2" stroke-linejoin="round"/>
<polygon points="1025.0,2245.0 1036.0,2265.0 1014.0,2265.0" fill="#000" stroke="#000" stroke-width="2" stroke-linejoin="round"/>
<polygon points="1067.6,2267.9 1078.6,2287.9 1056.6,2287.9" fill="#000" stroke="#000" stroke-width="2" stroke-linejoin="round"/>
<polygon points="1110.0,2277.1 1121.0,2297.1 1099.0,2297.1" fill="#000" stroke="#000" stroke-width="2" stroke-linejoin="round"/>
<polygon points="1150.0,2280.5 1161.0,2300.5 1139.0,2300.5" fill="#000" stroke="#000" stroke-width="2" stroke-linejoin="round"/>
<polygon points="1192.6,2258.7 1203.6,2278.7 1181.6,2278.7" fill="#000" stroke="#000" stroke-width="2" stroke-linejoin="round"/>
<polygon points="1244.6,2236.3 1255.6,2256.3 1233.6,2256.3" fill="#000" stroke="#000" stroke-width="2" stroke-linejoin="round"/>
<polygon points="1294.8,2219.9 1305.8,2239.9 1283.8,2239.9" fill="#000" stroke="#000" stroke-width="2" stroke-linejoin="round"/>
<polygon points="1338.8,2193.3 1349.8,2213.3 1327.8,2213.3" fill="#000" stroke="#000" stroke-width="2" stroke-linejoin="round"/>
<polygon points="1381.5,2146.2 1392.5,2166.2 1370.5,2166.2" fill="#000" stroke="#000" stroke-width="2" stroke-linejoin="round"/>
<polygon points="1425.5,2056.1 1436.5,2076.1 1414.5,2076.1" fill="#000" stroke="#000" stroke-width="2" stroke-linejoin="round"/>
<polygon points="1472.5,1918.9 1483.5,1938.9 1461.5,1938.9" fill="#000" stroke="#000" stroke-width="2" stroke-linejoin="round"/>
<polygon points="1517.0,1766.0 1528.0,1786.0 1506.0,1786.0" fill="#000" stroke="#000" stroke-width="2" stroke-linejoin="round"/>
<polygon points="1559.0,1610.6 1570.0,1630.6 1548.0,1630.6" fill="#000" stroke="#000" stroke-width="2" stroke-linejoin="round"/>
<polygon points="1604.0,1506.1 1615.0,1526.1 1593.0,1526.1" fill="#000" stroke="#000" stroke-width="2" stroke-linejoin="round"/>
<polygon points="1650.0,1543.0 1661.0,1563.0 1639.0,1563.0" fill="#000" stroke="#000" stroke-width="2" stroke-linejoin="round"/>
<polygon points="1696.5,1757.6 1707.5,1777.6 1685.5,1777.6" fill="#000" stroke="#000" stroke-width="2" stroke-linejoin="round"/>
<polygon points="1742.0,2079.5 1753.0,2099.5 1731.0,2099.5" fill="#000" stroke="#000" stroke-width="2" stroke-linejoin="round"/>
<polygon points="1787.3,2355.9 1798.3,2375.9 1776.3,2375.9" fill="#000" stroke="#000" stroke-width="2" stroke-linejoin="round"/>
<polygon points="1834.0,2477.4 1845.0,2497.4 1823.0,2497.4" fill="#000" stroke="#000" stroke-width="2" stroke-linejoin="round"/>
<polygon points="1879.0,2479.5 1890.0,2499.5 1868.0,2499.5" fill="#000" stroke="#000" stroke-width="2" stroke-linejoin="round"/>
<polygon points="1921.0,2479.5 1932.0,2499.5 1910.0,2499.5" fill="#000" stroke="#000" stroke-width="2" stroke-linejoin="round"/>
<polygon points="1965.0,2479.5 1976.0,2499.5 1954.0,2499.5" fill="#000" stroke="#000" stroke-width="2" stroke-linejoin="round"/>
<polygon points="2013.0,2480.0 2024.0,2500.0 2002.0,2500.0" fill="#000" stroke="#000" stroke-width="2" stroke-linejoin="round"/>
<polygon points="2063.0,2481.0 2074.0,2501.0 2052.0,2501.0" fill="#000" stroke="#000" stroke-width="2" stroke-linejoin="round"/>
<polygon points="2080.0,2481.0 2091.0,2501.0 2069.0,2501.0" fill="#000" stroke="#000" stroke-width="2" stroke-linejoin="round"/>
<rect x="1868.5" y="2480.0" width="21" height="21" rx="4" fill="#050505"/>
<rect x="1910.5" y="2480.0" width="21" height="21" rx="4" fill="#050505"/>
<rect x="1954.5" y="2480.0" width="21" height="21" rx="4" fill="#050505"/>
<rect x="2002.5" y="2480.5" width="21" height="21" rx="4" fill="#050505"/>
<rect x="2052.5" y="2481.5" width="21" height="21" rx="4" fill="#050505"/>
<rect x="2069.5" y="2481.5" width="21" height="21" rx="4" fill="#050505"/>
<text x="167" y="1039.0" font-size="44" font-weight="bold" fill="#000" text-anchor="end" >0.2</text>
<text x="167" y="885.8" font-size="44" font-weight="bold" fill="#000" text-anchor="end" >0.4</text>
<text x="167" y="731.6" font-size="44" font-weight="bold" fill="#000" text-anchor="end" >0.6</text>
<text x="167" y="578.3" font-size="44" font-weight="bold" fill="#000" text-anchor="end" >0.8</text>
<text x="167" y="425.7" font-size="44" font-weight="bold" fill="#000" text-anchor="end" >1.0</text>
<text x="167" y="272.5" font-size="44" font-weight="bold" fill="#000" text-anchor="end" >1.2</text>
<text x="167" y="117.7" font-size="44" font-weight="bold" fill="#000" text-anchor="end" >1.4</text>
<text x="165" y="1188.8" font-size="44" font-weight="bold" fill="#000" text-anchor="end" >0</text>
<text x="174" y="1225.7" font-size="44" font-weight="bold" fill="#000" text-anchor="middle" >0.1</text>
<text x="537" y="1220.3" font-size="44" font-weight="bold" fill="#000" text-anchor="middle" >0.5</text>
<text x="692" y="1221" font-size="44" font-weight="bold" fill="#000" text-anchor="middle" >1</text>
<text x="1062.5" y="1218.2" font-size="44" font-weight="bold" fill="#000" text-anchor="middle" >5</text>
<text x="1218" y="1218.1" font-size="44" font-weight="bold" fill="#000" text-anchor="middle" >10</text>
<text x="1587.3" y="1217" font-size="44" font-weight="bold" fill="#000" text-anchor="middle" >50</text>
<text x="1745.4" y="1217.4" font-size="44" font-weight="bold" fill="#000" text-anchor="middle" >100</text>
<text x="2110" y="1213.6" font-size="44" font-weight="bold" fill="#000" text-anchor="middle" >500</text>
<text x="1196.7" y="1266.6" font-size="52" font-weight="bold" fill="#000" text-anchor="middle" textLength="426" lengthAdjust="spacingAndGlyphs" >particle size (µm)</text>
<text x="0" y="0" font-size="54" font-weight="bold" fill="#000" text-anchor="middle" textLength="416" lengthAdjust="spacingAndGlyphs" transform="translate(60,625.5) rotate(-90)">frequency q3 (x)</text>
<text x="162" y="2322.6" font-size="44" font-weight="bold" fill="#000" text-anchor="end" >0.2</text>
<text x="162" y="2127.0" font-size="44" font-weight="bold" fill="#000" text-anchor="end" >0.4</text>
<text x="162" y="1933.5" font-size="44" font-weight="bold" fill="#000" text-anchor="end" >0.6</text>
<text x="162" y="1738.1" font-size="44" font-weight="bold" fill="#000" text-anchor="end" >0.8</text>
<text x="162" y="1538.0" font-size="44" font-weight="bold" fill="#000" text-anchor="end" >1.0</text>
<text x="162" y="1343.0" font-size="44" font-weight="bold" fill="#000" text-anchor="end" >1.2</text>
<text x="160" y="2512" font-size="44" font-weight="bold" fill="#000" text-anchor="end" >0</text>
<text x="170" y="2551" font-size="44" font-weight="bold" fill="#000" text-anchor="middle" >0.5</text>
<text x="346" y="2550" font-size="44" font-weight="bold" fill="#000" text-anchor="middle" >1</text>
<text x="760" y="2547" font-size="44" font-weight="bold" fill="#000" text-anchor="middle" >5</text>
<text x="934" y="2543.5" font-size="44" font-weight="bold" fill="#000" text-anchor="middle" >10</text>
<text x="1345.5" y="2543" font-size="44" font-weight="bold" fill="#000" text-anchor="middle" >50</text>
<text x="1522.5" y="2541" font-size="44" font-weight="bold" fill="#000" text-anchor="middle" >100</text>
<text x="1939.8" y="2541.7" font-size="44" font-weight="bold" fill="#000" text-anchor="middle" >500</text>
<text x="2117" y="2538.3" font-size="44" font-weight="bold" fill="#000" text-anchor="middle" >1000</text>
<text x="1145" y="2587.7" font-size="52" font-weight="bold" fill="#000" text-anchor="middle" textLength="427" lengthAdjust="spacingAndGlyphs" >particle size (µm)</text>
<text x="0" y="0" font-size="54" font-weight="bold" fill="#000" text-anchor="middle" textLength="403" lengthAdjust="spacingAndGlyphs" transform="translate(58.6,1944.3) rotate(-90)">frequency q3 (x)</text>
</svg>
</body></html>
